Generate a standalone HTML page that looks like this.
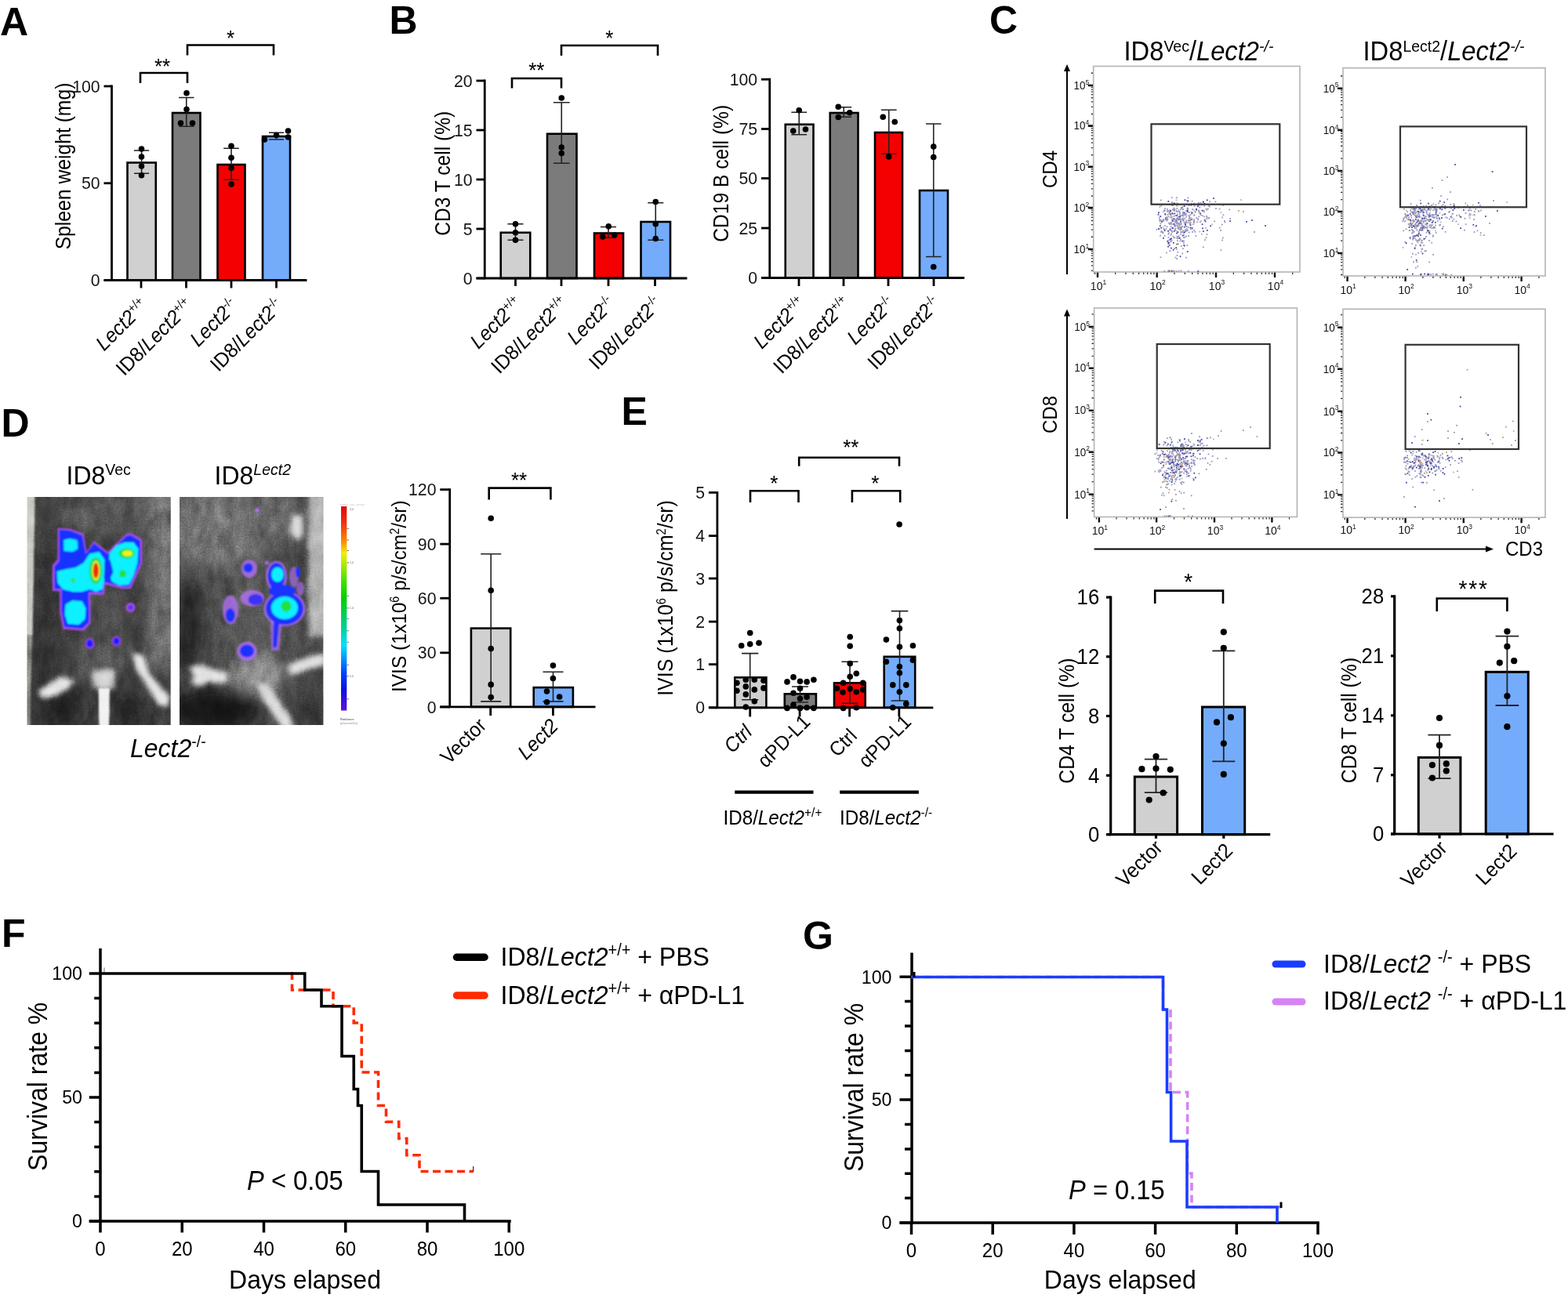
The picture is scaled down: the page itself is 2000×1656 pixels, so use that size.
<!DOCTYPE html>
<html><head><meta charset="utf-8"><title>Figure</title><style>html,body{margin:0;padding:0;background:#fff;width:2000px;height:1656px;overflow:hidden}svg{display:block}</style></head><body>
<svg xmlns="http://www.w3.org/2000/svg" width="2000" height="1656" viewBox="0 0 2000 1656">
<rect width="2000" height="1656" fill="#fff"/>
<defs><filter id="bl1" x="-20%" y="-20%" width="140%" height="140%"><feGaussianBlur stdDeviation="1.2"/></filter><filter id="bl3" x="-50%" y="-50%" width="200%" height="200%"><feGaussianBlur stdDeviation="3"/></filter><filter id="bl6" x="-50%" y="-50%" width="200%" height="200%"><feGaussianBlur stdDeviation="6"/></filter><filter id="bl10" x="-50%" y="-50%" width="200%" height="200%"><feGaussianBlur stdDeviation="10"/></filter><filter id="fur" x="0" y="0" width="100%" height="100%" color-interpolation-filters="sRGB"><feTurbulence type="fractalNoise" baseFrequency="0.07 0.04" numOctaves="3" seed="7"/><feColorMatrix type="matrix" values="0.8 0.8 0 0 -0.3  0.8 0.8 0 0 -0.3  0.8 0.8 0 0 -0.3  0 0 0 0 1"/></filter><filter id="fur2" x="0" y="0" width="100%" height="100%" color-interpolation-filters="sRGB"><feTurbulence type="fractalNoise" baseFrequency="0.5" numOctaves="2" seed="3"/><feColorMatrix type="matrix" values="0.7 0.7 0 0 -0.2  0.7 0.7 0 0 -0.2  0.7 0.7 0 0 -0.2  0 0 0 0 1"/></filter><linearGradient id="cbar" x1="0" y1="0" x2="0" y2="1"><stop offset="0" stop-color="#e00808"/><stop offset="0.08" stop-color="#f03010"/><stop offset="0.17" stop-color="#ff8800"/><stop offset="0.23" stop-color="#f0f000"/><stop offset="0.37" stop-color="#40e000"/><stop offset="0.45" stop-color="#00d000"/><stop offset="0.6" stop-color="#00d0a0"/><stop offset="0.68" stop-color="#00e0ff"/><stop offset="0.82" stop-color="#0040ff"/><stop offset="0.9" stop-color="#1010e0"/><stop offset="1" stop-color="#6010e0"/></linearGradient></defs>
<g font-family="Liberation Sans, Arial, Helvetica, sans-serif">
<text x="0" y="45" font-size="50" font-weight="bold" fill="#000">A</text>
<text x="496.5" y="42.5" font-size="50" font-weight="bold" fill="#000">B</text>
<text x="1262" y="42.5" font-size="50" font-weight="bold" fill="#000">C</text>
<text x="1.5" y="557" font-size="50" font-weight="bold" fill="#000">D</text>
<text x="792.4" y="541.8" font-size="50" font-weight="bold" fill="#000">E</text>
<text x="2" y="1207.5" font-size="50" font-weight="bold" fill="#000">F</text>
<text x="1024" y="1211" font-size="50" font-weight="bold" fill="#000">G</text>
<rect x="162.5" y="207.5" width="36.25" height="150" fill="#d0d0d0" stroke="#000" stroke-width="2.6"/>
<rect x="220" y="144" width="35.5" height="213.5" fill="#7b7b7b" stroke="#000" stroke-width="2.6"/>
<rect x="277.5" y="210" width="35" height="147.5" fill="#f50000" stroke="#000" stroke-width="2.6"/>
<rect x="335" y="174" width="35" height="183.5" fill="#74acfb" stroke="#000" stroke-width="2.6"/>
<path d="M180.6 192V221.25M171 192H190.2M171 221.25H190.2" stroke="#222" stroke-width="1.6" fill="none"/>
<path d="M237.75 124.5V161.25M228 124.5H247.5M228 161.25H247.5" stroke="#222" stroke-width="1.6" fill="none"/>
<path d="M295 189.25V229.25M285.25 189.25H304.75M285.25 229.25H304.75" stroke="#222" stroke-width="1.6" fill="none"/>
<path d="M352.5 169.25V178M343 169.25H362M343 178H362" stroke="#222" stroke-width="1.6" fill="none"/>
<circle cx="180.5" cy="190" r="3.8" fill="#000"/>
<circle cx="180.5" cy="200" r="3.8" fill="#000"/>
<circle cx="180.5" cy="212" r="3.8" fill="#000"/>
<circle cx="180.5" cy="223.75" r="3.8" fill="#000"/>
<circle cx="238" cy="118.75" r="3.8" fill="#000"/>
<circle cx="238" cy="139.5" r="3.8" fill="#000"/>
<circle cx="230.5" cy="157" r="3.8" fill="#000"/>
<circle cx="245.5" cy="157" r="3.8" fill="#000"/>
<circle cx="295" cy="186.25" r="3.8" fill="#000"/>
<circle cx="295" cy="201.25" r="3.8" fill="#000"/>
<circle cx="295" cy="214.25" r="3.8" fill="#000"/>
<circle cx="295" cy="235" r="3.8" fill="#000"/>
<circle cx="337.5" cy="178" r="3.8" fill="#000"/>
<circle cx="352.5" cy="172.5" r="3.8" fill="#000"/>
<circle cx="367.5" cy="167" r="3.8" fill="#000"/>
<circle cx="367.5" cy="175" r="3.8" fill="#000"/>
<path d="M142.5 110V357.5H390" stroke="#000" stroke-width="2.8" fill="none" stroke-linecap="square"/>
<path d="M132.5 357.5H142.5" stroke="#000" stroke-width="2.8"/>
<line x1="132.5" y1="110" x2="142.5" y2="110" stroke="#000" stroke-width="2.8" />
<text transform="translate(127.7 117.67) scale(1 1.06)" font-size="21.3" text-anchor="end" fill="#151515">100</text>
<line x1="132.5" y1="233.75" x2="142.5" y2="233.75" stroke="#000" stroke-width="2.8" />
<text transform="translate(127.7 241.42) scale(1 1.06)" font-size="21.3" text-anchor="end" fill="#151515">50</text>
<line x1="132.5" y1="357.5" x2="142.5" y2="357.5" stroke="#000" stroke-width="2.8" />
<text transform="translate(127.7 365.17) scale(1 1.06)" font-size="21.3" text-anchor="end" fill="#151515">0</text>
<line x1="180" y1="357.5" x2="180" y2="367.5" stroke="#000" stroke-width="2.8" />
<line x1="237.5" y1="357.5" x2="237.5" y2="367.5" stroke="#000" stroke-width="2.8" />
<line x1="295" y1="357.5" x2="295" y2="367.5" stroke="#000" stroke-width="2.8" />
<line x1="352.5" y1="357.5" x2="352.5" y2="367.5" stroke="#000" stroke-width="2.8" />
<path d="M179 106V93H239V106" stroke="#000" stroke-width="2.6" fill="none"/>
<text transform="translate(207 94) scale(1 1.06)" font-size="26" text-anchor="middle" fill="#000">**</text>
<path d="M239 70.5V57.5H349V70.5" stroke="#000" stroke-width="2.6" fill="none"/>
<text transform="translate(294 58) scale(1 1.06)" font-size="26" text-anchor="middle" fill="#000">*</text>
<text transform="translate(89.5 212) rotate(-90) scale(1 1.09)" font-size="24.7" text-anchor="middle">Spleen weight (mg)</text>
<text transform="translate(190 391.5) rotate(-45) scale(1 1.06)" font-size="24.5" text-anchor="end"><tspan font-style="italic">Lect2</tspan><tspan font-size="14.5" dy="-9">+/+</tspan></text>
<text transform="translate(247.5 391.5) rotate(-45) scale(1 1.06)" font-size="24.5" text-anchor="end">ID8/<tspan font-style="italic">Lect2</tspan><tspan font-size="14.5" dy="-9">+/+</tspan></text>
<text transform="translate(305 391.5) rotate(-45) scale(1 1.06)" font-size="24.5" text-anchor="end"><tspan font-style="italic">Lect2</tspan><tspan font-size="14.5" dy="-9">-/-</tspan></text>
<text transform="translate(362.5 391.5) rotate(-45) scale(1 1.06)" font-size="24.5" text-anchor="end">ID8/<tspan font-style="italic">Lect2</tspan><tspan font-size="14.5" dy="-9">-/-</tspan></text>
<rect x="638.75" y="296.75" width="37.5" height="58.25" fill="#d0d0d0" stroke="#000" stroke-width="2.6"/>
<rect x="698" y="170.75" width="37.5" height="184.25" fill="#7b7b7b" stroke="#000" stroke-width="2.6"/>
<rect x="758" y="297.5" width="37" height="57.5" fill="#f50000" stroke="#000" stroke-width="2.6"/>
<rect x="817.5" y="283" width="37.5" height="72" fill="#74acfb" stroke="#000" stroke-width="2.6"/>
<path d="M657.5 285.75V306.25M647.5 285.75H667.5M647.5 306.25H667.5" stroke="#222" stroke-width="1.6" fill="none"/>
<path d="M716.25 130.75V208.25M705.85 130.75H726.65M705.85 208.25H726.65" stroke="#222" stroke-width="1.6" fill="none"/>
<path d="M776 289.5V303.25M766 289.5H786M766 303.25H786" stroke="#222" stroke-width="1.6" fill="none"/>
<path d="M836.25 258.75V306.25M826.25 258.75H846.25M826.25 306.25H846.25" stroke="#222" stroke-width="1.6" fill="none"/>
<circle cx="657.5" cy="285.75" r="3.8" fill="#000"/>
<circle cx="657.5" cy="296.75" r="3.8" fill="#000"/>
<circle cx="657.5" cy="306.25" r="3.8" fill="#000"/>
<circle cx="716.25" cy="125" r="3.8" fill="#000"/>
<circle cx="716.25" cy="188" r="3.8" fill="#000"/>
<circle cx="716.25" cy="195.5" r="3.8" fill="#000"/>
<circle cx="776.25" cy="288.75" r="3.8" fill="#000"/>
<circle cx="768.75" cy="302" r="3.8" fill="#000"/>
<circle cx="783.75" cy="300" r="3.8" fill="#000"/>
<circle cx="836.25" cy="257.5" r="3.8" fill="#000"/>
<circle cx="836.25" cy="285.75" r="3.8" fill="#000"/>
<circle cx="836.25" cy="304.5" r="3.8" fill="#000"/>
<path d="M618.25 103V355H875" stroke="#000" stroke-width="2.8" fill="none" stroke-linecap="square"/>
<path d="M607.5 355H618.25" stroke="#000" stroke-width="2.8"/>
<line x1="607.5" y1="103" x2="618.25" y2="103" stroke="#000" stroke-width="2.8" />
<text transform="translate(602.7 110.67) scale(1 1.06)" font-size="21.3" text-anchor="end" fill="#151515">20</text>
<line x1="607.5" y1="166" x2="618.25" y2="166" stroke="#000" stroke-width="2.8" />
<text transform="translate(602.7 173.67) scale(1 1.06)" font-size="21.3" text-anchor="end" fill="#151515">15</text>
<line x1="607.5" y1="229" x2="618.25" y2="229" stroke="#000" stroke-width="2.8" />
<text transform="translate(602.7 236.67) scale(1 1.06)" font-size="21.3" text-anchor="end" fill="#151515">10</text>
<line x1="607.5" y1="292" x2="618.25" y2="292" stroke="#000" stroke-width="2.8" />
<text transform="translate(602.7 299.67) scale(1 1.06)" font-size="21.3" text-anchor="end" fill="#151515">5</text>
<line x1="607.5" y1="355" x2="618.25" y2="355" stroke="#000" stroke-width="2.8" />
<text transform="translate(602.7 362.67) scale(1 1.06)" font-size="21.3" text-anchor="end" fill="#151515">0</text>
<line x1="657.5" y1="355" x2="657.5" y2="365" stroke="#000" stroke-width="2.8" />
<line x1="716" y1="355" x2="716" y2="365" stroke="#000" stroke-width="2.8" />
<line x1="776" y1="355" x2="776" y2="365" stroke="#000" stroke-width="2.8" />
<line x1="835.5" y1="355" x2="835.5" y2="365" stroke="#000" stroke-width="2.8" />
<path d="M653 112.5V100H716V112.5" stroke="#000" stroke-width="2.6" fill="none"/>
<text transform="translate(684.3 99.2) scale(1 1.06)" font-size="26" text-anchor="middle" fill="#000">**</text>
<path d="M716 71V58H839V71" stroke="#000" stroke-width="2.6" fill="none"/>
<text transform="translate(777.2 58) scale(1 1.06)" font-size="26" text-anchor="middle" fill="#000">*</text>
<text transform="translate(574 221.3) rotate(-90) scale(1 1.09)" font-size="24.6" text-anchor="middle">CD3 T cell (%)</text>
<text transform="translate(667.5 389) rotate(-45) scale(1 1.06)" font-size="24.5" text-anchor="end"><tspan font-style="italic">Lect2</tspan><tspan font-size="14.5" dy="-9">+/+</tspan></text>
<text transform="translate(726 389) rotate(-45) scale(1 1.06)" font-size="24.5" text-anchor="end">ID8/<tspan font-style="italic">Lect2</tspan><tspan font-size="14.5" dy="-9">+/+</tspan></text>
<text transform="translate(786 389) rotate(-45) scale(1 1.06)" font-size="24.5" text-anchor="end"><tspan font-style="italic">Lect2</tspan><tspan font-size="14.5" dy="-9">-/-</tspan></text>
<text transform="translate(845.5 389) rotate(-45) scale(1 1.06)" font-size="24.5" text-anchor="end">ID8/<tspan font-style="italic">Lect2</tspan><tspan font-size="14.5" dy="-9">-/-</tspan></text>
<rect x="1001.75" y="158.75" width="35.75" height="195.75" fill="#d0d0d0" stroke="#000" stroke-width="2.6"/>
<rect x="1058.75" y="144" width="35.75" height="210.5" fill="#7b7b7b" stroke="#000" stroke-width="2.6"/>
<rect x="1116" y="169" width="35" height="185.5" fill="#f50000" stroke="#000" stroke-width="2.6"/>
<rect x="1173" y="243" width="36" height="111.5" fill="#74acfb" stroke="#000" stroke-width="2.6"/>
<path d="M1019.25 143.25V171.75M1009.35 143.25H1029.15M1009.35 171.75H1029.15" stroke="#222" stroke-width="1.6" fill="none"/>
<path d="M1076.25 136.75V149.25M1066.35 136.75H1086.15M1066.35 149.25H1086.15" stroke="#222" stroke-width="1.6" fill="none"/>
<path d="M1133.75 140.25V196.25M1123.85 140.25H1143.65M1123.85 196.25H1143.65" stroke="#222" stroke-width="1.6" fill="none"/>
<path d="M1190.75 158V327.5M1181 158H1200.5M1181 327.5H1200.5" stroke="#222" stroke-width="1.6" fill="none"/>
<circle cx="1019.25" cy="140.75" r="3.8" fill="#000"/>
<circle cx="1011.75" cy="167" r="3.8" fill="#000"/>
<circle cx="1027.5" cy="165" r="3.8" fill="#000"/>
<circle cx="1069.25" cy="136.25" r="3.8" fill="#000"/>
<circle cx="1083.75" cy="143.75" r="3.8" fill="#000"/>
<circle cx="1069.25" cy="149.5" r="3.8" fill="#000"/>
<circle cx="1126.25" cy="149.25" r="3.8" fill="#000"/>
<circle cx="1141.25" cy="155.5" r="3.8" fill="#000"/>
<circle cx="1133.75" cy="200" r="3.8" fill="#000"/>
<circle cx="1190.75" cy="187" r="3.8" fill="#000"/>
<circle cx="1190.75" cy="200.5" r="3.8" fill="#000"/>
<circle cx="1190.75" cy="340.5" r="3.8" fill="#000"/>
<path d="M981.75 101.25V354.5H1228.75" stroke="#000" stroke-width="2.8" fill="none" stroke-linecap="square"/>
<path d="M971 354.5H981.75" stroke="#000" stroke-width="2.8"/>
<line x1="971" y1="101.25" x2="981.75" y2="101.25" stroke="#000" stroke-width="2.8" />
<text transform="translate(966.2 108.92) scale(1 1.06)" font-size="21.3" text-anchor="end" fill="#151515">100</text>
<line x1="971" y1="164.5" x2="981.75" y2="164.5" stroke="#000" stroke-width="2.8" />
<text transform="translate(966.2 172.17) scale(1 1.06)" font-size="21.3" text-anchor="end" fill="#151515">75</text>
<line x1="971" y1="227.5" x2="981.75" y2="227.5" stroke="#000" stroke-width="2.8" />
<text transform="translate(966.2 235.17) scale(1 1.06)" font-size="21.3" text-anchor="end" fill="#151515">50</text>
<line x1="971" y1="291" x2="981.75" y2="291" stroke="#000" stroke-width="2.8" />
<text transform="translate(966.2 298.67) scale(1 1.06)" font-size="21.3" text-anchor="end" fill="#151515">25</text>
<line x1="971" y1="354.5" x2="981.75" y2="354.5" stroke="#000" stroke-width="2.8" />
<text transform="translate(966.2 362.17) scale(1 1.06)" font-size="21.3" text-anchor="end" fill="#151515">0</text>
<line x1="1019" y1="354.5" x2="1019" y2="365" stroke="#000" stroke-width="2.8" />
<line x1="1076" y1="354.5" x2="1076" y2="365" stroke="#000" stroke-width="2.8" />
<line x1="1133" y1="354.5" x2="1133" y2="365" stroke="#000" stroke-width="2.8" />
<line x1="1191" y1="354.5" x2="1191" y2="365" stroke="#000" stroke-width="2.8" />
<text transform="translate(929 221.3) rotate(-90) scale(1 1.09)" font-size="24.6" text-anchor="middle">CD19 B cell (%)</text>
<text transform="translate(1029 389) rotate(-45) scale(1 1.06)" font-size="24.5" text-anchor="end"><tspan font-style="italic">Lect2</tspan><tspan font-size="14.5" dy="-9">+/+</tspan></text>
<text transform="translate(1086 389) rotate(-45) scale(1 1.06)" font-size="24.5" text-anchor="end">ID8/<tspan font-style="italic">Lect2</tspan><tspan font-size="14.5" dy="-9">+/+</tspan></text>
<text transform="translate(1143 389) rotate(-45) scale(1 1.06)" font-size="24.5" text-anchor="end"><tspan font-style="italic">Lect2</tspan><tspan font-size="14.5" dy="-9">-/-</tspan></text>
<text transform="translate(1201 389) rotate(-45) scale(1 1.06)" font-size="24.5" text-anchor="end">ID8/<tspan font-style="italic">Lect2</tspan><tspan font-size="14.5" dy="-9">-/-</tspan></text>
<text transform="translate(1433.5 77) scale(1 1.06)" font-size="32.7" fill="#000">ID8<tspan font-size="19.5" dy="-10.5">Vec</tspan><tspan dy="10.5">/</tspan><tspan font-style="italic">Lect2</tspan><tspan font-style="italic" font-size="19.5" dy="-10.5">-/-</tspan></text>
<text transform="translate(1738.5 77) scale(1 1.06)" font-size="32.7" fill="#000">ID8<tspan font-size="19.5" dy="-10.5">Lect2</tspan><tspan dy="10.5">/</tspan><tspan font-style="italic">Lect2</tspan><tspan font-style="italic" font-size="19.5" dy="-10.5">-/-</tspan></text>
<line x1="1361" y1="350" x2="1361" y2="88" stroke="#000" stroke-width="2" />
<path d="M1361 82L1357 91L1365 91Z" fill="#000"/>
<line x1="1361" y1="662" x2="1361" y2="400.5" stroke="#000" stroke-width="2" />
<path d="M1361 394.5L1357 403.5L1365 403.5Z" fill="#000"/>
<line x1="1395.6" y1="700.5" x2="1897" y2="700.5" stroke="#000" stroke-width="2" />
<path d="M1905 700.5L1895 696.5L1895 704.5Z" fill="#000"/>
<text transform="translate(1348 216) rotate(-90) scale(1 1.09)" font-size="24" text-anchor="middle">CD4</text>
<text transform="translate(1348 529) rotate(-90) scale(1 1.09)" font-size="24" text-anchor="middle">CD8</text>
<text transform="translate(1920 709) scale(1 1.06)" font-size="24" fill="#000">CD3</text>
<path d="M1391.7 345.32H1394.7M1391.7 338.79H1394.7M1391.7 333.73H1394.7M1391.7 329.59H1394.7M1391.7 326.09H1394.7M1391.7 323.06H1394.7M1391.7 320.39H1394.7M1388.7 318H1394.7M1391.7 302.27H1394.7M1391.7 293.07H1394.7M1391.7 286.54H1394.7M1391.7 281.48H1394.7M1391.7 277.34H1394.7M1391.7 273.84H1394.7M1391.7 270.81H1394.7M1391.7 268.14H1394.7M1388.7 265.75H1394.7M1391.7 250.02H1394.7M1391.7 240.82H1394.7M1391.7 234.29H1394.7M1391.7 229.23H1394.7M1391.7 225.09H1394.7M1391.7 221.59H1394.7M1391.7 218.56H1394.7M1391.7 215.89H1394.7M1388.7 213.5H1394.7M1391.7 197.77H1394.7M1391.7 188.57H1394.7M1391.7 182.04H1394.7M1391.7 176.98H1394.7M1391.7 172.84H1394.7M1391.7 169.34H1394.7M1391.7 166.31H1394.7M1391.7 163.64H1394.7M1388.7 161.25H1394.7M1391.7 145.52H1394.7M1391.7 136.32H1394.7M1391.7 129.79H1394.7M1391.7 124.73H1394.7M1391.7 120.59H1394.7M1391.7 117.09H1394.7M1391.7 114.06H1394.7M1391.7 111.39H1394.7M1388.7 109H1394.7M1391.7 93.27H1394.7" stroke="#333" stroke-width="1.3" fill="none"/>
<path d="M1387.7 109H1394.7M1387.7 160.5H1394.7M1387.7 212.7H1394.7M1387.7 265H1394.7M1387.7 318H1394.7" stroke="#111" stroke-width="2.4" fill="none"/>
<path d="M1396.55 347V350M1422.68 347V350M1435.94 347V350M1445.36 347V350M1452.66 347V350M1458.62 347V350M1463.66 347V350M1468.03 347V350M1471.89 347V350M1498.01 347V350M1511.28 347V350M1520.69 347V350M1527.99 347V350M1533.95 347V350M1539 347V350M1543.37 347V350M1547.22 347V350M1573.34 347V350M1586.61 347V350M1596.02 347V350M1603.32 347V350M1609.29 347V350M1614.33 347V350M1618.7 347V350M1622.55 347V350M1648.68 347V350" stroke="#333" stroke-width="1.3" fill="none"/>
<path d="M1400 347V354M1475.7 347V354M1551 347V354M1626 347V354" stroke="#111" stroke-width="2.4" fill="none"/>
<rect x="1394.7" y="84.5" width="263.3" height="262.5" fill="none" stroke="#b4b4b4" stroke-width="1.6"/>
<text transform="translate(1389.2 113.8) scale(1 1.06)" font-size="13.5" text-anchor="end" fill="#111">10<tspan font-size="8.5" dy="-5.8">5</tspan></text>
<text transform="translate(1389.2 165.3) scale(1 1.06)" font-size="13.5" text-anchor="end" fill="#111">10<tspan font-size="8.5" dy="-5.8">4</tspan></text>
<text transform="translate(1389.2 217.5) scale(1 1.06)" font-size="13.5" text-anchor="end" fill="#111">10<tspan font-size="8.5" dy="-5.8">3</tspan></text>
<text transform="translate(1389.2 269.8) scale(1 1.06)" font-size="13.5" text-anchor="end" fill="#111">10<tspan font-size="8.5" dy="-5.8">2</tspan></text>
<text transform="translate(1389.2 322.8) scale(1 1.06)" font-size="13.5" text-anchor="end" fill="#111">10<tspan font-size="8.5" dy="-5.8">1</tspan></text>
<text transform="translate(1401 369.5) scale(1 1.06)" font-size="14" text-anchor="middle" fill="#111">10<tspan font-size="8.5" dy="-5.8">1</tspan></text>
<text transform="translate(1476.7 369.5) scale(1 1.06)" font-size="14" text-anchor="middle" fill="#111">10<tspan font-size="8.5" dy="-5.8">2</tspan></text>
<text transform="translate(1552 369.5) scale(1 1.06)" font-size="14" text-anchor="middle" fill="#111">10<tspan font-size="8.5" dy="-5.8">3</tspan></text>
<text transform="translate(1627 369.5) scale(1 1.06)" font-size="14" text-anchor="middle" fill="#111">10<tspan font-size="8.5" dy="-5.8">4</tspan></text>
<rect x="1484.96" y="287.01" width="1.8" height="1.8" fill="#9898c0"/><rect x="1516.03" y="275.43" width="1.8" height="1.8" fill="#9898c0"/><rect x="1483.49" y="281.25" width="1.8" height="1.8" fill="#9898c0"/><rect x="1508.79" y="296.38" width="1.8" height="1.8" fill="#9898c0"/><rect x="1485.08" y="265.29" width="1.8" height="1.8" fill="#9898c0"/><rect x="1511.98" y="288.26" width="1.8" height="1.8" fill="#9898c0"/><rect x="1523.57" y="294.87" width="1.8" height="1.8" fill="#9898c0"/><rect x="1500.68" y="278.53" width="1.8" height="1.8" fill="#c89868"/><rect x="1538.09" y="278.35" width="1.8" height="1.8" fill="#9898c0"/><rect x="1491.11" y="267.3" width="1.8" height="1.8" fill="#b4b4bc"/><rect x="1503.44" y="283.99" width="1.8" height="1.8" fill="#9898c0"/><rect x="1497.27" y="281.29" width="1.8" height="1.8" fill="#9898c0"/><rect x="1505.92" y="291.1" width="1.8" height="1.8" fill="#9898c0"/><rect x="1517.46" y="284.83" width="1.8" height="1.8" fill="#b4b4bc"/><rect x="1477.04" y="291.22" width="1.8" height="1.8" fill="#9898c0"/><rect x="1482.22" y="279.87" width="1.8" height="1.8" fill="#9898c0"/><rect x="1481.47" y="282.13" width="1.8" height="1.8" fill="#9898c0"/><rect x="1491.2" y="284.88" width="1.8" height="1.8" fill="#b4b4bc"/><rect x="1548.3" y="281.47" width="1.8" height="1.8" fill="#9898c0"/><rect x="1513.89" y="264.9" width="1.8" height="1.8" fill="#4646a6"/><rect x="1498.07" y="290.71" width="1.8" height="1.8" fill="#9898c0"/><rect x="1500.8" y="286.91" width="1.8" height="1.8" fill="#b4b4bc"/><rect x="1503.55" y="269.02" width="1.8" height="1.8" fill="#9898c0"/><rect x="1509.99" y="271.54" width="1.8" height="1.8" fill="#9898c0"/><rect x="1528.3" y="275.53" width="1.8" height="1.8" fill="#9898c0"/><rect x="1511.71" y="282.13" width="1.8" height="1.8" fill="#9898c0"/><rect x="1515.43" y="274.27" width="1.8" height="1.8" fill="#9898c0"/><rect x="1516.08" y="280.49" width="1.8" height="1.8" fill="#4646a6"/><rect x="1519.79" y="290.21" width="1.8" height="1.8" fill="#4646a6"/><rect x="1504.08" y="271.96" width="1.8" height="1.8" fill="#9898c0"/><rect x="1512.85" y="288.19" width="1.8" height="1.8" fill="#9898c0"/><rect x="1525.09" y="277.2" width="1.8" height="1.8" fill="#9898c0"/><rect x="1509.87" y="288.7" width="1.8" height="1.8" fill="#4646a6"/><rect x="1506.06" y="284.81" width="1.8" height="1.8" fill="#9898c0"/><rect x="1504.65" y="274.32" width="1.8" height="1.8" fill="#9898c0"/><rect x="1487.9" y="276.95" width="1.8" height="1.8" fill="#9898c0"/><rect x="1510.37" y="301.75" width="1.8" height="1.8" fill="#9898c0"/><rect x="1515.78" y="295.79" width="1.8" height="1.8" fill="#9898c0"/><rect x="1512.98" y="291.18" width="1.8" height="1.8" fill="#9898c0"/><rect x="1504.67" y="292.13" width="1.8" height="1.8" fill="#4646a6"/><rect x="1526.93" y="277.84" width="1.8" height="1.8" fill="#b4b4bc"/><rect x="1492.39" y="307.58" width="1.8" height="1.8" fill="#c89868"/><rect x="1505.53" y="294.72" width="1.8" height="1.8" fill="#9898c0"/><rect x="1514.33" y="267.34" width="1.8" height="1.8" fill="#b4b4bc"/><rect x="1536.17" y="305.19" width="1.8" height="1.8" fill="#9898c0"/><rect x="1504.58" y="291.88" width="1.8" height="1.8" fill="#9898c0"/><rect x="1503.88" y="270.61" width="1.8" height="1.8" fill="#9898c0"/><rect x="1500.53" y="286.96" width="1.8" height="1.8" fill="#9898c0"/><rect x="1517.72" y="291.32" width="1.8" height="1.8" fill="#9898c0"/><rect x="1502.93" y="299.71" width="1.8" height="1.8" fill="#b4b4bc"/><rect x="1491.45" y="292.41" width="1.8" height="1.8" fill="#4646a6"/><rect x="1517.67" y="278.3" width="1.8" height="1.8" fill="#9898c0"/><rect x="1477.03" y="270.32" width="1.8" height="1.8" fill="#4646a6"/><rect x="1505.42" y="288.96" width="1.8" height="1.8" fill="#9898c0"/><rect x="1523.77" y="269.05" width="1.8" height="1.8" fill="#c89868"/><rect x="1502.13" y="290.53" width="1.8" height="1.8" fill="#4646a6"/><rect x="1499.89" y="251.29" width="1.8" height="1.8" fill="#9898c0"/><rect x="1513.39" y="312.16" width="1.8" height="1.8" fill="#9898c0"/><rect x="1516.16" y="270.17" width="1.8" height="1.8" fill="#9898c0"/><rect x="1496.33" y="284.98" width="1.8" height="1.8" fill="#4646a6"/><rect x="1536.95" y="290.13" width="1.8" height="1.8" fill="#b4b4bc"/><rect x="1503.69" y="302.35" width="1.8" height="1.8" fill="#9898c0"/><rect x="1500.96" y="306.3" width="1.8" height="1.8" fill="#9898c0"/><rect x="1492.51" y="275.93" width="1.8" height="1.8" fill="#9898c0"/><rect x="1512.19" y="300.62" width="1.8" height="1.8" fill="#9898c0"/><rect x="1511.25" y="286.02" width="1.8" height="1.8" fill="#4646a6"/><rect x="1476.6" y="272.83" width="1.8" height="1.8" fill="#4646a6"/><rect x="1493.55" y="275.16" width="1.8" height="1.8" fill="#b4b4bc"/><rect x="1510.31" y="277.74" width="1.8" height="1.8" fill="#9898c0"/><rect x="1513.13" y="283.17" width="1.8" height="1.8" fill="#9898c0"/><rect x="1497.44" y="283.64" width="1.8" height="1.8" fill="#b4b4bc"/><rect x="1508.1" y="293.26" width="1.8" height="1.8" fill="#c89868"/><rect x="1495.41" y="279.07" width="1.8" height="1.8" fill="#9898c0"/><rect x="1483.01" y="302.95" width="1.8" height="1.8" fill="#4646a6"/><rect x="1522.42" y="279.78" width="1.8" height="1.8" fill="#9898c0"/><rect x="1495.4" y="266.03" width="1.8" height="1.8" fill="#b4b4bc"/><rect x="1504.48" y="284.78" width="1.8" height="1.8" fill="#b4b4bc"/><rect x="1532.64" y="285.3" width="1.8" height="1.8" fill="#4646a6"/><rect x="1521.83" y="284.56" width="1.8" height="1.8" fill="#9898c0"/><rect x="1479.57" y="284.44" width="1.8" height="1.8" fill="#9898c0"/><rect x="1479.58" y="327.35" width="1.8" height="1.8" fill="#9898c0"/><rect x="1517.77" y="289.54" width="1.8" height="1.8" fill="#4646a6"/><rect x="1499.65" y="254.28" width="1.8" height="1.8" fill="#b4b4bc"/><rect x="1500.33" y="261.89" width="1.8" height="1.8" fill="#c89868"/><rect x="1510.45" y="254.29" width="1.8" height="1.8" fill="#4646a6"/><rect x="1489.39" y="297.95" width="1.8" height="1.8" fill="#9898c0"/><rect x="1525.11" y="266.74" width="1.8" height="1.8" fill="#4646a6"/><rect x="1480.62" y="293.53" width="1.8" height="1.8" fill="#b4b4bc"/><rect x="1514.04" y="269.27" width="1.8" height="1.8" fill="#4646a6"/><rect x="1492.38" y="273.08" width="1.8" height="1.8" fill="#4646a6"/><rect x="1485.45" y="273.26" width="1.8" height="1.8" fill="#9898c0"/><rect x="1519.61" y="291.07" width="1.8" height="1.8" fill="#9898c0"/><rect x="1530.89" y="280.98" width="1.8" height="1.8" fill="#b4b4bc"/><rect x="1500.2" y="269.33" width="1.8" height="1.8" fill="#b4b4bc"/><rect x="1500.37" y="265.03" width="1.8" height="1.8" fill="#9898c0"/><rect x="1477.22" y="291.16" width="1.8" height="1.8" fill="#4646a6"/><rect x="1522.26" y="292.98" width="1.8" height="1.8" fill="#9898c0"/><rect x="1520.75" y="285.38" width="1.8" height="1.8" fill="#b4b4bc"/><rect x="1492.04" y="283.22" width="1.8" height="1.8" fill="#9898c0"/><rect x="1496.86" y="267.65" width="1.8" height="1.8" fill="#4646a6"/><rect x="1478.41" y="262.82" width="1.8" height="1.8" fill="#9898c0"/><rect x="1502.02" y="284.06" width="1.8" height="1.8" fill="#9898c0"/><rect x="1495.46" y="300.68" width="1.8" height="1.8" fill="#9898c0"/><rect x="1504.61" y="289.68" width="1.8" height="1.8" fill="#4646a6"/><rect x="1519.16" y="271.44" width="1.8" height="1.8" fill="#4646a6"/><rect x="1474.52" y="291.88" width="1.8" height="1.8" fill="#9898c0"/><rect x="1492.46" y="299.14" width="1.8" height="1.8" fill="#9898c0"/><rect x="1506.83" y="295.19" width="1.8" height="1.8" fill="#9898c0"/><rect x="1512.79" y="255.05" width="1.8" height="1.8" fill="#9898c0"/><rect x="1512.17" y="273.35" width="1.8" height="1.8" fill="#9898c0"/><rect x="1491.51" y="276.44" width="1.8" height="1.8" fill="#b4b4bc"/><rect x="1512.85" y="293.6" width="1.8" height="1.8" fill="#9898c0"/><rect x="1516.26" y="260.52" width="1.8" height="1.8" fill="#9898c0"/><rect x="1493.83" y="251.22" width="1.8" height="1.8" fill="#9898c0"/><rect x="1500.67" y="289.9" width="1.8" height="1.8" fill="#b4b4bc"/><rect x="1491.4" y="285.28" width="1.8" height="1.8" fill="#9898c0"/><rect x="1505.34" y="295.2" width="1.8" height="1.8" fill="#9898c0"/><rect x="1490.6" y="271.32" width="1.8" height="1.8" fill="#9898c0"/><rect x="1491.41" y="304.88" width="1.8" height="1.8" fill="#4646a6"/><rect x="1517.37" y="280.49" width="1.8" height="1.8" fill="#c89868"/><rect x="1505.26" y="283.59" width="1.8" height="1.8" fill="#9898c0"/><rect x="1504.94" y="279.39" width="1.8" height="1.8" fill="#9898c0"/><rect x="1497.42" y="265.76" width="1.8" height="1.8" fill="#9898c0"/><rect x="1493.11" y="303.56" width="1.8" height="1.8" fill="#4646a6"/><rect x="1509.61" y="282.94" width="1.8" height="1.8" fill="#9898c0"/><rect x="1499.09" y="282.91" width="1.8" height="1.8" fill="#9898c0"/><rect x="1507.05" y="273.7" width="1.8" height="1.8" fill="#9898c0"/><rect x="1504.85" y="285.22" width="1.8" height="1.8" fill="#9898c0"/><rect x="1491.62" y="271.84" width="1.8" height="1.8" fill="#4646a6"/><rect x="1488.11" y="268.28" width="1.8" height="1.8" fill="#9898c0"/><rect x="1514.56" y="251.42" width="1.8" height="1.8" fill="#9898c0"/><rect x="1498.37" y="274.16" width="1.8" height="1.8" fill="#9898c0"/><rect x="1493.42" y="283.37" width="1.8" height="1.8" fill="#9898c0"/><rect x="1517.89" y="283.09" width="1.8" height="1.8" fill="#9898c0"/><rect x="1500.14" y="274.14" width="1.8" height="1.8" fill="#4646a6"/><rect x="1500.29" y="293.96" width="1.8" height="1.8" fill="#b4b4bc"/><rect x="1496.58" y="267.2" width="1.8" height="1.8" fill="#c89868"/><rect x="1484.4" y="267.71" width="1.8" height="1.8" fill="#4646a6"/><rect x="1482.64" y="296.39" width="1.8" height="1.8" fill="#9898c0"/><rect x="1507.07" y="279.01" width="1.8" height="1.8" fill="#9898c0"/><rect x="1522.53" y="273.55" width="1.8" height="1.8" fill="#9898c0"/><rect x="1512.64" y="292.51" width="1.8" height="1.8" fill="#b4b4bc"/><rect x="1480.45" y="261.86" width="1.8" height="1.8" fill="#9898c0"/><rect x="1489.11" y="293.89" width="1.8" height="1.8" fill="#4646a6"/><rect x="1520.25" y="266.14" width="1.8" height="1.8" fill="#9898c0"/><rect x="1516.78" y="277.12" width="1.8" height="1.8" fill="#9898c0"/><rect x="1496.59" y="274.94" width="1.8" height="1.8" fill="#9898c0"/><rect x="1497.56" y="258.46" width="1.8" height="1.8" fill="#9898c0"/><rect x="1488.08" y="266.04" width="1.8" height="1.8" fill="#9898c0"/><rect x="1508.97" y="309.26" width="1.8" height="1.8" fill="#9898c0"/><rect x="1540.35" y="277.73" width="1.8" height="1.8" fill="#9898c0"/><rect x="1478" y="276.81" width="1.8" height="1.8" fill="#9898c0"/><rect x="1488.95" y="307.88" width="1.8" height="1.8" fill="#9898c0"/><rect x="1510.09" y="272.63" width="1.8" height="1.8" fill="#9898c0"/><rect x="1515.2" y="289.07" width="1.8" height="1.8" fill="#c89868"/><rect x="1479.35" y="275.19" width="1.8" height="1.8" fill="#4646a6"/><rect x="1498.75" y="282.35" width="1.8" height="1.8" fill="#9898c0"/><rect x="1503.95" y="277.69" width="1.8" height="1.8" fill="#4646a6"/><rect x="1504.76" y="274.48" width="1.8" height="1.8" fill="#9898c0"/><rect x="1489.55" y="301.81" width="1.8" height="1.8" fill="#9898c0"/><rect x="1507.14" y="287.8" width="1.8" height="1.8" fill="#9898c0"/><rect x="1479.77" y="279.94" width="1.8" height="1.8" fill="#9898c0"/><rect x="1513.57" y="265.31" width="1.8" height="1.8" fill="#9898c0"/><rect x="1517.47" y="277.04" width="1.8" height="1.8" fill="#9898c0"/><rect x="1507.74" y="280.37" width="1.8" height="1.8" fill="#9898c0"/><rect x="1505.16" y="297.74" width="1.8" height="1.8" fill="#9898c0"/><rect x="1496.45" y="302.44" width="1.8" height="1.8" fill="#9898c0"/><rect x="1491.15" y="269.99" width="1.8" height="1.8" fill="#9898c0"/><rect x="1512.05" y="268.24" width="1.8" height="1.8" fill="#9898c0"/><rect x="1496.91" y="293.89" width="1.8" height="1.8" fill="#4646a6"/><rect x="1519.05" y="259.03" width="1.8" height="1.8" fill="#9898c0"/><rect x="1509.18" y="306.59" width="1.8" height="1.8" fill="#9898c0"/><rect x="1518.83" y="278.98" width="1.8" height="1.8" fill="#9898c0"/><rect x="1493.69" y="278.24" width="1.8" height="1.8" fill="#b4b4bc"/><rect x="1485.96" y="278.66" width="1.8" height="1.8" fill="#4646a6"/><rect x="1499.48" y="280.21" width="1.8" height="1.8" fill="#4646a6"/><rect x="1518.66" y="279.11" width="1.8" height="1.8" fill="#4646a6"/><rect x="1481.69" y="295.76" width="1.8" height="1.8" fill="#9898c0"/><rect x="1487.08" y="276.29" width="1.8" height="1.8" fill="#9898c0"/><rect x="1500.23" y="277.63" width="1.8" height="1.8" fill="#9898c0"/><rect x="1488.06" y="278.86" width="1.8" height="1.8" fill="#9898c0"/><rect x="1532.68" y="274.21" width="1.8" height="1.8" fill="#9898c0"/><rect x="1500.19" y="296.71" width="1.8" height="1.8" fill="#4646a6"/><rect x="1512.53" y="292.02" width="1.8" height="1.8" fill="#b4b4bc"/><rect x="1514.17" y="256.52" width="1.8" height="1.8" fill="#9898c0"/><rect x="1490" y="283.77" width="1.8" height="1.8" fill="#9898c0"/><rect x="1509.08" y="298.93" width="1.8" height="1.8" fill="#9898c0"/><rect x="1508.67" y="279" width="1.8" height="1.8" fill="#9898c0"/><rect x="1502.65" y="279.36" width="1.8" height="1.8" fill="#4646a6"/><rect x="1505.56" y="290.87" width="1.8" height="1.8" fill="#9898c0"/><rect x="1497.34" y="271.52" width="1.8" height="1.8" fill="#4646a6"/><rect x="1490.13" y="296.36" width="1.8" height="1.8" fill="#9898c0"/><rect x="1520.03" y="295" width="1.8" height="1.8" fill="#9898c0"/><rect x="1514.1" y="292.93" width="1.8" height="1.8" fill="#9898c0"/><rect x="1502.07" y="290.73" width="1.8" height="1.8" fill="#9898c0"/><rect x="1487.37" y="279.46" width="1.8" height="1.8" fill="#9898c0"/><rect x="1491.83" y="291.55" width="1.8" height="1.8" fill="#4646a6"/><rect x="1493.98" y="280.69" width="1.8" height="1.8" fill="#9898c0"/><rect x="1507.71" y="299.71" width="1.8" height="1.8" fill="#4646a6"/><rect x="1491.01" y="269.9" width="1.8" height="1.8" fill="#9898c0"/><rect x="1513.54" y="267.72" width="1.8" height="1.8" fill="#4646a6"/><rect x="1508.43" y="274.69" width="1.8" height="1.8" fill="#9898c0"/><rect x="1500.62" y="258.43" width="1.8" height="1.8" fill="#9898c0"/><rect x="1512.09" y="275.6" width="1.8" height="1.8" fill="#9898c0"/><rect x="1489.52" y="309.1" width="1.8" height="1.8" fill="#4646a6"/><rect x="1512.07" y="327.71" width="1.8" height="1.8" fill="#9898c0"/><rect x="1507.81" y="277.57" width="1.8" height="1.8" fill="#9898c0"/><rect x="1503.61" y="302.99" width="1.8" height="1.8" fill="#4646a6"/><rect x="1501.72" y="287.96" width="1.8" height="1.8" fill="#c89868"/><rect x="1509.33" y="270.27" width="1.8" height="1.8" fill="#4646a6"/><rect x="1503.9" y="275.56" width="1.8" height="1.8" fill="#9898c0"/><rect x="1484.66" y="293.44" width="1.8" height="1.8" fill="#9898c0"/><rect x="1511.42" y="283.07" width="1.8" height="1.8" fill="#c89868"/><rect x="1489.4" y="256.02" width="1.8" height="1.8" fill="#4646a6"/><rect x="1508.9" y="280.83" width="1.8" height="1.8" fill="#9898c0"/><rect x="1478.53" y="281.32" width="1.8" height="1.8" fill="#9898c0"/><rect x="1480.8" y="281.75" width="1.8" height="1.8" fill="#4646a6"/><rect x="1504.1" y="286.71" width="1.8" height="1.8" fill="#9898c0"/><rect x="1505.14" y="284.32" width="1.8" height="1.8" fill="#b4b4bc"/><rect x="1486.14" y="277.11" width="1.8" height="1.8" fill="#4646a6"/><rect x="1494.94" y="279.04" width="1.8" height="1.8" fill="#9898c0"/><rect x="1505.88" y="290.15" width="1.8" height="1.8" fill="#9898c0"/><rect x="1507.71" y="279.52" width="1.8" height="1.8" fill="#9898c0"/><rect x="1533.97" y="294.24" width="1.8" height="1.8" fill="#4646a6"/><rect x="1478.96" y="287.32" width="1.8" height="1.8" fill="#4646a6"/><rect x="1494.81" y="295.02" width="1.8" height="1.8" fill="#c89868"/><rect x="1487.32" y="280.78" width="1.8" height="1.8" fill="#9898c0"/><rect x="1500.26" y="280.84" width="1.8" height="1.8" fill="#9898c0"/><rect x="1493.92" y="258.21" width="1.8" height="1.8" fill="#9898c0"/><rect x="1508.55" y="295.09" width="1.8" height="1.8" fill="#9898c0"/><rect x="1501.14" y="268.88" width="1.8" height="1.8" fill="#9898c0"/><rect x="1504.94" y="289.45" width="1.8" height="1.8" fill="#9898c0"/><rect x="1499.64" y="281.92" width="1.8" height="1.8" fill="#9898c0"/><rect x="1521.82" y="267.56" width="1.8" height="1.8" fill="#b4b4bc"/><rect x="1494.29" y="257.33" width="1.8" height="1.8" fill="#9898c0"/><rect x="1492.3" y="272.49" width="1.8" height="1.8" fill="#9898c0"/><rect x="1488.66" y="273.08" width="1.8" height="1.8" fill="#c89868"/><rect x="1527.26" y="279.55" width="1.8" height="1.8" fill="#9898c0"/><rect x="1500.5" y="310.68" width="1.8" height="1.8" fill="#4646a6"/><rect x="1501.25" y="259.56" width="1.8" height="1.8" fill="#9898c0"/><rect x="1507.74" y="269.92" width="1.8" height="1.8" fill="#9898c0"/><rect x="1525.04" y="265.9" width="1.8" height="1.8" fill="#4646a6"/><rect x="1493.97" y="261.22" width="1.8" height="1.8" fill="#9898c0"/><rect x="1503.46" y="268.9" width="1.8" height="1.8" fill="#9898c0"/><rect x="1501.18" y="277.2" width="1.8" height="1.8" fill="#b4b4bc"/><rect x="1493.52" y="294.36" width="1.8" height="1.8" fill="#9898c0"/><rect x="1515.2" y="282.91" width="1.8" height="1.8" fill="#b4b4bc"/><rect x="1489.5" y="268.18" width="1.8" height="1.8" fill="#9898c0"/><rect x="1505.88" y="313.18" width="1.8" height="1.8" fill="#9898c0"/><rect x="1495.7" y="271.9" width="1.8" height="1.8" fill="#9898c0"/><rect x="1492.34" y="267.86" width="1.8" height="1.8" fill="#9898c0"/><rect x="1488.49" y="279.43" width="1.8" height="1.8" fill="#9898c0"/><rect x="1522.17" y="282.09" width="1.8" height="1.8" fill="#4646a6"/><rect x="1494.95" y="261.11" width="1.8" height="1.8" fill="#9898c0"/><rect x="1505.08" y="281.75" width="1.8" height="1.8" fill="#4646a6"/><rect x="1484.93" y="267.97" width="1.8" height="1.8" fill="#9898c0"/><rect x="1501.51" y="295.26" width="1.8" height="1.8" fill="#4646a6"/><rect x="1510.87" y="284.77" width="1.8" height="1.8" fill="#4646a6"/><rect x="1497.57" y="286.27" width="1.8" height="1.8" fill="#4646a6"/><rect x="1501.93" y="310.35" width="1.8" height="1.8" fill="#9898c0"/><rect x="1486.25" y="277.31" width="1.8" height="1.8" fill="#9898c0"/><rect x="1519.85" y="278.65" width="1.8" height="1.8" fill="#9898c0"/><rect x="1522.05" y="281.53" width="1.8" height="1.8" fill="#c89868"/><rect x="1504.14" y="277.28" width="1.8" height="1.8" fill="#9898c0"/><rect x="1482.77" y="269.48" width="1.8" height="1.8" fill="#b4b4bc"/><rect x="1533.11" y="290.49" width="1.8" height="1.8" fill="#4646a6"/><rect x="1510.58" y="294.5" width="1.8" height="1.8" fill="#9898c0"/><rect x="1510.07" y="295.39" width="1.8" height="1.8" fill="#4646a6"/><rect x="1498.38" y="279.2" width="1.8" height="1.8" fill="#9898c0"/><rect x="1515.87" y="277.52" width="1.8" height="1.8" fill="#9898c0"/><rect x="1483.47" y="279.16" width="1.8" height="1.8" fill="#9898c0"/><rect x="1494.47" y="290.07" width="1.8" height="1.8" fill="#4646a6"/><rect x="1492.02" y="268.3" width="1.8" height="1.8" fill="#4646a6"/><rect x="1497.45" y="302.29" width="1.8" height="1.8" fill="#9898c0"/><rect x="1501.43" y="284.19" width="1.8" height="1.8" fill="#9898c0"/><rect x="1502.23" y="285.94" width="1.8" height="1.8" fill="#b4b4bc"/><rect x="1515.1" y="300.25" width="1.8" height="1.8" fill="#9898c0"/><rect x="1479.08" y="299.79" width="1.8" height="1.8" fill="#9898c0"/><rect x="1502.05" y="277.93" width="1.8" height="1.8" fill="#9898c0"/><rect x="1535.68" y="279.9" width="1.8" height="1.8" fill="#4646a6"/><rect x="1529.33" y="294.68" width="1.8" height="1.8" fill="#b4b4bc"/><rect x="1487.68" y="288.45" width="1.8" height="1.8" fill="#9898c0"/><rect x="1512.42" y="280.47" width="1.8" height="1.8" fill="#9898c0"/><rect x="1499.42" y="267.7" width="1.8" height="1.8" fill="#9898c0"/><rect x="1527.66" y="278.92" width="1.8" height="1.8" fill="#b4b4bc"/><rect x="1496.59" y="278.2" width="1.8" height="1.8" fill="#4646a6"/><rect x="1491.13" y="272.01" width="1.8" height="1.8" fill="#9898c0"/><rect x="1503.41" y="286.17" width="1.8" height="1.8" fill="#9898c0"/><rect x="1495" y="280.92" width="1.8" height="1.8" fill="#4646a6"/><rect x="1482.64" y="288.88" width="1.8" height="1.8" fill="#b4b4bc"/><rect x="1491.61" y="284.89" width="1.8" height="1.8" fill="#9898c0"/><rect x="1489.4" y="275.4" width="1.8" height="1.8" fill="#9898c0"/><rect x="1505.11" y="266.35" width="1.8" height="1.8" fill="#9898c0"/><rect x="1536.67" y="281.62" width="1.8" height="1.8" fill="#4646a6"/><rect x="1501.08" y="272.55" width="1.8" height="1.8" fill="#9898c0"/><rect x="1524.43" y="300.12" width="1.8" height="1.8" fill="#9898c0"/><rect x="1506.29" y="264.31" width="1.8" height="1.8" fill="#4646a6"/><rect x="1495.04" y="290.11" width="1.8" height="1.8" fill="#4646a6"/><rect x="1494.93" y="266.71" width="1.8" height="1.8" fill="#9898c0"/><rect x="1485.47" y="272.07" width="1.8" height="1.8" fill="#4646a6"/><rect x="1497.24" y="287.42" width="1.8" height="1.8" fill="#9898c0"/><rect x="1514.83" y="280.42" width="1.8" height="1.8" fill="#9898c0"/><rect x="1500.53" y="300.67" width="1.8" height="1.8" fill="#9898c0"/><rect x="1495.72" y="317.88" width="1.8" height="1.8" fill="#4646a6"/><rect x="1493.78" y="293.24" width="1.8" height="1.8" fill="#9898c0"/><rect x="1493.35" y="297.29" width="1.8" height="1.8" fill="#9898c0"/><rect x="1509.96" y="313.07" width="1.8" height="1.8" fill="#9898c0"/><rect x="1483.69" y="291.15" width="1.8" height="1.8" fill="#9898c0"/><rect x="1489.12" y="313.79" width="1.8" height="1.8" fill="#4646a6"/><rect x="1499.35" y="315.12" width="1.8" height="1.8" fill="#4646a6"/><rect x="1496.48" y="264.74" width="1.8" height="1.8" fill="#9898c0"/><rect x="1501.61" y="303.19" width="1.8" height="1.8" fill="#9898c0"/><rect x="1502.18" y="275.65" width="1.8" height="1.8" fill="#9898c0"/><rect x="1497.91" y="286.72" width="1.8" height="1.8" fill="#9898c0"/><rect x="1490.23" y="305.46" width="1.8" height="1.8" fill="#b4b4bc"/><rect x="1500.63" y="283.04" width="1.8" height="1.8" fill="#9898c0"/><rect x="1479.98" y="254.57" width="1.8" height="1.8" fill="#9898c0"/><rect x="1491.35" y="319.3" width="1.8" height="1.8" fill="#9898c0"/><rect x="1496.55" y="258.57" width="1.8" height="1.8" fill="#4646a6"/><rect x="1488.47" y="306.69" width="1.8" height="1.8" fill="#4646a6"/><rect x="1513.83" y="320.12" width="1.8" height="1.8" fill="#4646a6"/><rect x="1500.77" y="302.65" width="1.8" height="1.8" fill="#9898c0"/><rect x="1486.51" y="290.96" width="1.8" height="1.8" fill="#9898c0"/><rect x="1493.77" y="285.17" width="1.8" height="1.8" fill="#9898c0"/><rect x="1497.73" y="292.03" width="1.8" height="1.8" fill="#c89868"/><rect x="1500.47" y="324.91" width="1.8" height="1.8" fill="#9898c0"/><rect x="1504.51" y="306.62" width="1.8" height="1.8" fill="#9898c0"/><rect x="1494.69" y="271.74" width="1.8" height="1.8" fill="#b4b4bc"/><rect x="1495.96" y="308.88" width="1.8" height="1.8" fill="#4646a6"/><rect x="1487.02" y="321.67" width="1.8" height="1.8" fill="#9898c0"/><rect x="1493.76" y="305.79" width="1.8" height="1.8" fill="#9898c0"/><rect x="1493.81" y="276.5" width="1.8" height="1.8" fill="#c89868"/><rect x="1517.78" y="278.2" width="1.8" height="1.8" fill="#b4b4bc"/><rect x="1506.28" y="289.09" width="1.8" height="1.8" fill="#9898c0"/><rect x="1499.89" y="284.6" width="1.8" height="1.8" fill="#9898c0"/><rect x="1492.94" y="315.67" width="1.8" height="1.8" fill="#4646a6"/><rect x="1516.56" y="283.86" width="1.8" height="1.8" fill="#9898c0"/><rect x="1497.2" y="316.16" width="1.8" height="1.8" fill="#9898c0"/><rect x="1490.79" y="311.89" width="1.8" height="1.8" fill="#4646a6"/><rect x="1489.25" y="309.97" width="1.8" height="1.8" fill="#9898c0"/><rect x="1501.47" y="320.91" width="1.8" height="1.8" fill="#9898c0"/><rect x="1500.74" y="277.63" width="1.8" height="1.8" fill="#9898c0"/><rect x="1503.74" y="279.27" width="1.8" height="1.8" fill="#9898c0"/><rect x="1504.61" y="326.29" width="1.8" height="1.8" fill="#4646a6"/><rect x="1503.06" y="289.14" width="1.8" height="1.8" fill="#9898c0"/><rect x="1509.02" y="302.12" width="1.8" height="1.8" fill="#9898c0"/><rect x="1484.65" y="292.72" width="1.8" height="1.8" fill="#4646a6"/><rect x="1511.29" y="293.63" width="1.8" height="1.8" fill="#9898c0"/><rect x="1498.32" y="292.93" width="1.8" height="1.8" fill="#9898c0"/><rect x="1480.24" y="289.91" width="1.8" height="1.8" fill="#4646a6"/><rect x="1500.67" y="302.84" width="1.8" height="1.8" fill="#9898c0"/><rect x="1495.36" y="260.68" width="1.8" height="1.8" fill="#9898c0"/><rect x="1509.32" y="312.05" width="1.8" height="1.8" fill="#4646a6"/><rect x="1507.34" y="322.51" width="1.8" height="1.8" fill="#9898c0"/><rect x="1492.65" y="288.22" width="1.8" height="1.8" fill="#9898c0"/><rect x="1500.24" y="329.22" width="1.8" height="1.8" fill="#9898c0"/><rect x="1480.24" y="294.97" width="1.8" height="1.8" fill="#9898c0"/><rect x="1489.95" y="309.17" width="1.8" height="1.8" fill="#4646a6"/><rect x="1511.74" y="293.77" width="1.8" height="1.8" fill="#9898c0"/><rect x="1484.69" y="299.99" width="1.8" height="1.8" fill="#9898c0"/><rect x="1494.25" y="271.32" width="1.8" height="1.8" fill="#4646a6"/><rect x="1505.95" y="289.68" width="1.8" height="1.8" fill="#9898c0"/><rect x="1503.93" y="275.42" width="1.8" height="1.8" fill="#4646a6"/><rect x="1508.06" y="273.16" width="1.8" height="1.8" fill="#9898c0"/><rect x="1507.63" y="266.5" width="1.8" height="1.8" fill="#9898c0"/><rect x="1510.9" y="292.35" width="1.8" height="1.8" fill="#9898c0"/><rect x="1481.54" y="294.87" width="1.8" height="1.8" fill="#9898c0"/><rect x="1500.47" y="281.27" width="1.8" height="1.8" fill="#9898c0"/><rect x="1492.17" y="303.95" width="1.8" height="1.8" fill="#4646a6"/><rect x="1492.8" y="306.79" width="1.8" height="1.8" fill="#9898c0"/><rect x="1500.08" y="317.26" width="1.8" height="1.8" fill="#b4b4bc"/><rect x="1505.1" y="304.72" width="1.8" height="1.8" fill="#9898c0"/><rect x="1507.95" y="316.28" width="1.8" height="1.8" fill="#9898c0"/><rect x="1498.12" y="287.93" width="1.8" height="1.8" fill="#9898c0"/><rect x="1507.34" y="306.71" width="1.8" height="1.8" fill="#4646a6"/><rect x="1478.18" y="279.22" width="1.8" height="1.8" fill="#9898c0"/><rect x="1501.77" y="301.06" width="1.8" height="1.8" fill="#9898c0"/><rect x="1499.9" y="310.65" width="1.8" height="1.8" fill="#c89868"/><rect x="1498.56" y="327.59" width="1.8" height="1.8" fill="#9898c0"/><rect x="1491.2" y="291.91" width="1.8" height="1.8" fill="#9898c0"/><rect x="1528.62" y="270.32" width="1.8" height="1.8" fill="#c89868"/><rect x="1535.13" y="275.51" width="1.8" height="1.8" fill="#9898c0"/><rect x="1517.43" y="273.27" width="1.8" height="1.8" fill="#9898c0"/><rect x="1530.65" y="257.8" width="1.8" height="1.8" fill="#9898c0"/><rect x="1522.18" y="279.7" width="1.8" height="1.8" fill="#9898c0"/><rect x="1535.1" y="261.81" width="1.8" height="1.8" fill="#9898c0"/><rect x="1490.52" y="259.95" width="1.8" height="1.8" fill="#9898c0"/><rect x="1514.26" y="265.64" width="1.8" height="1.8" fill="#9898c0"/><rect x="1556.45" y="270.32" width="1.8" height="1.8" fill="#b4b4bc"/><rect x="1528.48" y="258.56" width="1.8" height="1.8" fill="#9898c0"/><rect x="1507.49" y="263.65" width="1.8" height="1.8" fill="#b4b4bc"/><rect x="1517.55" y="286.15" width="1.8" height="1.8" fill="#4646a6"/><rect x="1518.44" y="260.79" width="1.8" height="1.8" fill="#4646a6"/><rect x="1539.9" y="265.64" width="1.8" height="1.8" fill="#9898c0"/><rect x="1506.81" y="274.13" width="1.8" height="1.8" fill="#9898c0"/><rect x="1519.73" y="255.8" width="1.8" height="1.8" fill="#9898c0"/><rect x="1528.6" y="268.52" width="1.8" height="1.8" fill="#c89868"/><rect x="1519.37" y="269.98" width="1.8" height="1.8" fill="#4646a6"/><rect x="1535.59" y="258.92" width="1.8" height="1.8" fill="#4646a6"/><rect x="1522.31" y="273.71" width="1.8" height="1.8" fill="#9898c0"/><rect x="1538.14" y="274.84" width="1.8" height="1.8" fill="#9898c0"/><rect x="1550.09" y="265.21" width="1.8" height="1.8" fill="#9898c0"/><rect x="1538.88" y="254.4" width="1.8" height="1.8" fill="#4646a6"/><rect x="1533.75" y="267.85" width="1.8" height="1.8" fill="#9898c0"/><rect x="1522.78" y="262" width="1.8" height="1.8" fill="#9898c0"/><rect x="1508.48" y="266.08" width="1.8" height="1.8" fill="#9898c0"/><rect x="1541.99" y="262.53" width="1.8" height="1.8" fill="#9898c0"/><rect x="1531.54" y="260.45" width="1.8" height="1.8" fill="#9898c0"/><rect x="1527.66" y="258.05" width="1.8" height="1.8" fill="#9898c0"/><rect x="1529.4" y="263.57" width="1.8" height="1.8" fill="#9898c0"/><rect x="1528.52" y="260.85" width="1.8" height="1.8" fill="#9898c0"/><rect x="1507.63" y="262.8" width="1.8" height="1.8" fill="#9898c0"/><rect x="1538.61" y="276.15" width="1.8" height="1.8" fill="#c89868"/><rect x="1519.55" y="270.7" width="1.8" height="1.8" fill="#9898c0"/><rect x="1534.72" y="267.85" width="1.8" height="1.8" fill="#9898c0"/><rect x="1502.38" y="267.37" width="1.8" height="1.8" fill="#b4b4bc"/><rect x="1510.53" y="273.33" width="1.8" height="1.8" fill="#9898c0"/><rect x="1535.14" y="269.42" width="1.8" height="1.8" fill="#9898c0"/><rect x="1488.6" y="269.45" width="1.8" height="1.8" fill="#9898c0"/><rect x="1533.9" y="256.16" width="1.8" height="1.8" fill="#9898c0"/><rect x="1537.68" y="265.63" width="1.8" height="1.8" fill="#c89868"/><rect x="1521.54" y="260.11" width="1.8" height="1.8" fill="#9898c0"/><rect x="1509.84" y="262.06" width="1.8" height="1.8" fill="#4646a6"/><rect x="1567.3" y="266.52" width="1.8" height="1.8" fill="#9898c0"/><rect x="1527.01" y="260.56" width="1.8" height="1.8" fill="#9898c0"/><rect x="1515.45" y="261.24" width="1.8" height="1.8" fill="#9898c0"/><rect x="1511.69" y="271.23" width="1.8" height="1.8" fill="#9898c0"/><rect x="1520.31" y="271.16" width="1.8" height="1.8" fill="#9898c0"/><rect x="1507.93" y="271.6" width="1.8" height="1.8" fill="#9898c0"/><rect x="1523.72" y="269.77" width="1.8" height="1.8" fill="#9898c0"/><rect x="1522.64" y="258.88" width="1.8" height="1.8" fill="#9898c0"/><rect x="1541.05" y="262.05" width="1.8" height="1.8" fill="#9898c0"/><rect x="1522.04" y="258.9" width="1.8" height="1.8" fill="#9898c0"/><rect x="1526.96" y="262.37" width="1.8" height="1.8" fill="#4646a6"/><rect x="1528.05" y="267.51" width="1.8" height="1.8" fill="#9898c0"/><rect x="1514.46" y="255.23" width="1.8" height="1.8" fill="#4646a6"/><rect x="1530.16" y="271.52" width="1.8" height="1.8" fill="#4646a6"/><rect x="1533.85" y="257.08" width="1.8" height="1.8" fill="#4646a6"/><rect x="1532.57" y="267.79" width="1.8" height="1.8" fill="#4646a6"/><rect x="1528.07" y="268.11" width="1.8" height="1.8" fill="#9898c0"/><rect x="1543.21" y="287.32" width="1.8" height="1.8" fill="#4646a6"/><rect x="1558.22" y="276.53" width="1.8" height="1.8" fill="#9898c0"/><rect x="1529.82" y="282.53" width="1.8" height="1.8" fill="#9898c0"/><rect x="1549.45" y="256.43" width="1.8" height="1.8" fill="#9898c0"/><rect x="1538.98" y="292.94" width="1.8" height="1.8" fill="#4646a6"/><rect x="1545.3" y="285.49" width="1.8" height="1.8" fill="#b4b4bc"/><rect x="1531.99" y="297.7" width="1.8" height="1.8" fill="#b4b4bc"/><rect x="1568.15" y="281.1" width="1.8" height="1.8" fill="#4646a6"/><rect x="1538.31" y="266.74" width="1.8" height="1.8" fill="#9898c0"/><rect x="1557.79" y="285.66" width="1.8" height="1.8" fill="#9898c0"/><rect x="1537.57" y="302.3" width="1.8" height="1.8" fill="#9898c0"/><rect x="1556.28" y="293.15" width="1.8" height="1.8" fill="#9898c0"/><rect x="1525.98" y="282.55" width="1.8" height="1.8" fill="#9898c0"/><rect x="1554.61" y="265.73" width="1.8" height="1.8" fill="#9898c0"/><rect x="1558.25" y="305.56" width="1.8" height="1.8" fill="#9898c0"/><rect x="1559.5" y="273.28" width="1.8" height="1.8" fill="#9898c0"/><rect x="1538.61" y="298.23" width="1.8" height="1.8" fill="#9898c0"/><rect x="1559.03" y="302.54" width="1.8" height="1.8" fill="#9898c0"/><rect x="1561.51" y="282.6" width="1.8" height="1.8" fill="#9898c0"/><rect x="1542.18" y="256.27" width="1.8" height="1.8" fill="#9898c0"/><rect x="1556.51" y="318.25" width="1.8" height="1.8" fill="#9898c0"/><rect x="1541.54" y="276.96" width="1.8" height="1.8" fill="#9898c0"/><rect x="1554.89" y="289.71" width="1.8" height="1.8" fill="#9898c0"/><rect x="1530.65" y="273.38" width="1.8" height="1.8" fill="#9898c0"/><rect x="1533.93" y="314.42" width="1.8" height="1.8" fill="#9898c0"/><rect x="1484.28" y="344.89" width="1.8" height="1.8" fill="#9898c0"/><rect x="1490.36" y="344.93" width="1.8" height="1.8" fill="#4646a6"/><rect x="1505.8" y="344.36" width="1.8" height="1.8" fill="#9898c0"/><rect x="1502.84" y="344.76" width="1.8" height="1.8" fill="#9898c0"/><rect x="1494.53" y="345.03" width="1.8" height="1.8" fill="#9898c0"/><rect x="1527.42" y="344.98" width="1.8" height="1.8" fill="#4646a6"/><rect x="1493.5" y="344.67" width="1.8" height="1.8" fill="#4646a6"/><rect x="1489.78" y="344.24" width="1.8" height="1.8" fill="#9898c0"/><rect x="1499.82" y="345" width="1.8" height="1.8" fill="#c89868"/><rect x="1492.38" y="344.94" width="1.8" height="1.8" fill="#c89868"/><rect x="1489.78" y="345.04" width="1.8" height="1.8" fill="#4646a6"/><rect x="1489.29" y="344.88" width="1.8" height="1.8" fill="#9898c0"/><rect x="1497" y="344.97" width="1.8" height="1.8" fill="#9898c0"/><rect x="1495.9" y="344.8" width="1.8" height="1.8" fill="#9898c0"/><rect x="1514.82" y="344.89" width="1.8" height="1.8" fill="#9898c0"/><rect x="1582.1" y="254.1" width="1.8" height="1.8" fill="#b4b4bc"/><rect x="1585.1" y="269.1" width="1.8" height="1.8" fill="#c89868"/><rect x="1589.1" y="282.1" width="1.8" height="1.8" fill="#4646a6"/><rect x="1599.1" y="295.1" width="1.8" height="1.8" fill="#9898c0"/><rect x="1613.1" y="287.1" width="1.8" height="1.8" fill="#4646a6"/><rect x="1596.1" y="280.1" width="1.8" height="1.8" fill="#4646a6"/><rect x="1561.1" y="281.1" width="1.8" height="1.8" fill="#9898c0"/><rect x="1568.1" y="278.1" width="1.8" height="1.8" fill="#9898c0"/><rect x="1579.1" y="268.1" width="1.8" height="1.8" fill="#c89868"/><rect x="1547.1" y="252.1" width="1.8" height="1.8" fill="#4646a6"/><rect x="1559.1" y="261.1" width="1.8" height="1.8" fill="#9898c0"/>
<rect x="1468.5" y="158.3" width="163.8" height="102.4" fill="none" stroke="#333" stroke-width="2.2"/>
<path d="M1710 350.48H1713M1710 343.91H1713M1710 338.82H1713M1710 334.66H1713M1710 331.14H1713M1710 328.09H1713M1710 325.4H1713M1707 323H1713M1710 307.18H1713M1710 297.93H1713M1710 291.36H1713M1710 286.27H1713M1710 282.11H1713M1710 278.59H1713M1710 275.54H1713M1710 272.85H1713M1707 270.45H1713M1710 254.63H1713M1710 245.38H1713M1710 238.81H1713M1710 233.72H1713M1710 229.56H1713M1710 226.04H1713M1710 222.99H1713M1710 220.3H1713M1707 217.9H1713M1710 202.08H1713M1710 192.83H1713M1710 186.26H1713M1710 181.17H1713M1710 177.01H1713M1710 173.49H1713M1710 170.44H1713M1710 167.75H1713M1707 165.35H1713M1710 149.53H1713M1710 140.28H1713M1710 133.71H1713M1710 128.62H1713M1710 124.46H1713M1710 120.94H1713M1710 117.89H1713M1710 115.2H1713M1707 112.8H1713M1710 96.98H1713" stroke="#333" stroke-width="1.3" fill="none"/>
<path d="M1706 112.8H1713M1706 166H1713M1706 218H1713M1706 270H1713M1706 323H1713" stroke="#111" stroke-width="2.4" fill="none"/>
<path d="M1715.21 352V355M1740.88 352V355M1753.91 352V355M1763.15 352V355M1770.32 352V355M1776.18 352V355M1781.14 352V355M1785.43 352V355M1789.21 352V355M1814.88 352V355M1827.91 352V355M1837.15 352V355M1844.32 352V355M1850.18 352V355M1855.14 352V355M1859.43 352V355M1863.21 352V355M1888.88 352V355M1901.91 352V355M1911.15 352V355M1918.32 352V355M1924.18 352V355M1929.14 352V355M1933.43 352V355M1937.21 352V355M1962.88 352V355" stroke="#333" stroke-width="1.3" fill="none"/>
<path d="M1718.6 352V359M1792.6 352V359M1866.8 352V359M1940.6 352V359" stroke="#111" stroke-width="2.4" fill="none"/>
<rect x="1713" y="86.7" width="258" height="265.3" fill="none" stroke="#b4b4b4" stroke-width="1.6"/>
<text transform="translate(1707.5 117.6) scale(1 1.06)" font-size="13.5" text-anchor="end" fill="#111">10<tspan font-size="8.5" dy="-5.8">5</tspan></text>
<text transform="translate(1707.5 170.8) scale(1 1.06)" font-size="13.5" text-anchor="end" fill="#111">10<tspan font-size="8.5" dy="-5.8">4</tspan></text>
<text transform="translate(1707.5 222.8) scale(1 1.06)" font-size="13.5" text-anchor="end" fill="#111">10<tspan font-size="8.5" dy="-5.8">3</tspan></text>
<text transform="translate(1707.5 274.8) scale(1 1.06)" font-size="13.5" text-anchor="end" fill="#111">10<tspan font-size="8.5" dy="-5.8">2</tspan></text>
<text transform="translate(1707.5 327.8) scale(1 1.06)" font-size="13.5" text-anchor="end" fill="#111">10<tspan font-size="8.5" dy="-5.8">1</tspan></text>
<text transform="translate(1719.6 374.5) scale(1 1.06)" font-size="14" text-anchor="middle" fill="#111">10<tspan font-size="8.5" dy="-5.8">1</tspan></text>
<text transform="translate(1793.6 374.5) scale(1 1.06)" font-size="14" text-anchor="middle" fill="#111">10<tspan font-size="8.5" dy="-5.8">2</tspan></text>
<text transform="translate(1867.8 374.5) scale(1 1.06)" font-size="14" text-anchor="middle" fill="#111">10<tspan font-size="8.5" dy="-5.8">3</tspan></text>
<text transform="translate(1941.6 374.5) scale(1 1.06)" font-size="14" text-anchor="middle" fill="#111">10<tspan font-size="8.5" dy="-5.8">4</tspan></text>
<rect x="1790.87" y="281.66" width="1.8" height="1.8" fill="#9898c0"/><rect x="1807.21" y="273.82" width="1.8" height="1.8" fill="#9898c0"/><rect x="1824.64" y="279.83" width="1.8" height="1.8" fill="#9898c0"/><rect x="1807.26" y="298.93" width="1.8" height="1.8" fill="#9898c0"/><rect x="1804.18" y="265.21" width="1.8" height="1.8" fill="#9898c0"/><rect x="1791.86" y="273.31" width="1.8" height="1.8" fill="#b4b4bc"/><rect x="1820.32" y="288.47" width="1.8" height="1.8" fill="#b4b4bc"/><rect x="1827.04" y="299.48" width="1.8" height="1.8" fill="#9898c0"/><rect x="1835.23" y="286.44" width="1.8" height="1.8" fill="#9898c0"/><rect x="1830.13" y="286.67" width="1.8" height="1.8" fill="#9898c0"/><rect x="1803.69" y="288.67" width="1.8" height="1.8" fill="#9898c0"/><rect x="1812.59" y="277.32" width="1.8" height="1.8" fill="#9898c0"/><rect x="1839.95" y="288.2" width="1.8" height="1.8" fill="#c89868"/><rect x="1804.99" y="278.83" width="1.8" height="1.8" fill="#4646a6"/><rect x="1844.89" y="276.95" width="1.8" height="1.8" fill="#9898c0"/><rect x="1822.27" y="286.6" width="1.8" height="1.8" fill="#b4b4bc"/><rect x="1819.11" y="286.25" width="1.8" height="1.8" fill="#9898c0"/><rect x="1805.05" y="274.56" width="1.8" height="1.8" fill="#9898c0"/><rect x="1809.61" y="275.73" width="1.8" height="1.8" fill="#4646a6"/><rect x="1823.33" y="296.9" width="1.8" height="1.8" fill="#b4b4bc"/><rect x="1799.27" y="285.81" width="1.8" height="1.8" fill="#4646a6"/><rect x="1797.98" y="272" width="1.8" height="1.8" fill="#4646a6"/><rect x="1808.49" y="280.92" width="1.8" height="1.8" fill="#4646a6"/><rect x="1831.54" y="276.69" width="1.8" height="1.8" fill="#9898c0"/><rect x="1802.86" y="287.3" width="1.8" height="1.8" fill="#9898c0"/><rect x="1803.4" y="263.79" width="1.8" height="1.8" fill="#b4b4bc"/><rect x="1818.84" y="284.38" width="1.8" height="1.8" fill="#9898c0"/><rect x="1800.15" y="289.07" width="1.8" height="1.8" fill="#4646a6"/><rect x="1817.18" y="267.06" width="1.8" height="1.8" fill="#b4b4bc"/><rect x="1836.73" y="282.7" width="1.8" height="1.8" fill="#b4b4bc"/><rect x="1795.77" y="284.75" width="1.8" height="1.8" fill="#9898c0"/><rect x="1813.67" y="290.54" width="1.8" height="1.8" fill="#b4b4bc"/><rect x="1792.72" y="291.32" width="1.8" height="1.8" fill="#9898c0"/><rect x="1825.24" y="287.45" width="1.8" height="1.8" fill="#9898c0"/><rect x="1820.54" y="294.37" width="1.8" height="1.8" fill="#9898c0"/><rect x="1822.06" y="281.13" width="1.8" height="1.8" fill="#4646a6"/><rect x="1799.98" y="292.1" width="1.8" height="1.8" fill="#c89868"/><rect x="1825.8" y="283.02" width="1.8" height="1.8" fill="#4646a6"/><rect x="1814.02" y="287.75" width="1.8" height="1.8" fill="#9898c0"/><rect x="1826.85" y="300.81" width="1.8" height="1.8" fill="#9898c0"/><rect x="1805.14" y="284.47" width="1.8" height="1.8" fill="#9898c0"/><rect x="1810.81" y="254.85" width="1.8" height="1.8" fill="#9898c0"/><rect x="1822.16" y="279.46" width="1.8" height="1.8" fill="#9898c0"/><rect x="1812.76" y="269.12" width="1.8" height="1.8" fill="#9898c0"/><rect x="1811.2" y="280.55" width="1.8" height="1.8" fill="#9898c0"/><rect x="1829.94" y="282.9" width="1.8" height="1.8" fill="#4646a6"/><rect x="1861.31" y="275.07" width="1.8" height="1.8" fill="#9898c0"/><rect x="1808.02" y="279.05" width="1.8" height="1.8" fill="#9898c0"/><rect x="1800.27" y="296.49" width="1.8" height="1.8" fill="#9898c0"/><rect x="1820.95" y="265.43" width="1.8" height="1.8" fill="#4646a6"/><rect x="1813.3" y="292.45" width="1.8" height="1.8" fill="#9898c0"/><rect x="1791.64" y="281.29" width="1.8" height="1.8" fill="#b4b4bc"/><rect x="1808.4" y="305.65" width="1.8" height="1.8" fill="#9898c0"/><rect x="1817.66" y="275.07" width="1.8" height="1.8" fill="#9898c0"/><rect x="1803.8" y="300.7" width="1.8" height="1.8" fill="#9898c0"/><rect x="1805.16" y="305.09" width="1.8" height="1.8" fill="#c89868"/><rect x="1789.59" y="277.48" width="1.8" height="1.8" fill="#9898c0"/><rect x="1808.37" y="271.77" width="1.8" height="1.8" fill="#9898c0"/><rect x="1808.76" y="287.34" width="1.8" height="1.8" fill="#9898c0"/><rect x="1802.33" y="263.63" width="1.8" height="1.8" fill="#9898c0"/><rect x="1830.86" y="296" width="1.8" height="1.8" fill="#9898c0"/><rect x="1801.97" y="283.02" width="1.8" height="1.8" fill="#b4b4bc"/><rect x="1792.87" y="273.44" width="1.8" height="1.8" fill="#c89868"/><rect x="1842.47" y="265.54" width="1.8" height="1.8" fill="#b4b4bc"/><rect x="1812.05" y="267.69" width="1.8" height="1.8" fill="#b4b4bc"/><rect x="1815.6" y="265.05" width="1.8" height="1.8" fill="#9898c0"/><rect x="1803.38" y="287.73" width="1.8" height="1.8" fill="#9898c0"/><rect x="1809.5" y="265" width="1.8" height="1.8" fill="#b4b4bc"/><rect x="1833.01" y="280.96" width="1.8" height="1.8" fill="#9898c0"/><rect x="1831.7" y="267.92" width="1.8" height="1.8" fill="#9898c0"/><rect x="1835.7" y="264.59" width="1.8" height="1.8" fill="#9898c0"/><rect x="1806.47" y="282.54" width="1.8" height="1.8" fill="#4646a6"/><rect x="1803.79" y="286.69" width="1.8" height="1.8" fill="#9898c0"/><rect x="1830.69" y="272.33" width="1.8" height="1.8" fill="#4646a6"/><rect x="1792.23" y="275.13" width="1.8" height="1.8" fill="#9898c0"/><rect x="1823.36" y="288.7" width="1.8" height="1.8" fill="#9898c0"/><rect x="1806.82" y="268.61" width="1.8" height="1.8" fill="#9898c0"/><rect x="1811.48" y="290.34" width="1.8" height="1.8" fill="#4646a6"/><rect x="1801.6" y="294.07" width="1.8" height="1.8" fill="#9898c0"/><rect x="1814.93" y="282.83" width="1.8" height="1.8" fill="#9898c0"/><rect x="1802.84" y="294.78" width="1.8" height="1.8" fill="#9898c0"/><rect x="1812.34" y="262.99" width="1.8" height="1.8" fill="#4646a6"/><rect x="1823.35" y="274.91" width="1.8" height="1.8" fill="#c89868"/><rect x="1827.01" y="281.46" width="1.8" height="1.8" fill="#4646a6"/><rect x="1802.84" y="281.5" width="1.8" height="1.8" fill="#9898c0"/><rect x="1804.75" y="270.37" width="1.8" height="1.8" fill="#9898c0"/><rect x="1812.01" y="288.87" width="1.8" height="1.8" fill="#9898c0"/><rect x="1812.74" y="278.63" width="1.8" height="1.8" fill="#9898c0"/><rect x="1803.85" y="285.95" width="1.8" height="1.8" fill="#b4b4bc"/><rect x="1815.59" y="290.26" width="1.8" height="1.8" fill="#4646a6"/><rect x="1816.91" y="303.33" width="1.8" height="1.8" fill="#9898c0"/><rect x="1789.43" y="278.99" width="1.8" height="1.8" fill="#9898c0"/><rect x="1819.29" y="289.58" width="1.8" height="1.8" fill="#9898c0"/><rect x="1789.98" y="265.97" width="1.8" height="1.8" fill="#9898c0"/><rect x="1811.11" y="291.3" width="1.8" height="1.8" fill="#9898c0"/><rect x="1827.27" y="262.68" width="1.8" height="1.8" fill="#9898c0"/><rect x="1813.55" y="292.63" width="1.8" height="1.8" fill="#9898c0"/><rect x="1812.1" y="268.09" width="1.8" height="1.8" fill="#9898c0"/><rect x="1801.54" y="264.71" width="1.8" height="1.8" fill="#9898c0"/><rect x="1828.62" y="276.69" width="1.8" height="1.8" fill="#4646a6"/><rect x="1805.62" y="269.84" width="1.8" height="1.8" fill="#b4b4bc"/><rect x="1809.73" y="269.46" width="1.8" height="1.8" fill="#9898c0"/><rect x="1797.85" y="279.11" width="1.8" height="1.8" fill="#9898c0"/><rect x="1808.44" y="284.67" width="1.8" height="1.8" fill="#9898c0"/><rect x="1813.77" y="292.73" width="1.8" height="1.8" fill="#9898c0"/><rect x="1811.05" y="282.47" width="1.8" height="1.8" fill="#c89868"/><rect x="1814.89" y="270.58" width="1.8" height="1.8" fill="#9898c0"/><rect x="1828.52" y="273.29" width="1.8" height="1.8" fill="#9898c0"/><rect x="1789.29" y="293.45" width="1.8" height="1.8" fill="#9898c0"/><rect x="1820.94" y="273.28" width="1.8" height="1.8" fill="#9898c0"/><rect x="1825.19" y="290.29" width="1.8" height="1.8" fill="#9898c0"/><rect x="1821.65" y="266.52" width="1.8" height="1.8" fill="#4646a6"/><rect x="1814.19" y="268.02" width="1.8" height="1.8" fill="#9898c0"/><rect x="1803.02" y="273.3" width="1.8" height="1.8" fill="#9898c0"/><rect x="1799.69" y="285.04" width="1.8" height="1.8" fill="#9898c0"/><rect x="1800.51" y="286.47" width="1.8" height="1.8" fill="#9898c0"/><rect x="1814.1" y="272.82" width="1.8" height="1.8" fill="#9898c0"/><rect x="1814.09" y="287.2" width="1.8" height="1.8" fill="#b4b4bc"/><rect x="1827.85" y="276.68" width="1.8" height="1.8" fill="#9898c0"/><rect x="1836.24" y="285.92" width="1.8" height="1.8" fill="#9898c0"/><rect x="1829.3" y="264.54" width="1.8" height="1.8" fill="#9898c0"/><rect x="1796.7" y="292.99" width="1.8" height="1.8" fill="#9898c0"/><rect x="1808.5" y="284.72" width="1.8" height="1.8" fill="#9898c0"/><rect x="1828.65" y="263.51" width="1.8" height="1.8" fill="#4646a6"/><rect x="1818.05" y="301.07" width="1.8" height="1.8" fill="#9898c0"/><rect x="1822.98" y="280.55" width="1.8" height="1.8" fill="#9898c0"/><rect x="1819.65" y="279.65" width="1.8" height="1.8" fill="#9898c0"/><rect x="1822.61" y="294.02" width="1.8" height="1.8" fill="#9898c0"/><rect x="1808.48" y="285.94" width="1.8" height="1.8" fill="#9898c0"/><rect x="1815.97" y="287.81" width="1.8" height="1.8" fill="#9898c0"/><rect x="1823.49" y="267.65" width="1.8" height="1.8" fill="#b4b4bc"/><rect x="1828.13" y="289.12" width="1.8" height="1.8" fill="#4646a6"/><rect x="1796.22" y="276.39" width="1.8" height="1.8" fill="#9898c0"/><rect x="1791.08" y="276.35" width="1.8" height="1.8" fill="#9898c0"/><rect x="1816.3" y="266.71" width="1.8" height="1.8" fill="#9898c0"/><rect x="1800.75" y="269.81" width="1.8" height="1.8" fill="#4646a6"/><rect x="1801.86" y="270.96" width="1.8" height="1.8" fill="#9898c0"/><rect x="1796.58" y="285.86" width="1.8" height="1.8" fill="#c89868"/><rect x="1808.63" y="270.43" width="1.8" height="1.8" fill="#c89868"/><rect x="1825.6" y="273.28" width="1.8" height="1.8" fill="#9898c0"/><rect x="1824.29" y="265.82" width="1.8" height="1.8" fill="#9898c0"/><rect x="1831.51" y="274.59" width="1.8" height="1.8" fill="#9898c0"/><rect x="1798.3" y="284.08" width="1.8" height="1.8" fill="#4646a6"/><rect x="1792.82" y="267.57" width="1.8" height="1.8" fill="#b4b4bc"/><rect x="1815.01" y="274.19" width="1.8" height="1.8" fill="#4646a6"/><rect x="1817.29" y="281.11" width="1.8" height="1.8" fill="#c89868"/><rect x="1815.22" y="280.99" width="1.8" height="1.8" fill="#9898c0"/><rect x="1821.69" y="279.54" width="1.8" height="1.8" fill="#b4b4bc"/><rect x="1827.23" y="290.02" width="1.8" height="1.8" fill="#9898c0"/><rect x="1833.59" y="274.62" width="1.8" height="1.8" fill="#b4b4bc"/><rect x="1814.27" y="278.28" width="1.8" height="1.8" fill="#9898c0"/><rect x="1815.52" y="303.97" width="1.8" height="1.8" fill="#4646a6"/><rect x="1801.69" y="280.25" width="1.8" height="1.8" fill="#4646a6"/><rect x="1811.73" y="267.56" width="1.8" height="1.8" fill="#4646a6"/><rect x="1799.34" y="276.54" width="1.8" height="1.8" fill="#9898c0"/><rect x="1811.41" y="283.79" width="1.8" height="1.8" fill="#4646a6"/><rect x="1834.85" y="277.54" width="1.8" height="1.8" fill="#4646a6"/><rect x="1823.23" y="274.86" width="1.8" height="1.8" fill="#9898c0"/><rect x="1801.64" y="302.91" width="1.8" height="1.8" fill="#4646a6"/><rect x="1794.26" y="269.47" width="1.8" height="1.8" fill="#9898c0"/><rect x="1821.15" y="279.72" width="1.8" height="1.8" fill="#9898c0"/><rect x="1788.55" y="281.06" width="1.8" height="1.8" fill="#9898c0"/><rect x="1821.9" y="262.65" width="1.8" height="1.8" fill="#9898c0"/><rect x="1803.77" y="288.22" width="1.8" height="1.8" fill="#9898c0"/><rect x="1801.93" y="279.78" width="1.8" height="1.8" fill="#9898c0"/><rect x="1798.79" y="269.5" width="1.8" height="1.8" fill="#9898c0"/><rect x="1804.56" y="285.18" width="1.8" height="1.8" fill="#9898c0"/><rect x="1796.61" y="289.09" width="1.8" height="1.8" fill="#4646a6"/><rect x="1823.31" y="288.92" width="1.8" height="1.8" fill="#9898c0"/><rect x="1833.21" y="273.73" width="1.8" height="1.8" fill="#4646a6"/><rect x="1810.9" y="290.55" width="1.8" height="1.8" fill="#c89868"/><rect x="1829.41" y="289.88" width="1.8" height="1.8" fill="#9898c0"/><rect x="1805.27" y="274.11" width="1.8" height="1.8" fill="#9898c0"/><rect x="1793.11" y="274.7" width="1.8" height="1.8" fill="#9898c0"/><rect x="1799.02" y="274.1" width="1.8" height="1.8" fill="#9898c0"/><rect x="1806.29" y="288.68" width="1.8" height="1.8" fill="#9898c0"/><rect x="1823.64" y="278.95" width="1.8" height="1.8" fill="#4646a6"/><rect x="1795.56" y="278.91" width="1.8" height="1.8" fill="#4646a6"/><rect x="1817.68" y="288.94" width="1.8" height="1.8" fill="#b4b4bc"/><rect x="1814.55" y="288.42" width="1.8" height="1.8" fill="#4646a6"/><rect x="1802.38" y="286.67" width="1.8" height="1.8" fill="#9898c0"/><rect x="1821.97" y="275.59" width="1.8" height="1.8" fill="#4646a6"/><rect x="1800.96" y="293.09" width="1.8" height="1.8" fill="#9898c0"/><rect x="1797.63" y="287.07" width="1.8" height="1.8" fill="#9898c0"/><rect x="1807.81" y="275.66" width="1.8" height="1.8" fill="#4646a6"/><rect x="1808.04" y="274.62" width="1.8" height="1.8" fill="#b4b4bc"/><rect x="1811.06" y="299.14" width="1.8" height="1.8" fill="#4646a6"/><rect x="1832.01" y="278.02" width="1.8" height="1.8" fill="#9898c0"/><rect x="1818.21" y="289.51" width="1.8" height="1.8" fill="#9898c0"/><rect x="1805.63" y="299.76" width="1.8" height="1.8" fill="#9898c0"/><rect x="1812.07" y="286.33" width="1.8" height="1.8" fill="#9898c0"/><rect x="1798.21" y="267.15" width="1.8" height="1.8" fill="#9898c0"/><rect x="1797.59" y="272.39" width="1.8" height="1.8" fill="#9898c0"/><rect x="1826.1" y="276" width="1.8" height="1.8" fill="#9898c0"/><rect x="1823.98" y="274.87" width="1.8" height="1.8" fill="#9898c0"/><rect x="1798.2" y="281.34" width="1.8" height="1.8" fill="#c89868"/><rect x="1806.02" y="261.18" width="1.8" height="1.8" fill="#9898c0"/><rect x="1812.26" y="292.51" width="1.8" height="1.8" fill="#4646a6"/><rect x="1808.67" y="266.26" width="1.8" height="1.8" fill="#b4b4bc"/><rect x="1800.96" y="266.13" width="1.8" height="1.8" fill="#b4b4bc"/><rect x="1808.18" y="269.05" width="1.8" height="1.8" fill="#4646a6"/><rect x="1810.01" y="281.4" width="1.8" height="1.8" fill="#9898c0"/><rect x="1830.19" y="266.75" width="1.8" height="1.8" fill="#b4b4bc"/><rect x="1817.66" y="275.47" width="1.8" height="1.8" fill="#9898c0"/><rect x="1818.68" y="269.27" width="1.8" height="1.8" fill="#9898c0"/><rect x="1806.84" y="286.93" width="1.8" height="1.8" fill="#4646a6"/><rect x="1807.19" y="280.95" width="1.8" height="1.8" fill="#4646a6"/><rect x="1817.73" y="280.81" width="1.8" height="1.8" fill="#9898c0"/><rect x="1808.2" y="285.15" width="1.8" height="1.8" fill="#9898c0"/><rect x="1830.16" y="293.49" width="1.8" height="1.8" fill="#b4b4bc"/><rect x="1799.28" y="287.86" width="1.8" height="1.8" fill="#9898c0"/><rect x="1817.22" y="285.39" width="1.8" height="1.8" fill="#9898c0"/><rect x="1830.72" y="260.55" width="1.8" height="1.8" fill="#9898c0"/><rect x="1826.71" y="273.5" width="1.8" height="1.8" fill="#4646a6"/><rect x="1805.03" y="284.37" width="1.8" height="1.8" fill="#9898c0"/><rect x="1831.28" y="269.13" width="1.8" height="1.8" fill="#9898c0"/><rect x="1809.94" y="292.66" width="1.8" height="1.8" fill="#4646a6"/><rect x="1816.69" y="276.18" width="1.8" height="1.8" fill="#9898c0"/><rect x="1804.46" y="274.36" width="1.8" height="1.8" fill="#c89868"/><rect x="1825.13" y="261.19" width="1.8" height="1.8" fill="#9898c0"/><rect x="1801.85" y="269.84" width="1.8" height="1.8" fill="#9898c0"/><rect x="1827.29" y="280.83" width="1.8" height="1.8" fill="#9898c0"/><rect x="1802.13" y="287.7" width="1.8" height="1.8" fill="#4646a6"/><rect x="1838.91" y="290.7" width="1.8" height="1.8" fill="#4646a6"/><rect x="1793.29" y="277.15" width="1.8" height="1.8" fill="#9898c0"/><rect x="1827.44" y="259.51" width="1.8" height="1.8" fill="#9898c0"/><rect x="1794.4" y="274.87" width="1.8" height="1.8" fill="#9898c0"/><rect x="1818.84" y="270.39" width="1.8" height="1.8" fill="#9898c0"/><rect x="1813.62" y="277.67" width="1.8" height="1.8" fill="#9898c0"/><rect x="1816" y="266.19" width="1.8" height="1.8" fill="#9898c0"/><rect x="1813.8" y="290.15" width="1.8" height="1.8" fill="#9898c0"/><rect x="1818.22" y="261.75" width="1.8" height="1.8" fill="#9898c0"/><rect x="1798.64" y="259.19" width="1.8" height="1.8" fill="#9898c0"/><rect x="1803.29" y="270.64" width="1.8" height="1.8" fill="#9898c0"/><rect x="1809.77" y="283.53" width="1.8" height="1.8" fill="#9898c0"/><rect x="1814.05" y="281.37" width="1.8" height="1.8" fill="#9898c0"/><rect x="1818.72" y="278.18" width="1.8" height="1.8" fill="#9898c0"/><rect x="1805.1" y="275.55" width="1.8" height="1.8" fill="#9898c0"/><rect x="1827.98" y="276.24" width="1.8" height="1.8" fill="#c89868"/><rect x="1822.7" y="297.57" width="1.8" height="1.8" fill="#9898c0"/><rect x="1835.76" y="255.71" width="1.8" height="1.8" fill="#4646a6"/><rect x="1813.47" y="290.11" width="1.8" height="1.8" fill="#4646a6"/><rect x="1805.03" y="271.51" width="1.8" height="1.8" fill="#9898c0"/><rect x="1791.37" y="271.89" width="1.8" height="1.8" fill="#9898c0"/><rect x="1811.35" y="258.6" width="1.8" height="1.8" fill="#4646a6"/><rect x="1811.17" y="270.08" width="1.8" height="1.8" fill="#9898c0"/><rect x="1811.62" y="267.38" width="1.8" height="1.8" fill="#9898c0"/><rect x="1812.49" y="281.07" width="1.8" height="1.8" fill="#9898c0"/><rect x="1801.62" y="271.9" width="1.8" height="1.8" fill="#4646a6"/><rect x="1824.59" y="286.21" width="1.8" height="1.8" fill="#9898c0"/><rect x="1800.42" y="284.07" width="1.8" height="1.8" fill="#c89868"/><rect x="1795.17" y="273.57" width="1.8" height="1.8" fill="#4646a6"/><rect x="1820.84" y="273.88" width="1.8" height="1.8" fill="#9898c0"/><rect x="1819.55" y="272.21" width="1.8" height="1.8" fill="#9898c0"/><rect x="1815.55" y="277.64" width="1.8" height="1.8" fill="#4646a6"/><rect x="1797.65" y="302.3" width="1.8" height="1.8" fill="#4646a6"/><rect x="1799.52" y="264.48" width="1.8" height="1.8" fill="#9898c0"/><rect x="1813.11" y="284.48" width="1.8" height="1.8" fill="#9898c0"/><rect x="1816.11" y="278.08" width="1.8" height="1.8" fill="#4646a6"/><rect x="1817.81" y="289.52" width="1.8" height="1.8" fill="#9898c0"/><rect x="1819.99" y="264.06" width="1.8" height="1.8" fill="#9898c0"/><rect x="1835.43" y="278.91" width="1.8" height="1.8" fill="#9898c0"/><rect x="1809.25" y="282.37" width="1.8" height="1.8" fill="#b4b4bc"/><rect x="1839.06" y="273.37" width="1.8" height="1.8" fill="#9898c0"/><rect x="1802.55" y="268.47" width="1.8" height="1.8" fill="#9898c0"/><rect x="1813.92" y="286.52" width="1.8" height="1.8" fill="#9898c0"/><rect x="1816.77" y="281.11" width="1.8" height="1.8" fill="#9898c0"/><rect x="1826.42" y="273.64" width="1.8" height="1.8" fill="#9898c0"/><rect x="1803.83" y="268.14" width="1.8" height="1.8" fill="#9898c0"/><rect x="1814.69" y="262.11" width="1.8" height="1.8" fill="#9898c0"/><rect x="1838.04" y="277.08" width="1.8" height="1.8" fill="#4646a6"/><rect x="1802.92" y="265.89" width="1.8" height="1.8" fill="#4646a6"/><rect x="1818.83" y="289.94" width="1.8" height="1.8" fill="#c89868"/><rect x="1803.43" y="281.16" width="1.8" height="1.8" fill="#9898c0"/><rect x="1815.41" y="289.91" width="1.8" height="1.8" fill="#9898c0"/><rect x="1819.9" y="292.85" width="1.8" height="1.8" fill="#4646a6"/><rect x="1791.52" y="307.93" width="1.8" height="1.8" fill="#9898c0"/><rect x="1804.31" y="266.96" width="1.8" height="1.8" fill="#9898c0"/><rect x="1798.33" y="283.52" width="1.8" height="1.8" fill="#9898c0"/><rect x="1822.12" y="305.97" width="1.8" height="1.8" fill="#9898c0"/><rect x="1819.51" y="284.13" width="1.8" height="1.8" fill="#4646a6"/><rect x="1803.82" y="290.07" width="1.8" height="1.8" fill="#9898c0"/><rect x="1801.26" y="295.98" width="1.8" height="1.8" fill="#9898c0"/><rect x="1801.11" y="322.85" width="1.8" height="1.8" fill="#9898c0"/><rect x="1810.6" y="311.88" width="1.8" height="1.8" fill="#4646a6"/><rect x="1805.69" y="276.24" width="1.8" height="1.8" fill="#4646a6"/><rect x="1811.63" y="291.57" width="1.8" height="1.8" fill="#9898c0"/><rect x="1827.15" y="324.03" width="1.8" height="1.8" fill="#9898c0"/><rect x="1795.18" y="279.68" width="1.8" height="1.8" fill="#c89868"/><rect x="1801.78" y="295.17" width="1.8" height="1.8" fill="#b4b4bc"/><rect x="1818.68" y="295.84" width="1.8" height="1.8" fill="#9898c0"/><rect x="1811.83" y="293.02" width="1.8" height="1.8" fill="#9898c0"/><rect x="1805.11" y="324.03" width="1.8" height="1.8" fill="#b4b4bc"/><rect x="1807.4" y="338.73" width="1.8" height="1.8" fill="#9898c0"/><rect x="1806.83" y="307.2" width="1.8" height="1.8" fill="#9898c0"/><rect x="1811.24" y="312.71" width="1.8" height="1.8" fill="#9898c0"/><rect x="1826.53" y="285.87" width="1.8" height="1.8" fill="#b4b4bc"/><rect x="1802" y="280.64" width="1.8" height="1.8" fill="#9898c0"/><rect x="1825.34" y="308.82" width="1.8" height="1.8" fill="#9898c0"/><rect x="1811.8" y="308.61" width="1.8" height="1.8" fill="#9898c0"/><rect x="1788.81" y="314.9" width="1.8" height="1.8" fill="#b4b4bc"/><rect x="1808.57" y="305.65" width="1.8" height="1.8" fill="#9898c0"/><rect x="1808.18" y="297.68" width="1.8" height="1.8" fill="#9898c0"/><rect x="1806.56" y="288.14" width="1.8" height="1.8" fill="#9898c0"/><rect x="1805.03" y="312.1" width="1.8" height="1.8" fill="#9898c0"/><rect x="1813.74" y="278.17" width="1.8" height="1.8" fill="#4646a6"/><rect x="1812.4" y="305.61" width="1.8" height="1.8" fill="#9898c0"/><rect x="1802.1" y="333.22" width="1.8" height="1.8" fill="#9898c0"/><rect x="1809.06" y="296.81" width="1.8" height="1.8" fill="#4646a6"/><rect x="1794.28" y="342.92" width="1.8" height="1.8" fill="#4646a6"/><rect x="1809.48" y="305.73" width="1.8" height="1.8" fill="#9898c0"/><rect x="1805.02" y="340.84" width="1.8" height="1.8" fill="#9898c0"/><rect x="1805.78" y="330.96" width="1.8" height="1.8" fill="#4646a6"/><rect x="1817.85" y="319" width="1.8" height="1.8" fill="#9898c0"/><rect x="1813.65" y="322.59" width="1.8" height="1.8" fill="#4646a6"/><rect x="1838.18" y="261.79" width="1.8" height="1.8" fill="#b4b4bc"/><rect x="1813.39" y="308.97" width="1.8" height="1.8" fill="#c89868"/><rect x="1806.37" y="333.27" width="1.8" height="1.8" fill="#9898c0"/><rect x="1806.21" y="299.36" width="1.8" height="1.8" fill="#4646a6"/><rect x="1808.14" y="300.33" width="1.8" height="1.8" fill="#4646a6"/><rect x="1798.54" y="263.07" width="1.8" height="1.8" fill="#9898c0"/><rect x="1815.74" y="289.07" width="1.8" height="1.8" fill="#9898c0"/><rect x="1802.27" y="271.59" width="1.8" height="1.8" fill="#9898c0"/><rect x="1805.53" y="290.86" width="1.8" height="1.8" fill="#9898c0"/><rect x="1811.57" y="291.56" width="1.8" height="1.8" fill="#9898c0"/><rect x="1792.74" y="309.37" width="1.8" height="1.8" fill="#4646a6"/><rect x="1806.47" y="261.7" width="1.8" height="1.8" fill="#c89868"/><rect x="1803.89" y="314.65" width="1.8" height="1.8" fill="#9898c0"/><rect x="1806.66" y="292.95" width="1.8" height="1.8" fill="#9898c0"/><rect x="1813.2" y="286.68" width="1.8" height="1.8" fill="#9898c0"/><rect x="1800.34" y="309.94" width="1.8" height="1.8" fill="#9898c0"/><rect x="1805.7" y="287.06" width="1.8" height="1.8" fill="#9898c0"/><rect x="1809.54" y="304.66" width="1.8" height="1.8" fill="#9898c0"/><rect x="1816.6" y="319.58" width="1.8" height="1.8" fill="#9898c0"/><rect x="1808.18" y="298.95" width="1.8" height="1.8" fill="#9898c0"/><rect x="1797.99" y="303.5" width="1.8" height="1.8" fill="#9898c0"/><rect x="1803.72" y="316.17" width="1.8" height="1.8" fill="#4646a6"/><rect x="1815.27" y="312.28" width="1.8" height="1.8" fill="#9898c0"/><rect x="1806.74" y="306.08" width="1.8" height="1.8" fill="#9898c0"/><rect x="1822.29" y="333.49" width="1.8" height="1.8" fill="#9898c0"/><rect x="1813.5" y="268.95" width="1.8" height="1.8" fill="#9898c0"/><rect x="1807.8" y="308.6" width="1.8" height="1.8" fill="#b4b4bc"/><rect x="1822.21" y="296.08" width="1.8" height="1.8" fill="#9898c0"/><rect x="1806.16" y="288.13" width="1.8" height="1.8" fill="#9898c0"/><rect x="1810.31" y="275.18" width="1.8" height="1.8" fill="#9898c0"/><rect x="1812.95" y="306.31" width="1.8" height="1.8" fill="#9898c0"/><rect x="1820.77" y="293.46" width="1.8" height="1.8" fill="#4646a6"/><rect x="1810.56" y="303.54" width="1.8" height="1.8" fill="#9898c0"/><rect x="1807.12" y="280.46" width="1.8" height="1.8" fill="#9898c0"/><rect x="1801.72" y="300.6" width="1.8" height="1.8" fill="#4646a6"/><rect x="1812.21" y="320.21" width="1.8" height="1.8" fill="#b4b4bc"/><rect x="1801.34" y="304.75" width="1.8" height="1.8" fill="#9898c0"/><rect x="1813.45" y="316.7" width="1.8" height="1.8" fill="#9898c0"/><rect x="1809.81" y="303.78" width="1.8" height="1.8" fill="#9898c0"/><rect x="1803.9" y="300.17" width="1.8" height="1.8" fill="#4646a6"/><rect x="1805.41" y="265.09" width="1.8" height="1.8" fill="#9898c0"/><rect x="1812.39" y="317.17" width="1.8" height="1.8" fill="#9898c0"/><rect x="1803.77" y="303.05" width="1.8" height="1.8" fill="#9898c0"/><rect x="1808.93" y="294.65" width="1.8" height="1.8" fill="#9898c0"/><rect x="1822.02" y="295.91" width="1.8" height="1.8" fill="#4646a6"/><rect x="1810.6" y="298.43" width="1.8" height="1.8" fill="#9898c0"/><rect x="1827.3" y="267.15" width="1.8" height="1.8" fill="#9898c0"/><rect x="1809.42" y="273.17" width="1.8" height="1.8" fill="#9898c0"/><rect x="1800.26" y="280.69" width="1.8" height="1.8" fill="#9898c0"/><rect x="1815.04" y="278.15" width="1.8" height="1.8" fill="#9898c0"/><rect x="1797.36" y="293.11" width="1.8" height="1.8" fill="#9898c0"/><rect x="1797.89" y="279.93" width="1.8" height="1.8" fill="#4646a6"/><rect x="1823.12" y="286.47" width="1.8" height="1.8" fill="#9898c0"/><rect x="1799.42" y="327.08" width="1.8" height="1.8" fill="#b4b4bc"/><rect x="1808.27" y="321.9" width="1.8" height="1.8" fill="#9898c0"/><rect x="1810.48" y="265.26" width="1.8" height="1.8" fill="#4646a6"/><rect x="1848.2" y="268.83" width="1.8" height="1.8" fill="#9898c0"/><rect x="1849.37" y="275.98" width="1.8" height="1.8" fill="#9898c0"/><rect x="1850.14" y="274.97" width="1.8" height="1.8" fill="#9898c0"/><rect x="1853.09" y="262.1" width="1.8" height="1.8" fill="#9898c0"/><rect x="1843.12" y="276.41" width="1.8" height="1.8" fill="#b4b4bc"/><rect x="1822.72" y="271.06" width="1.8" height="1.8" fill="#9898c0"/><rect x="1850.98" y="276.65" width="1.8" height="1.8" fill="#9898c0"/><rect x="1809.75" y="283.9" width="1.8" height="1.8" fill="#4646a6"/><rect x="1811.85" y="267.33" width="1.8" height="1.8" fill="#4646a6"/><rect x="1885.12" y="257.91" width="1.8" height="1.8" fill="#4646a6"/><rect x="1879.99" y="269.24" width="1.8" height="1.8" fill="#9898c0"/><rect x="1874.04" y="277.43" width="1.8" height="1.8" fill="#b4b4bc"/><rect x="1842.45" y="261.87" width="1.8" height="1.8" fill="#9898c0"/><rect x="1834.09" y="258.31" width="1.8" height="1.8" fill="#9898c0"/><rect x="1814.95" y="270" width="1.8" height="1.8" fill="#4646a6"/><rect x="1813.73" y="269.86" width="1.8" height="1.8" fill="#9898c0"/><rect x="1838.45" y="266.4" width="1.8" height="1.8" fill="#4646a6"/><rect x="1821.07" y="258.71" width="1.8" height="1.8" fill="#4646a6"/><rect x="1854.02" y="260.65" width="1.8" height="1.8" fill="#9898c0"/><rect x="1829.36" y="266.09" width="1.8" height="1.8" fill="#9898c0"/><rect x="1851.88" y="281.12" width="1.8" height="1.8" fill="#9898c0"/><rect x="1874.87" y="272.83" width="1.8" height="1.8" fill="#9898c0"/><rect x="1851.74" y="271.93" width="1.8" height="1.8" fill="#9898c0"/><rect x="1835.92" y="265.9" width="1.8" height="1.8" fill="#9898c0"/><rect x="1808.66" y="271.2" width="1.8" height="1.8" fill="#9898c0"/><rect x="1830.74" y="270" width="1.8" height="1.8" fill="#4646a6"/><rect x="1879.86" y="273.33" width="1.8" height="1.8" fill="#9898c0"/><rect x="1860.32" y="273.45" width="1.8" height="1.8" fill="#c89868"/><rect x="1829.64" y="262.78" width="1.8" height="1.8" fill="#9898c0"/><rect x="1813.49" y="263.31" width="1.8" height="1.8" fill="#9898c0"/><rect x="1842.62" y="272.16" width="1.8" height="1.8" fill="#9898c0"/><rect x="1850.01" y="264.91" width="1.8" height="1.8" fill="#b4b4bc"/><rect x="1819.33" y="267.65" width="1.8" height="1.8" fill="#9898c0"/><rect x="1845.27" y="253.5" width="1.8" height="1.8" fill="#9898c0"/><rect x="1841.28" y="257.31" width="1.8" height="1.8" fill="#4646a6"/><rect x="1831.46" y="266.32" width="1.8" height="1.8" fill="#4646a6"/><rect x="1821.96" y="263.75" width="1.8" height="1.8" fill="#4646a6"/><rect x="1839.74" y="260.31" width="1.8" height="1.8" fill="#9898c0"/><rect x="1851.84" y="271.88" width="1.8" height="1.8" fill="#9898c0"/><rect x="1849.4" y="259.94" width="1.8" height="1.8" fill="#9898c0"/><rect x="1836.09" y="265.02" width="1.8" height="1.8" fill="#9898c0"/><rect x="1841.62" y="272.52" width="1.8" height="1.8" fill="#4646a6"/><rect x="1830.08" y="267.45" width="1.8" height="1.8" fill="#9898c0"/><rect x="1854.31" y="264.99" width="1.8" height="1.8" fill="#4646a6"/><rect x="1852.43" y="267.13" width="1.8" height="1.8" fill="#4646a6"/><rect x="1814.2" y="267" width="1.8" height="1.8" fill="#9898c0"/><rect x="1842.12" y="264.36" width="1.8" height="1.8" fill="#4646a6"/><rect x="1873.91" y="264.57" width="1.8" height="1.8" fill="#9898c0"/><rect x="1813.23" y="266.18" width="1.8" height="1.8" fill="#9898c0"/><rect x="1835.53" y="270.82" width="1.8" height="1.8" fill="#b4b4bc"/><rect x="1884.9" y="268.24" width="1.8" height="1.8" fill="#9898c0"/><rect x="1854.2" y="262.26" width="1.8" height="1.8" fill="#4646a6"/><rect x="1822.67" y="262.34" width="1.8" height="1.8" fill="#9898c0"/><rect x="1836" y="264.13" width="1.8" height="1.8" fill="#4646a6"/><rect x="1839.39" y="262.76" width="1.8" height="1.8" fill="#c89868"/><rect x="1817.97" y="261.81" width="1.8" height="1.8" fill="#b4b4bc"/><rect x="1853.45" y="259.2" width="1.8" height="1.8" fill="#c89868"/><rect x="1853.51" y="278.68" width="1.8" height="1.8" fill="#9898c0"/><rect x="1822.81" y="273.51" width="1.8" height="1.8" fill="#4646a6"/><rect x="1882.21" y="287.14" width="1.8" height="1.8" fill="#4646a6"/><rect x="1842.72" y="294.9" width="1.8" height="1.8" fill="#9898c0"/><rect x="1873.33" y="267.06" width="1.8" height="1.8" fill="#9898c0"/><rect x="1870.98" y="261.06" width="1.8" height="1.8" fill="#9898c0"/><rect x="1878.43" y="285.86" width="1.8" height="1.8" fill="#4646a6"/><rect x="1887.75" y="296.18" width="1.8" height="1.8" fill="#9898c0"/><rect x="1859.05" y="285.29" width="1.8" height="1.8" fill="#b4b4bc"/><rect x="1883.63" y="293.37" width="1.8" height="1.8" fill="#9898c0"/><rect x="1868.46" y="258.58" width="1.8" height="1.8" fill="#9898c0"/><rect x="1862.45" y="276.04" width="1.8" height="1.8" fill="#4646a6"/><rect x="1873.43" y="274.44" width="1.8" height="1.8" fill="#9898c0"/><rect x="1835.87" y="264.47" width="1.8" height="1.8" fill="#4646a6"/><rect x="1867.12" y="292.74" width="1.8" height="1.8" fill="#9898c0"/><rect x="1859.39" y="263.64" width="1.8" height="1.8" fill="#4646a6"/><rect x="1862.16" y="290.25" width="1.8" height="1.8" fill="#4646a6"/><rect x="1888" y="267.53" width="1.8" height="1.8" fill="#9898c0"/><rect x="1879.53" y="295.17" width="1.8" height="1.8" fill="#9898c0"/><rect x="1881.27" y="266.05" width="1.8" height="1.8" fill="#9898c0"/><rect x="1878.37" y="273.3" width="1.8" height="1.8" fill="#b4b4bc"/><rect x="1868.77" y="285.34" width="1.8" height="1.8" fill="#9898c0"/><rect x="1887.61" y="299.02" width="1.8" height="1.8" fill="#b4b4bc"/><rect x="1873.5" y="271.95" width="1.8" height="1.8" fill="#9898c0"/><rect x="1868.59" y="271.15" width="1.8" height="1.8" fill="#9898c0"/><rect x="1867.52" y="277.89" width="1.8" height="1.8" fill="#9898c0"/><rect x="1846.96" y="269.82" width="1.8" height="1.8" fill="#9898c0"/><rect x="1848.02" y="278.58" width="1.8" height="1.8" fill="#9898c0"/><rect x="1881.36" y="288.05" width="1.8" height="1.8" fill="#9898c0"/><rect x="1872.13" y="267.76" width="1.8" height="1.8" fill="#9898c0"/><rect x="1868.31" y="262.89" width="1.8" height="1.8" fill="#9898c0"/><rect x="1877.85" y="260.72" width="1.8" height="1.8" fill="#b4b4bc"/><rect x="1875.56" y="267.53" width="1.8" height="1.8" fill="#9898c0"/><rect x="1866.07" y="266.93" width="1.8" height="1.8" fill="#4646a6"/><rect x="1857.3" y="274.21" width="1.8" height="1.8" fill="#9898c0"/><rect x="1856.59" y="281.55" width="1.8" height="1.8" fill="#9898c0"/><rect x="1885.39" y="268.92" width="1.8" height="1.8" fill="#c89868"/><rect x="1816.24" y="348.62" width="1.8" height="1.8" fill="#4646a6"/><rect x="1820.65" y="349.18" width="1.8" height="1.8" fill="#b4b4bc"/><rect x="1819.91" y="348.58" width="1.8" height="1.8" fill="#9898c0"/><rect x="1819.76" y="349.7" width="1.8" height="1.8" fill="#9898c0"/><rect x="1842.9" y="349.73" width="1.8" height="1.8" fill="#4646a6"/><rect x="1831.84" y="348.54" width="1.8" height="1.8" fill="#9898c0"/><rect x="1820.15" y="348.74" width="1.8" height="1.8" fill="#9898c0"/><rect x="1844.51" y="349.52" width="1.8" height="1.8" fill="#9898c0"/><rect x="1826.75" y="348.63" width="1.8" height="1.8" fill="#9898c0"/><rect x="1824.12" y="349.24" width="1.8" height="1.8" fill="#9898c0"/><rect x="1831.95" y="349.86" width="1.8" height="1.8" fill="#9898c0"/><rect x="1840.03" y="348.67" width="1.8" height="1.8" fill="#4646a6"/><rect x="1839.57" y="348.99" width="1.8" height="1.8" fill="#9898c0"/><rect x="1850.43" y="349.79" width="1.8" height="1.8" fill="#9898c0"/><rect x="1820.94" y="349.44" width="1.8" height="1.8" fill="#4646a6"/><rect x="1811.01" y="349.38" width="1.8" height="1.8" fill="#9898c0"/><rect x="1830.35" y="349.38" width="1.8" height="1.8" fill="#9898c0"/><rect x="1812.31" y="348.6" width="1.8" height="1.8" fill="#9898c0"/><rect x="1821.43" y="348.97" width="1.8" height="1.8" fill="#4646a6"/><rect x="1838.61" y="348.61" width="1.8" height="1.8" fill="#b4b4bc"/><rect x="1800.98" y="348.77" width="1.8" height="1.8" fill="#4646a6"/><rect x="1840.04" y="349.62" width="1.8" height="1.8" fill="#c89868"/><rect x="1811.38" y="349.49" width="1.8" height="1.8" fill="#4646a6"/><rect x="1838.6" y="229.1" width="1.8" height="1.8" fill="#9898c0"/><rect x="1826.1" y="239.1" width="1.8" height="1.8" fill="#9898c0"/><rect x="1845.1" y="225.1" width="1.8" height="1.8" fill="#9898c0"/><rect x="1855.1" y="209.1" width="1.8" height="1.8" fill="#4646a6"/><rect x="1902.7" y="218.1" width="1.8" height="1.8" fill="#4646a6"/><rect x="1904.1" y="255.1" width="1.8" height="1.8" fill="#9898c0"/><rect x="1921.1" y="257.1" width="1.8" height="1.8" fill="#b4b4bc"/><rect x="1909.1" y="268.1" width="1.8" height="1.8" fill="#4646a6"/><rect x="1894.1" y="275.1" width="1.8" height="1.8" fill="#4646a6"/><rect x="1879.1" y="279.1" width="1.8" height="1.8" fill="#9898c0"/><rect x="1887.1" y="261.1" width="1.8" height="1.8" fill="#9898c0"/><rect x="1899.1" y="284.1" width="1.8" height="1.8" fill="#9898c0"/><rect x="1892.1" y="299.1" width="1.8" height="1.8" fill="#c89868"/><rect x="1849.1" y="244.1" width="1.8" height="1.8" fill="#9898c0"/><rect x="1837.1" y="249.1" width="1.8" height="1.8" fill="#9898c0"/>
<rect x="1786" y="161.4" width="161" height="102.9" fill="none" stroke="#333" stroke-width="2.2"/>
<path d="M1392.6 651.96H1395.6M1392.6 646.78H1395.6M1392.6 642.55H1395.6M1392.6 638.98H1395.6M1392.6 635.88H1395.6M1392.6 633.14H1395.6M1389.6 630.7H1395.6M1392.6 614.62H1395.6M1392.6 605.21H1395.6M1392.6 598.53H1395.6M1392.6 593.36H1395.6M1392.6 589.13H1395.6M1392.6 585.55H1395.6M1392.6 582.45H1395.6M1392.6 579.72H1395.6M1389.6 577.28H1395.6M1392.6 561.19H1395.6M1392.6 551.78H1395.6M1392.6 545.11H1395.6M1392.6 539.93H1395.6M1392.6 535.7H1395.6M1392.6 532.13H1395.6M1392.6 529.03H1395.6M1392.6 526.29H1395.6M1389.6 523.85H1395.6M1392.6 507.77H1395.6M1392.6 498.36H1395.6M1392.6 491.68H1395.6M1392.6 486.51H1395.6M1392.6 482.28H1395.6M1392.6 478.7H1395.6M1392.6 475.6H1395.6M1392.6 472.87H1395.6M1389.6 470.43H1395.6M1392.6 454.34H1395.6M1392.6 444.93H1395.6M1392.6 438.26H1395.6M1392.6 433.08H1395.6M1392.6 428.85H1395.6M1392.6 425.28H1395.6M1392.6 422.18H1395.6M1392.6 419.44H1395.6M1389.6 417H1395.6M1392.6 400.92H1395.6" stroke="#333" stroke-width="1.3" fill="none"/>
<path d="M1388.6 417H1395.6M1388.6 469.6H1395.6M1388.6 523.6H1395.6M1388.6 576.7H1395.6M1388.6 630.7H1395.6" stroke="#111" stroke-width="2.4" fill="none"/>
<path d="M1398.54 659.5V662.5M1424.03 659.5V662.5M1436.97 659.5V662.5M1446.15 659.5V662.5M1453.27 659.5V662.5M1459.09 659.5V662.5M1464.01 659.5V662.5M1468.28 659.5V662.5M1472.04 659.5V662.5M1497.53 659.5V662.5M1510.47 659.5V662.5M1519.65 659.5V662.5M1526.77 659.5V662.5M1532.59 659.5V662.5M1537.51 659.5V662.5M1541.78 659.5V662.5M1545.54 659.5V662.5M1571.03 659.5V662.5M1583.97 659.5V662.5M1593.15 659.5V662.5M1600.27 659.5V662.5M1606.09 659.5V662.5M1611.01 659.5V662.5M1615.28 659.5V662.5M1619.04 659.5V662.5M1644.53 659.5V662.5" stroke="#333" stroke-width="1.3" fill="none"/>
<path d="M1401.9 659.5V666.5M1475.1 659.5V666.5M1549 659.5V666.5M1622.4 659.5V666.5" stroke="#111" stroke-width="2.4" fill="none"/>
<rect x="1395.6" y="393" width="258.8" height="266.5" fill="none" stroke="#b4b4b4" stroke-width="1.6"/>
<text transform="translate(1390.1 421.8) scale(1 1.06)" font-size="13.5" text-anchor="end" fill="#111">10<tspan font-size="8.5" dy="-5.8">5</tspan></text>
<text transform="translate(1390.1 474.4) scale(1 1.06)" font-size="13.5" text-anchor="end" fill="#111">10<tspan font-size="8.5" dy="-5.8">4</tspan></text>
<text transform="translate(1390.1 528.4) scale(1 1.06)" font-size="13.5" text-anchor="end" fill="#111">10<tspan font-size="8.5" dy="-5.8">3</tspan></text>
<text transform="translate(1390.1 581.5) scale(1 1.06)" font-size="13.5" text-anchor="end" fill="#111">10<tspan font-size="8.5" dy="-5.8">2</tspan></text>
<text transform="translate(1390.1 635.5) scale(1 1.06)" font-size="13.5" text-anchor="end" fill="#111">10<tspan font-size="8.5" dy="-5.8">1</tspan></text>
<text transform="translate(1402.9 682) scale(1 1.06)" font-size="14" text-anchor="middle" fill="#111">10<tspan font-size="8.5" dy="-5.8">1</tspan></text>
<text transform="translate(1476.1 682) scale(1 1.06)" font-size="14" text-anchor="middle" fill="#111">10<tspan font-size="8.5" dy="-5.8">2</tspan></text>
<text transform="translate(1550 682) scale(1 1.06)" font-size="14" text-anchor="middle" fill="#111">10<tspan font-size="8.5" dy="-5.8">3</tspan></text>
<text transform="translate(1623.4 682) scale(1 1.06)" font-size="14" text-anchor="middle" fill="#111">10<tspan font-size="8.5" dy="-5.8">4</tspan></text>
<rect x="1497.98" y="605.32" width="1.8" height="1.8" fill="#9898c0"/><rect x="1488.92" y="565.73" width="1.8" height="1.8" fill="#4646a6"/><rect x="1502.8" y="595.09" width="1.8" height="1.8" fill="#9898c0"/><rect x="1504.69" y="593.94" width="1.8" height="1.8" fill="#4646a6"/><rect x="1498.41" y="580.79" width="1.8" height="1.8" fill="#9898c0"/><rect x="1490.25" y="585.47" width="1.8" height="1.8" fill="#c89868"/><rect x="1495.27" y="599.36" width="1.8" height="1.8" fill="#c89868"/><rect x="1508.42" y="573.1" width="1.8" height="1.8" fill="#9898c0"/><rect x="1509.5" y="587.97" width="1.8" height="1.8" fill="#9898c0"/><rect x="1515.01" y="606.46" width="1.8" height="1.8" fill="#4646a6"/><rect x="1507.73" y="566.88" width="1.8" height="1.8" fill="#9898c0"/><rect x="1509.02" y="569.51" width="1.8" height="1.8" fill="#4646a6"/><rect x="1521.04" y="580.42" width="1.8" height="1.8" fill="#4646a6"/><rect x="1498.03" y="610.45" width="1.8" height="1.8" fill="#b4b4bc"/><rect x="1477.37" y="588.77" width="1.8" height="1.8" fill="#9898c0"/><rect x="1486.43" y="582.11" width="1.8" height="1.8" fill="#b4b4bc"/><rect x="1490.04" y="596.68" width="1.8" height="1.8" fill="#4646a6"/><rect x="1496.57" y="592.62" width="1.8" height="1.8" fill="#4646a6"/><rect x="1508.96" y="567.65" width="1.8" height="1.8" fill="#9898c0"/><rect x="1518.94" y="585.45" width="1.8" height="1.8" fill="#9898c0"/><rect x="1478.74" y="580.44" width="1.8" height="1.8" fill="#4646a6"/><rect x="1512.04" y="600.62" width="1.8" height="1.8" fill="#9898c0"/><rect x="1491.5" y="589.7" width="1.8" height="1.8" fill="#9898c0"/><rect x="1503.74" y="601.05" width="1.8" height="1.8" fill="#9898c0"/><rect x="1498.8" y="600.41" width="1.8" height="1.8" fill="#9898c0"/><rect x="1488.81" y="579.69" width="1.8" height="1.8" fill="#9898c0"/><rect x="1509.39" y="597.31" width="1.8" height="1.8" fill="#4646a6"/><rect x="1499.97" y="595.86" width="1.8" height="1.8" fill="#4646a6"/><rect x="1503.35" y="597.87" width="1.8" height="1.8" fill="#4646a6"/><rect x="1516" y="594.84" width="1.8" height="1.8" fill="#9898c0"/><rect x="1511.48" y="583.68" width="1.8" height="1.8" fill="#9898c0"/><rect x="1493.23" y="559.73" width="1.8" height="1.8" fill="#9898c0"/><rect x="1506.02" y="588.88" width="1.8" height="1.8" fill="#4646a6"/><rect x="1507.66" y="565.61" width="1.8" height="1.8" fill="#b4b4bc"/><rect x="1494.18" y="581.67" width="1.8" height="1.8" fill="#4646a6"/><rect x="1476.7" y="599.6" width="1.8" height="1.8" fill="#9898c0"/><rect x="1516.8" y="572.91" width="1.8" height="1.8" fill="#9898c0"/><rect x="1506.51" y="609.61" width="1.8" height="1.8" fill="#b4b4bc"/><rect x="1484.53" y="600.59" width="1.8" height="1.8" fill="#b4b4bc"/><rect x="1521.68" y="611.35" width="1.8" height="1.8" fill="#4646a6"/><rect x="1482.53" y="575.46" width="1.8" height="1.8" fill="#4646a6"/><rect x="1503.39" y="603.25" width="1.8" height="1.8" fill="#9898c0"/><rect x="1483.91" y="579.29" width="1.8" height="1.8" fill="#4646a6"/><rect x="1485.8" y="602.06" width="1.8" height="1.8" fill="#b4b4bc"/><rect x="1493.2" y="595.53" width="1.8" height="1.8" fill="#4646a6"/><rect x="1509.2" y="602.75" width="1.8" height="1.8" fill="#9898c0"/><rect x="1506.18" y="592.66" width="1.8" height="1.8" fill="#c89868"/><rect x="1516.04" y="594.35" width="1.8" height="1.8" fill="#9898c0"/><rect x="1483.83" y="581.91" width="1.8" height="1.8" fill="#c89868"/><rect x="1512.68" y="590.22" width="1.8" height="1.8" fill="#9898c0"/><rect x="1495.94" y="591.51" width="1.8" height="1.8" fill="#9898c0"/><rect x="1544.77" y="587.89" width="1.8" height="1.8" fill="#c89868"/><rect x="1507.06" y="594.13" width="1.8" height="1.8" fill="#4646a6"/><rect x="1497.02" y="603.17" width="1.8" height="1.8" fill="#9898c0"/><rect x="1512.05" y="593.42" width="1.8" height="1.8" fill="#9898c0"/><rect x="1482.6" y="604.01" width="1.8" height="1.8" fill="#9898c0"/><rect x="1510.83" y="587.49" width="1.8" height="1.8" fill="#9898c0"/><rect x="1484.44" y="585.68" width="1.8" height="1.8" fill="#c89868"/><rect x="1493.82" y="578.29" width="1.8" height="1.8" fill="#c89868"/><rect x="1514.13" y="589.9" width="1.8" height="1.8" fill="#9898c0"/><rect x="1517.1" y="576.61" width="1.8" height="1.8" fill="#9898c0"/><rect x="1498.07" y="605.29" width="1.8" height="1.8" fill="#c89868"/><rect x="1504.97" y="579.56" width="1.8" height="1.8" fill="#c89868"/><rect x="1488.73" y="581.19" width="1.8" height="1.8" fill="#4646a6"/><rect x="1499.49" y="596.97" width="1.8" height="1.8" fill="#b4b4bc"/><rect x="1502.56" y="597.79" width="1.8" height="1.8" fill="#4646a6"/><rect x="1511.82" y="589.97" width="1.8" height="1.8" fill="#4646a6"/><rect x="1517.83" y="597.58" width="1.8" height="1.8" fill="#9898c0"/><rect x="1498.15" y="586.46" width="1.8" height="1.8" fill="#9898c0"/><rect x="1500.36" y="579.39" width="1.8" height="1.8" fill="#9898c0"/><rect x="1482.69" y="588.94" width="1.8" height="1.8" fill="#c89868"/><rect x="1493.75" y="595.71" width="1.8" height="1.8" fill="#4646a6"/><rect x="1492.62" y="589.69" width="1.8" height="1.8" fill="#9898c0"/><rect x="1503.25" y="582.68" width="1.8" height="1.8" fill="#9898c0"/><rect x="1503.17" y="579.56" width="1.8" height="1.8" fill="#4646a6"/><rect x="1494.86" y="598.34" width="1.8" height="1.8" fill="#c89868"/><rect x="1505.76" y="588.41" width="1.8" height="1.8" fill="#b4b4bc"/><rect x="1490.08" y="597.03" width="1.8" height="1.8" fill="#9898c0"/><rect x="1527.2" y="561.62" width="1.8" height="1.8" fill="#b4b4bc"/><rect x="1514.59" y="591.12" width="1.8" height="1.8" fill="#9898c0"/><rect x="1515.23" y="602.82" width="1.8" height="1.8" fill="#9898c0"/><rect x="1486.98" y="609.86" width="1.8" height="1.8" fill="#b4b4bc"/><rect x="1492.64" y="585.35" width="1.8" height="1.8" fill="#9898c0"/><rect x="1508.91" y="587.38" width="1.8" height="1.8" fill="#9898c0"/><rect x="1504.1" y="582.06" width="1.8" height="1.8" fill="#4646a6"/><rect x="1486.68" y="588.63" width="1.8" height="1.8" fill="#9898c0"/><rect x="1485.96" y="604.96" width="1.8" height="1.8" fill="#9898c0"/><rect x="1503.77" y="605.71" width="1.8" height="1.8" fill="#9898c0"/><rect x="1483.87" y="562.78" width="1.8" height="1.8" fill="#9898c0"/><rect x="1483.3" y="592.82" width="1.8" height="1.8" fill="#4646a6"/><rect x="1481.03" y="571.32" width="1.8" height="1.8" fill="#9898c0"/><rect x="1504.25" y="583.53" width="1.8" height="1.8" fill="#9898c0"/><rect x="1509.56" y="598.35" width="1.8" height="1.8" fill="#9898c0"/><rect x="1505.24" y="573.4" width="1.8" height="1.8" fill="#9898c0"/><rect x="1488.93" y="616.3" width="1.8" height="1.8" fill="#9898c0"/><rect x="1497.46" y="591.99" width="1.8" height="1.8" fill="#9898c0"/><rect x="1502.16" y="588.06" width="1.8" height="1.8" fill="#9898c0"/><rect x="1498.21" y="581.45" width="1.8" height="1.8" fill="#9898c0"/><rect x="1493.59" y="563.57" width="1.8" height="1.8" fill="#4646a6"/><rect x="1522.76" y="587.05" width="1.8" height="1.8" fill="#9898c0"/><rect x="1482.97" y="594.76" width="1.8" height="1.8" fill="#9898c0"/><rect x="1509.39" y="570.6" width="1.8" height="1.8" fill="#9898c0"/><rect x="1493.56" y="606.78" width="1.8" height="1.8" fill="#c89868"/><rect x="1507.73" y="593.64" width="1.8" height="1.8" fill="#c89868"/><rect x="1513.77" y="586.77" width="1.8" height="1.8" fill="#9898c0"/><rect x="1496.56" y="608" width="1.8" height="1.8" fill="#c89868"/><rect x="1498.04" y="587.42" width="1.8" height="1.8" fill="#9898c0"/><rect x="1509" y="588.8" width="1.8" height="1.8" fill="#9898c0"/><rect x="1484.03" y="611.68" width="1.8" height="1.8" fill="#b4b4bc"/><rect x="1499.53" y="610.47" width="1.8" height="1.8" fill="#4646a6"/><rect x="1507.27" y="577.19" width="1.8" height="1.8" fill="#4646a6"/><rect x="1521.1" y="586.24" width="1.8" height="1.8" fill="#9898c0"/><rect x="1489.03" y="588.03" width="1.8" height="1.8" fill="#4646a6"/><rect x="1490.79" y="585.3" width="1.8" height="1.8" fill="#9898c0"/><rect x="1488.61" y="596.71" width="1.8" height="1.8" fill="#9898c0"/><rect x="1505.27" y="601.68" width="1.8" height="1.8" fill="#4646a6"/><rect x="1522.67" y="591.85" width="1.8" height="1.8" fill="#9898c0"/><rect x="1501.72" y="592.14" width="1.8" height="1.8" fill="#4646a6"/><rect x="1489.65" y="581.65" width="1.8" height="1.8" fill="#9898c0"/><rect x="1510.54" y="577.81" width="1.8" height="1.8" fill="#9898c0"/><rect x="1474.66" y="584.05" width="1.8" height="1.8" fill="#b4b4bc"/><rect x="1503.88" y="606.45" width="1.8" height="1.8" fill="#4646a6"/><rect x="1490.95" y="576.88" width="1.8" height="1.8" fill="#9898c0"/><rect x="1501.75" y="586.46" width="1.8" height="1.8" fill="#9898c0"/><rect x="1503.79" y="582.02" width="1.8" height="1.8" fill="#9898c0"/><rect x="1503.11" y="581.24" width="1.8" height="1.8" fill="#9898c0"/><rect x="1513.56" y="591.77" width="1.8" height="1.8" fill="#4646a6"/><rect x="1508.06" y="582.94" width="1.8" height="1.8" fill="#4646a6"/><rect x="1481.37" y="588.49" width="1.8" height="1.8" fill="#4646a6"/><rect x="1499.74" y="601.84" width="1.8" height="1.8" fill="#9898c0"/><rect x="1513.28" y="587.89" width="1.8" height="1.8" fill="#9898c0"/><rect x="1499.83" y="576.18" width="1.8" height="1.8" fill="#9898c0"/><rect x="1499.88" y="590.91" width="1.8" height="1.8" fill="#9898c0"/><rect x="1494.91" y="575.04" width="1.8" height="1.8" fill="#b4b4bc"/><rect x="1517.42" y="576.97" width="1.8" height="1.8" fill="#4646a6"/><rect x="1522.36" y="602.78" width="1.8" height="1.8" fill="#4646a6"/><rect x="1520.9" y="577.92" width="1.8" height="1.8" fill="#9898c0"/><rect x="1508.71" y="571.27" width="1.8" height="1.8" fill="#9898c0"/><rect x="1495.59" y="569.6" width="1.8" height="1.8" fill="#9898c0"/><rect x="1490.66" y="582.11" width="1.8" height="1.8" fill="#4646a6"/><rect x="1513.08" y="601.47" width="1.8" height="1.8" fill="#4646a6"/><rect x="1495.46" y="584.77" width="1.8" height="1.8" fill="#c89868"/><rect x="1487.87" y="574.3" width="1.8" height="1.8" fill="#c89868"/><rect x="1476.7" y="585.6" width="1.8" height="1.8" fill="#9898c0"/><rect x="1508.18" y="578.86" width="1.8" height="1.8" fill="#9898c0"/><rect x="1505.15" y="574.14" width="1.8" height="1.8" fill="#4646a6"/><rect x="1487.01" y="581.69" width="1.8" height="1.8" fill="#9898c0"/><rect x="1511.96" y="581.78" width="1.8" height="1.8" fill="#4646a6"/><rect x="1510.39" y="583.89" width="1.8" height="1.8" fill="#9898c0"/><rect x="1485.64" y="563.7" width="1.8" height="1.8" fill="#4646a6"/><rect x="1493.99" y="576.46" width="1.8" height="1.8" fill="#9898c0"/><rect x="1512.2" y="593.52" width="1.8" height="1.8" fill="#9898c0"/><rect x="1478.63" y="598.39" width="1.8" height="1.8" fill="#9898c0"/><rect x="1486.45" y="591.08" width="1.8" height="1.8" fill="#c89868"/><rect x="1479.2" y="579.26" width="1.8" height="1.8" fill="#9898c0"/><rect x="1507.04" y="591.12" width="1.8" height="1.8" fill="#c89868"/><rect x="1506.11" y="595.53" width="1.8" height="1.8" fill="#9898c0"/><rect x="1488.57" y="617.09" width="1.8" height="1.8" fill="#9898c0"/><rect x="1507.04" y="614.06" width="1.8" height="1.8" fill="#9898c0"/><rect x="1496.67" y="594.89" width="1.8" height="1.8" fill="#9898c0"/><rect x="1504.64" y="586.27" width="1.8" height="1.8" fill="#9898c0"/><rect x="1504.28" y="591.2" width="1.8" height="1.8" fill="#4646a6"/><rect x="1510.83" y="591.94" width="1.8" height="1.8" fill="#9898c0"/><rect x="1500.89" y="593.97" width="1.8" height="1.8" fill="#9898c0"/><rect x="1519.13" y="588.93" width="1.8" height="1.8" fill="#9898c0"/><rect x="1508.08" y="589.75" width="1.8" height="1.8" fill="#b4b4bc"/><rect x="1474.39" y="577.15" width="1.8" height="1.8" fill="#b4b4bc"/><rect x="1488.1" y="571.22" width="1.8" height="1.8" fill="#4646a6"/><rect x="1492" y="566.69" width="1.8" height="1.8" fill="#4646a6"/><rect x="1503.65" y="581.54" width="1.8" height="1.8" fill="#9898c0"/><rect x="1516.17" y="592.67" width="1.8" height="1.8" fill="#9898c0"/><rect x="1483.44" y="585.38" width="1.8" height="1.8" fill="#c89868"/><rect x="1500.7" y="579.82" width="1.8" height="1.8" fill="#9898c0"/><rect x="1495.37" y="574.92" width="1.8" height="1.8" fill="#9898c0"/><rect x="1490.52" y="591.35" width="1.8" height="1.8" fill="#9898c0"/><rect x="1495.73" y="602.57" width="1.8" height="1.8" fill="#9898c0"/><rect x="1472.4" y="578.4" width="1.8" height="1.8" fill="#9898c0"/><rect x="1495.21" y="605.79" width="1.8" height="1.8" fill="#9898c0"/><rect x="1514.59" y="597.08" width="1.8" height="1.8" fill="#9898c0"/><rect x="1512.76" y="607.16" width="1.8" height="1.8" fill="#b4b4bc"/><rect x="1508.82" y="585.11" width="1.8" height="1.8" fill="#c89868"/><rect x="1502.37" y="579.21" width="1.8" height="1.8" fill="#9898c0"/><rect x="1497.03" y="592.37" width="1.8" height="1.8" fill="#9898c0"/><rect x="1493.4" y="589.12" width="1.8" height="1.8" fill="#4646a6"/><rect x="1494.29" y="572.03" width="1.8" height="1.8" fill="#9898c0"/><rect x="1481.17" y="596.18" width="1.8" height="1.8" fill="#9898c0"/><rect x="1500.32" y="597.81" width="1.8" height="1.8" fill="#9898c0"/><rect x="1498.56" y="587.68" width="1.8" height="1.8" fill="#9898c0"/><rect x="1503.34" y="583.73" width="1.8" height="1.8" fill="#9898c0"/><rect x="1517.81" y="599.84" width="1.8" height="1.8" fill="#9898c0"/><rect x="1505" y="575.22" width="1.8" height="1.8" fill="#9898c0"/><rect x="1492.83" y="590.21" width="1.8" height="1.8" fill="#9898c0"/><rect x="1514.86" y="587.21" width="1.8" height="1.8" fill="#9898c0"/><rect x="1499.39" y="593.96" width="1.8" height="1.8" fill="#b4b4bc"/><rect x="1501.23" y="585.78" width="1.8" height="1.8" fill="#9898c0"/><rect x="1485.03" y="602.34" width="1.8" height="1.8" fill="#9898c0"/><rect x="1498.97" y="581.39" width="1.8" height="1.8" fill="#9898c0"/><rect x="1498.27" y="571.67" width="1.8" height="1.8" fill="#b4b4bc"/><rect x="1477.77" y="566.15" width="1.8" height="1.8" fill="#4646a6"/><rect x="1504.39" y="571.62" width="1.8" height="1.8" fill="#9898c0"/><rect x="1500.98" y="573.25" width="1.8" height="1.8" fill="#4646a6"/><rect x="1476.38" y="580.04" width="1.8" height="1.8" fill="#9898c0"/><rect x="1489.86" y="579.15" width="1.8" height="1.8" fill="#9898c0"/><rect x="1521.87" y="589.81" width="1.8" height="1.8" fill="#4646a6"/><rect x="1491.71" y="597.82" width="1.8" height="1.8" fill="#9898c0"/><rect x="1495.23" y="601.95" width="1.8" height="1.8" fill="#4646a6"/><rect x="1479.08" y="600.36" width="1.8" height="1.8" fill="#9898c0"/><rect x="1485.3" y="578.55" width="1.8" height="1.8" fill="#4646a6"/><rect x="1501.99" y="574.45" width="1.8" height="1.8" fill="#4646a6"/><rect x="1478.01" y="582.57" width="1.8" height="1.8" fill="#9898c0"/><rect x="1495.41" y="567.59" width="1.8" height="1.8" fill="#9898c0"/><rect x="1511.96" y="577.39" width="1.8" height="1.8" fill="#9898c0"/><rect x="1491.2" y="584.47" width="1.8" height="1.8" fill="#9898c0"/><rect x="1499.87" y="599.89" width="1.8" height="1.8" fill="#b4b4bc"/><rect x="1510.73" y="590.05" width="1.8" height="1.8" fill="#4646a6"/><rect x="1498.21" y="573.82" width="1.8" height="1.8" fill="#4646a6"/><rect x="1503.55" y="581.33" width="1.8" height="1.8" fill="#9898c0"/><rect x="1500.92" y="574.46" width="1.8" height="1.8" fill="#9898c0"/><rect x="1495.04" y="585.41" width="1.8" height="1.8" fill="#9898c0"/><rect x="1479.9" y="599.5" width="1.8" height="1.8" fill="#b4b4bc"/><rect x="1497.54" y="571.71" width="1.8" height="1.8" fill="#9898c0"/><rect x="1495.85" y="588.68" width="1.8" height="1.8" fill="#9898c0"/><rect x="1494.66" y="574.71" width="1.8" height="1.8" fill="#9898c0"/><rect x="1496.2" y="570.81" width="1.8" height="1.8" fill="#4646a6"/><rect x="1477.47" y="601.21" width="1.8" height="1.8" fill="#9898c0"/><rect x="1521.28" y="609.49" width="1.8" height="1.8" fill="#9898c0"/><rect x="1528.5" y="603.39" width="1.8" height="1.8" fill="#9898c0"/><rect x="1486.99" y="580.31" width="1.8" height="1.8" fill="#9898c0"/><rect x="1513.43" y="581.45" width="1.8" height="1.8" fill="#4646a6"/><rect x="1494.54" y="586.88" width="1.8" height="1.8" fill="#4646a6"/><rect x="1504.57" y="570.73" width="1.8" height="1.8" fill="#9898c0"/><rect x="1499.52" y="592.98" width="1.8" height="1.8" fill="#4646a6"/><rect x="1472.44" y="600.61" width="1.8" height="1.8" fill="#9898c0"/><rect x="1509.1" y="577.34" width="1.8" height="1.8" fill="#b4b4bc"/><rect x="1522.92" y="592.13" width="1.8" height="1.8" fill="#9898c0"/><rect x="1505.34" y="605.67" width="1.8" height="1.8" fill="#4646a6"/><rect x="1512.95" y="604.16" width="1.8" height="1.8" fill="#9898c0"/><rect x="1498.65" y="584.9" width="1.8" height="1.8" fill="#4646a6"/><rect x="1489.14" y="583.09" width="1.8" height="1.8" fill="#4646a6"/><rect x="1487.93" y="558.28" width="1.8" height="1.8" fill="#9898c0"/><rect x="1491.47" y="574.99" width="1.8" height="1.8" fill="#9898c0"/><rect x="1491.29" y="581.6" width="1.8" height="1.8" fill="#9898c0"/><rect x="1492.76" y="588.31" width="1.8" height="1.8" fill="#9898c0"/><rect x="1498.22" y="582.75" width="1.8" height="1.8" fill="#4646a6"/><rect x="1491.04" y="585.83" width="1.8" height="1.8" fill="#9898c0"/><rect x="1495.01" y="585.52" width="1.8" height="1.8" fill="#9898c0"/><rect x="1517.03" y="589.98" width="1.8" height="1.8" fill="#b4b4bc"/><rect x="1493.91" y="562.44" width="1.8" height="1.8" fill="#9898c0"/><rect x="1510.53" y="600.3" width="1.8" height="1.8" fill="#9898c0"/><rect x="1493.81" y="581.47" width="1.8" height="1.8" fill="#b4b4bc"/><rect x="1505.25" y="593.95" width="1.8" height="1.8" fill="#4646a6"/><rect x="1476.48" y="584.02" width="1.8" height="1.8" fill="#9898c0"/><rect x="1494.99" y="571.94" width="1.8" height="1.8" fill="#4646a6"/><rect x="1517.48" y="596.08" width="1.8" height="1.8" fill="#9898c0"/><rect x="1491.2" y="586.53" width="1.8" height="1.8" fill="#9898c0"/><rect x="1491.91" y="581" width="1.8" height="1.8" fill="#4646a6"/><rect x="1493.96" y="599.36" width="1.8" height="1.8" fill="#4646a6"/><rect x="1499.15" y="581.4" width="1.8" height="1.8" fill="#c89868"/><rect x="1490.2" y="590.21" width="1.8" height="1.8" fill="#9898c0"/><rect x="1487.71" y="567.69" width="1.8" height="1.8" fill="#9898c0"/><rect x="1497.26" y="606.17" width="1.8" height="1.8" fill="#9898c0"/><rect x="1490.22" y="588.99" width="1.8" height="1.8" fill="#9898c0"/><rect x="1496.51" y="601.82" width="1.8" height="1.8" fill="#4646a6"/><rect x="1505.26" y="571.84" width="1.8" height="1.8" fill="#9898c0"/><rect x="1521.77" y="587.17" width="1.8" height="1.8" fill="#9898c0"/><rect x="1487.17" y="581.03" width="1.8" height="1.8" fill="#9898c0"/><rect x="1499.88" y="600.02" width="1.8" height="1.8" fill="#9898c0"/><rect x="1495.42" y="578.18" width="1.8" height="1.8" fill="#b4b4bc"/><rect x="1516.33" y="605.93" width="1.8" height="1.8" fill="#9898c0"/><rect x="1494.45" y="588.73" width="1.8" height="1.8" fill="#9898c0"/><rect x="1503.94" y="583.44" width="1.8" height="1.8" fill="#9898c0"/><rect x="1487.17" y="599.62" width="1.8" height="1.8" fill="#9898c0"/><rect x="1484.82" y="565.04" width="1.8" height="1.8" fill="#b4b4bc"/><rect x="1506.67" y="601.02" width="1.8" height="1.8" fill="#9898c0"/><rect x="1509.7" y="577.84" width="1.8" height="1.8" fill="#4646a6"/><rect x="1495.89" y="573.98" width="1.8" height="1.8" fill="#9898c0"/><rect x="1492.25" y="557.56" width="1.8" height="1.8" fill="#b4b4bc"/><rect x="1487.73" y="603.67" width="1.8" height="1.8" fill="#9898c0"/><rect x="1483.84" y="607.86" width="1.8" height="1.8" fill="#c89868"/><rect x="1501.36" y="563.49" width="1.8" height="1.8" fill="#9898c0"/><rect x="1511.37" y="575.6" width="1.8" height="1.8" fill="#9898c0"/><rect x="1506.29" y="584.96" width="1.8" height="1.8" fill="#4646a6"/><rect x="1494.53" y="584.99" width="1.8" height="1.8" fill="#9898c0"/><rect x="1481.93" y="577.97" width="1.8" height="1.8" fill="#4646a6"/><rect x="1493.89" y="608.51" width="1.8" height="1.8" fill="#9898c0"/><rect x="1491.61" y="591.05" width="1.8" height="1.8" fill="#4646a6"/><rect x="1505.05" y="601.88" width="1.8" height="1.8" fill="#b4b4bc"/><rect x="1496.09" y="589.57" width="1.8" height="1.8" fill="#4646a6"/><rect x="1487" y="617.64" width="1.8" height="1.8" fill="#9898c0"/><rect x="1479.69" y="590.24" width="1.8" height="1.8" fill="#4646a6"/><rect x="1494.63" y="589.16" width="1.8" height="1.8" fill="#4646a6"/><rect x="1492.3" y="581.76" width="1.8" height="1.8" fill="#9898c0"/><rect x="1512.06" y="598.64" width="1.8" height="1.8" fill="#9898c0"/><rect x="1498.24" y="585.53" width="1.8" height="1.8" fill="#9898c0"/><rect x="1501.61" y="586.28" width="1.8" height="1.8" fill="#9898c0"/><rect x="1504.95" y="596.36" width="1.8" height="1.8" fill="#9898c0"/><rect x="1505.38" y="568.2" width="1.8" height="1.8" fill="#4646a6"/><rect x="1498.52" y="574.39" width="1.8" height="1.8" fill="#9898c0"/><rect x="1505.02" y="583.72" width="1.8" height="1.8" fill="#9898c0"/><rect x="1503.15" y="586.16" width="1.8" height="1.8" fill="#9898c0"/><rect x="1503.59" y="626.03" width="1.8" height="1.8" fill="#9898c0"/><rect x="1495.95" y="580.36" width="1.8" height="1.8" fill="#b4b4bc"/><rect x="1494.28" y="636.22" width="1.8" height="1.8" fill="#9898c0"/><rect x="1487.33" y="603.07" width="1.8" height="1.8" fill="#4646a6"/><rect x="1518.78" y="631.47" width="1.8" height="1.8" fill="#9898c0"/><rect x="1500.72" y="607.97" width="1.8" height="1.8" fill="#9898c0"/><rect x="1480.99" y="630.67" width="1.8" height="1.8" fill="#9898c0"/><rect x="1503.43" y="577.25" width="1.8" height="1.8" fill="#9898c0"/><rect x="1493.06" y="602.31" width="1.8" height="1.8" fill="#b4b4bc"/><rect x="1493.61" y="593.73" width="1.8" height="1.8" fill="#9898c0"/><rect x="1519.18" y="590.31" width="1.8" height="1.8" fill="#9898c0"/><rect x="1508.94" y="614.54" width="1.8" height="1.8" fill="#9898c0"/><rect x="1494.35" y="611.61" width="1.8" height="1.8" fill="#4646a6"/><rect x="1501.74" y="591.86" width="1.8" height="1.8" fill="#4646a6"/><rect x="1490.56" y="623.81" width="1.8" height="1.8" fill="#9898c0"/><rect x="1503.75" y="610.72" width="1.8" height="1.8" fill="#9898c0"/><rect x="1482.3" y="578.29" width="1.8" height="1.8" fill="#9898c0"/><rect x="1509.3" y="627.68" width="1.8" height="1.8" fill="#9898c0"/><rect x="1499.46" y="610.79" width="1.8" height="1.8" fill="#9898c0"/><rect x="1491.05" y="612.52" width="1.8" height="1.8" fill="#9898c0"/><rect x="1506.37" y="616.75" width="1.8" height="1.8" fill="#9898c0"/><rect x="1488.88" y="610.26" width="1.8" height="1.8" fill="#9898c0"/><rect x="1488.98" y="603.34" width="1.8" height="1.8" fill="#4646a6"/><rect x="1483.3" y="566.6" width="1.8" height="1.8" fill="#9898c0"/><rect x="1483.86" y="607.54" width="1.8" height="1.8" fill="#9898c0"/><rect x="1486.42" y="613.19" width="1.8" height="1.8" fill="#9898c0"/><rect x="1488.73" y="609.29" width="1.8" height="1.8" fill="#9898c0"/><rect x="1489.72" y="627.58" width="1.8" height="1.8" fill="#c89868"/><rect x="1490.38" y="604.87" width="1.8" height="1.8" fill="#9898c0"/><rect x="1505.83" y="628.37" width="1.8" height="1.8" fill="#9898c0"/><rect x="1482.74" y="628.12" width="1.8" height="1.8" fill="#9898c0"/><rect x="1483.71" y="589.05" width="1.8" height="1.8" fill="#9898c0"/><rect x="1485.99" y="620.69" width="1.8" height="1.8" fill="#9898c0"/><rect x="1483.73" y="613.93" width="1.8" height="1.8" fill="#c89868"/><rect x="1498.58" y="601.51" width="1.8" height="1.8" fill="#4646a6"/><rect x="1499" y="637.79" width="1.8" height="1.8" fill="#9898c0"/><rect x="1510.52" y="591.15" width="1.8" height="1.8" fill="#9898c0"/><rect x="1497.09" y="598.34" width="1.8" height="1.8" fill="#9898c0"/><rect x="1493.09" y="596.02" width="1.8" height="1.8" fill="#4646a6"/><rect x="1499.9" y="590.98" width="1.8" height="1.8" fill="#9898c0"/><rect x="1482.01" y="605.42" width="1.8" height="1.8" fill="#4646a6"/><rect x="1497.65" y="623.99" width="1.8" height="1.8" fill="#c89868"/><rect x="1501.18" y="590.8" width="1.8" height="1.8" fill="#4646a6"/><rect x="1485.24" y="609.83" width="1.8" height="1.8" fill="#9898c0"/><rect x="1497.09" y="616.29" width="1.8" height="1.8" fill="#9898c0"/><rect x="1507.68" y="568.83" width="1.8" height="1.8" fill="#9898c0"/><rect x="1488.29" y="613.43" width="1.8" height="1.8" fill="#9898c0"/><rect x="1483.7" y="631.37" width="1.8" height="1.8" fill="#9898c0"/><rect x="1493.61" y="614.23" width="1.8" height="1.8" fill="#b4b4bc"/><rect x="1492.4" y="610.34" width="1.8" height="1.8" fill="#9898c0"/><rect x="1498.48" y="613.37" width="1.8" height="1.8" fill="#9898c0"/><rect x="1480.73" y="574.15" width="1.8" height="1.8" fill="#c89868"/><rect x="1493.64" y="617.41" width="1.8" height="1.8" fill="#9898c0"/><rect x="1492" y="602.06" width="1.8" height="1.8" fill="#9898c0"/><rect x="1505.17" y="615.19" width="1.8" height="1.8" fill="#9898c0"/><rect x="1485.02" y="607.37" width="1.8" height="1.8" fill="#9898c0"/><rect x="1492.38" y="605.72" width="1.8" height="1.8" fill="#9898c0"/><rect x="1493.72" y="614.08" width="1.8" height="1.8" fill="#4646a6"/><rect x="1494.37" y="610.17" width="1.8" height="1.8" fill="#9898c0"/><rect x="1494.83" y="601.45" width="1.8" height="1.8" fill="#9898c0"/><rect x="1488.82" y="609.13" width="1.8" height="1.8" fill="#9898c0"/><rect x="1498.97" y="629.96" width="1.8" height="1.8" fill="#9898c0"/><rect x="1519.27" y="594.06" width="1.8" height="1.8" fill="#9898c0"/><rect x="1488" y="621.54" width="1.8" height="1.8" fill="#9898c0"/><rect x="1490.39" y="606.82" width="1.8" height="1.8" fill="#4646a6"/><rect x="1481.93" y="614.34" width="1.8" height="1.8" fill="#c89868"/><rect x="1480" y="620.76" width="1.8" height="1.8" fill="#9898c0"/><rect x="1486.23" y="608.52" width="1.8" height="1.8" fill="#4646a6"/><rect x="1504.39" y="591.39" width="1.8" height="1.8" fill="#9898c0"/><rect x="1493.39" y="638.74" width="1.8" height="1.8" fill="#4646a6"/><rect x="1498.22" y="570.31" width="1.8" height="1.8" fill="#4646a6"/><rect x="1489.94" y="571.84" width="1.8" height="1.8" fill="#c89868"/><rect x="1515.36" y="561.58" width="1.8" height="1.8" fill="#9898c0"/><rect x="1501.14" y="578.12" width="1.8" height="1.8" fill="#9898c0"/><rect x="1527.02" y="560.99" width="1.8" height="1.8" fill="#4646a6"/><rect x="1529.06" y="562.95" width="1.8" height="1.8" fill="#9898c0"/><rect x="1506.58" y="572.21" width="1.8" height="1.8" fill="#9898c0"/><rect x="1516.13" y="573.11" width="1.8" height="1.8" fill="#9898c0"/><rect x="1532.82" y="564.98" width="1.8" height="1.8" fill="#9898c0"/><rect x="1525.39" y="571.5" width="1.8" height="1.8" fill="#9898c0"/><rect x="1494.57" y="574.92" width="1.8" height="1.8" fill="#9898c0"/><rect x="1531.71" y="559.81" width="1.8" height="1.8" fill="#4646a6"/><rect x="1513.18" y="576.22" width="1.8" height="1.8" fill="#9898c0"/><rect x="1530.22" y="566.85" width="1.8" height="1.8" fill="#9898c0"/><rect x="1514.45" y="567.28" width="1.8" height="1.8" fill="#4646a6"/><rect x="1500.6" y="570.15" width="1.8" height="1.8" fill="#4646a6"/><rect x="1547.11" y="559.5" width="1.8" height="1.8" fill="#b4b4bc"/><rect x="1517.29" y="562.81" width="1.8" height="1.8" fill="#9898c0"/><rect x="1538.73" y="557.91" width="1.8" height="1.8" fill="#9898c0"/><rect x="1530.17" y="572.49" width="1.8" height="1.8" fill="#b4b4bc"/><rect x="1505.77" y="567.21" width="1.8" height="1.8" fill="#4646a6"/><rect x="1518.53" y="581.35" width="1.8" height="1.8" fill="#4646a6"/><rect x="1521.58" y="577.7" width="1.8" height="1.8" fill="#4646a6"/><rect x="1532.56" y="570.07" width="1.8" height="1.8" fill="#9898c0"/><rect x="1518.28" y="568.97" width="1.8" height="1.8" fill="#4646a6"/><rect x="1540.57" y="578.51" width="1.8" height="1.8" fill="#9898c0"/><rect x="1531.38" y="564.84" width="1.8" height="1.8" fill="#9898c0"/><rect x="1513.81" y="574.76" width="1.8" height="1.8" fill="#9898c0"/><rect x="1515.2" y="559.92" width="1.8" height="1.8" fill="#9898c0"/><rect x="1496.84" y="572.64" width="1.8" height="1.8" fill="#4646a6"/><rect x="1528.38" y="573.16" width="1.8" height="1.8" fill="#9898c0"/><rect x="1539.39" y="558.41" width="1.8" height="1.8" fill="#9898c0"/><rect x="1492.75" y="570.19" width="1.8" height="1.8" fill="#9898c0"/><rect x="1529.82" y="563.46" width="1.8" height="1.8" fill="#9898c0"/><rect x="1521.19" y="571.67" width="1.8" height="1.8" fill="#9898c0"/><rect x="1511.02" y="563.47" width="1.8" height="1.8" fill="#b4b4bc"/><rect x="1513.05" y="568.76" width="1.8" height="1.8" fill="#b4b4bc"/><rect x="1527.79" y="567.27" width="1.8" height="1.8" fill="#9898c0"/><rect x="1504.11" y="561.8" width="1.8" height="1.8" fill="#9898c0"/><rect x="1511.18" y="572.87" width="1.8" height="1.8" fill="#c89868"/><rect x="1505.58" y="566.74" width="1.8" height="1.8" fill="#9898c0"/><rect x="1524.82" y="571.12" width="1.8" height="1.8" fill="#4646a6"/><rect x="1546.12" y="572.74" width="1.8" height="1.8" fill="#9898c0"/><rect x="1526.3" y="584.12" width="1.8" height="1.8" fill="#9898c0"/><rect x="1491.35" y="557.2" width="1.8" height="1.8" fill="#9898c0"/><rect x="1506.55" y="570.12" width="1.8" height="1.8" fill="#c89868"/><rect x="1533.93" y="574.03" width="1.8" height="1.8" fill="#9898c0"/><rect x="1509.97" y="559.16" width="1.8" height="1.8" fill="#4646a6"/><rect x="1522.48" y="567.39" width="1.8" height="1.8" fill="#b4b4bc"/><rect x="1503.76" y="560.46" width="1.8" height="1.8" fill="#4646a6"/><rect x="1527.02" y="567.19" width="1.8" height="1.8" fill="#4646a6"/><rect x="1520" y="568.43" width="1.8" height="1.8" fill="#9898c0"/><rect x="1506.52" y="565.79" width="1.8" height="1.8" fill="#4646a6"/><rect x="1508.5" y="568.59" width="1.8" height="1.8" fill="#9898c0"/><rect x="1507.39" y="573.4" width="1.8" height="1.8" fill="#4646a6"/><rect x="1503.2" y="570.72" width="1.8" height="1.8" fill="#9898c0"/><rect x="1518.78" y="573.27" width="1.8" height="1.8" fill="#9898c0"/><rect x="1474.84" y="573.47" width="1.8" height="1.8" fill="#9898c0"/><rect x="1521.72" y="565.85" width="1.8" height="1.8" fill="#9898c0"/><rect x="1511.86" y="566.16" width="1.8" height="1.8" fill="#9898c0"/><rect x="1524.04" y="608.47" width="1.8" height="1.8" fill="#4646a6"/><rect x="1536.64" y="583.04" width="1.8" height="1.8" fill="#b4b4bc"/><rect x="1526.78" y="574.09" width="1.8" height="1.8" fill="#4646a6"/><rect x="1514.88" y="577.47" width="1.8" height="1.8" fill="#9898c0"/><rect x="1529.61" y="578.34" width="1.8" height="1.8" fill="#4646a6"/><rect x="1542.5" y="591.85" width="1.8" height="1.8" fill="#9898c0"/><rect x="1538.66" y="567.28" width="1.8" height="1.8" fill="#9898c0"/><rect x="1533.22" y="583.93" width="1.8" height="1.8" fill="#9898c0"/><rect x="1525.55" y="571.07" width="1.8" height="1.8" fill="#b4b4bc"/><rect x="1536.45" y="584.33" width="1.8" height="1.8" fill="#9898c0"/><rect x="1552.08" y="583.94" width="1.8" height="1.8" fill="#9898c0"/><rect x="1552.39" y="571.49" width="1.8" height="1.8" fill="#9898c0"/><rect x="1529.88" y="561.57" width="1.8" height="1.8" fill="#4646a6"/><rect x="1530.09" y="584.65" width="1.8" height="1.8" fill="#9898c0"/><rect x="1537.87" y="597.92" width="1.8" height="1.8" fill="#9898c0"/><rect x="1534.63" y="567.77" width="1.8" height="1.8" fill="#9898c0"/><rect x="1543.11" y="557.39" width="1.8" height="1.8" fill="#9898c0"/><rect x="1545.85" y="581.1" width="1.8" height="1.8" fill="#9898c0"/><rect x="1523.6" y="582.3" width="1.8" height="1.8" fill="#9898c0"/><rect x="1539.66" y="589.9" width="1.8" height="1.8" fill="#9898c0"/><rect x="1490.07" y="657.46" width="1.8" height="1.8" fill="#4646a6"/><rect x="1514.83" y="657.54" width="1.8" height="1.8" fill="#9898c0"/><rect x="1487.43" y="657.42" width="1.8" height="1.8" fill="#9898c0"/><rect x="1484.61" y="657.28" width="1.8" height="1.8" fill="#c89868"/><rect x="1492.13" y="657.11" width="1.8" height="1.8" fill="#9898c0"/><rect x="1520.09" y="657.39" width="1.8" height="1.8" fill="#9898c0"/><rect x="1553.1" y="555.1" width="1.8" height="1.8" fill="#9898c0"/><rect x="1585.1" y="548.1" width="1.8" height="1.8" fill="#9898c0"/><rect x="1594.1" y="544.1" width="1.8" height="1.8" fill="#9898c0"/><rect x="1602.6" y="556.1" width="1.8" height="1.8" fill="#c89868"/><rect x="1556.7" y="549.1" width="1.8" height="1.8" fill="#9898c0"/><rect x="1563.1" y="584.1" width="1.8" height="1.8" fill="#c89868"/><rect x="1529.1" y="556.1" width="1.8" height="1.8" fill="#9898c0"/><rect x="1519.1" y="552.1" width="1.8" height="1.8" fill="#9898c0"/><rect x="1479.1" y="649.1" width="1.8" height="1.8" fill="#4646a6"/><rect x="1486.1" y="646.1" width="1.8" height="1.8" fill="#9898c0"/><rect x="1509.1" y="648.1" width="1.8" height="1.8" fill="#9898c0"/>
<rect x="1475.7" y="439" width="144" height="133" fill="none" stroke="#333" stroke-width="2.2"/>
<path d="M1710 652.66H1713M1710 647.48H1713M1710 643.25H1713M1710 639.68H1713M1710 636.58H1713M1710 633.84H1713M1707 631.4H1713M1710 615.32H1713M1710 605.91H1713M1710 599.23H1713M1710 594.06H1713M1710 589.83H1713M1710 586.25H1713M1710 583.15H1713M1710 580.42H1713M1707 577.98H1713M1710 561.89H1713M1710 552.48H1713M1710 545.81H1713M1710 540.63H1713M1710 536.4H1713M1710 532.83H1713M1710 529.73H1713M1710 526.99H1713M1707 524.55H1713M1710 508.47H1713M1710 499.06H1713M1710 492.38H1713M1710 487.21H1713M1710 482.98H1713M1710 479.4H1713M1710 476.3H1713M1710 473.57H1713M1707 471.12H1713M1710 455.04H1713M1710 445.63H1713M1710 438.96H1713M1710 433.78H1713M1710 429.55H1713M1710 425.98H1713M1710 422.88H1713M1710 420.14H1713M1707 417.7H1713M1710 401.62H1713" stroke="#333" stroke-width="1.3" fill="none"/>
<path d="M1706 417.7H1713M1706 470.8H1713M1706 524.8H1713M1706 577.4H1713M1706 631.4H1713" stroke="#111" stroke-width="2.4" fill="none"/>
<path d="M1715.21 660.2V663.2M1740.88 660.2V663.2M1753.91 660.2V663.2M1763.15 660.2V663.2M1770.32 660.2V663.2M1776.18 660.2V663.2M1781.14 660.2V663.2M1785.43 660.2V663.2M1789.21 660.2V663.2M1814.88 660.2V663.2M1827.91 660.2V663.2M1837.15 660.2V663.2M1844.32 660.2V663.2M1850.18 660.2V663.2M1855.14 660.2V663.2M1859.43 660.2V663.2M1863.21 660.2V663.2M1888.88 660.2V663.2M1901.91 660.2V663.2M1911.15 660.2V663.2M1918.32 660.2V663.2M1924.18 660.2V663.2M1929.14 660.2V663.2M1933.43 660.2V663.2M1937.21 660.2V663.2M1962.88 660.2V663.2" stroke="#333" stroke-width="1.3" fill="none"/>
<path d="M1718.6 660.2V667.2M1792.6 660.2V667.2M1866.8 660.2V667.2M1940.6 660.2V667.2" stroke="#111" stroke-width="2.4" fill="none"/>
<rect x="1713" y="394.3" width="258" height="265.9" fill="none" stroke="#b4b4b4" stroke-width="1.6"/>
<text transform="translate(1707.5 422.5) scale(1 1.06)" font-size="13.5" text-anchor="end" fill="#111">10<tspan font-size="8.5" dy="-5.8">5</tspan></text>
<text transform="translate(1707.5 475.6) scale(1 1.06)" font-size="13.5" text-anchor="end" fill="#111">10<tspan font-size="8.5" dy="-5.8">4</tspan></text>
<text transform="translate(1707.5 529.6) scale(1 1.06)" font-size="13.5" text-anchor="end" fill="#111">10<tspan font-size="8.5" dy="-5.8">3</tspan></text>
<text transform="translate(1707.5 582.2) scale(1 1.06)" font-size="13.5" text-anchor="end" fill="#111">10<tspan font-size="8.5" dy="-5.8">2</tspan></text>
<text transform="translate(1707.5 636.2) scale(1 1.06)" font-size="13.5" text-anchor="end" fill="#111">10<tspan font-size="8.5" dy="-5.8">1</tspan></text>
<text transform="translate(1719.6 681) scale(1 1.06)" font-size="14" text-anchor="middle" fill="#111">10<tspan font-size="8.5" dy="-5.8">1</tspan></text>
<text transform="translate(1793.6 681) scale(1 1.06)" font-size="14" text-anchor="middle" fill="#111">10<tspan font-size="8.5" dy="-5.8">2</tspan></text>
<text transform="translate(1867.8 681) scale(1 1.06)" font-size="14" text-anchor="middle" fill="#111">10<tspan font-size="8.5" dy="-5.8">3</tspan></text>
<text transform="translate(1941.6 681) scale(1 1.06)" font-size="14" text-anchor="middle" fill="#111">10<tspan font-size="8.5" dy="-5.8">4</tspan></text>
<rect x="1828.17" y="595.82" width="1.8" height="1.8" fill="#4646a6"/><rect x="1809.68" y="593.96" width="1.8" height="1.8" fill="#4646a6"/><rect x="1809.05" y="573.97" width="1.8" height="1.8" fill="#4646a6"/><rect x="1804.15" y="600.02" width="1.8" height="1.8" fill="#9898c0"/><rect x="1791.77" y="596.53" width="1.8" height="1.8" fill="#c89868"/><rect x="1818.42" y="591.43" width="1.8" height="1.8" fill="#9898c0"/><rect x="1821.83" y="582.18" width="1.8" height="1.8" fill="#9898c0"/><rect x="1809.45" y="603.32" width="1.8" height="1.8" fill="#9898c0"/><rect x="1805.7" y="583.33" width="1.8" height="1.8" fill="#9898c0"/><rect x="1791.49" y="582.89" width="1.8" height="1.8" fill="#4646a6"/><rect x="1821.46" y="598.35" width="1.8" height="1.8" fill="#9898c0"/><rect x="1820.19" y="592.8" width="1.8" height="1.8" fill="#4646a6"/><rect x="1819.3" y="590.14" width="1.8" height="1.8" fill="#9898c0"/><rect x="1825.2" y="585.84" width="1.8" height="1.8" fill="#9898c0"/><rect x="1826.12" y="586.52" width="1.8" height="1.8" fill="#9898c0"/><rect x="1808.47" y="583.06" width="1.8" height="1.8" fill="#b4b4bc"/><rect x="1794.29" y="580.33" width="1.8" height="1.8" fill="#9898c0"/><rect x="1813.72" y="590.74" width="1.8" height="1.8" fill="#b4b4bc"/><rect x="1822.97" y="579.45" width="1.8" height="1.8" fill="#9898c0"/><rect x="1816.41" y="596.37" width="1.8" height="1.8" fill="#9898c0"/><rect x="1816.07" y="602.88" width="1.8" height="1.8" fill="#9898c0"/><rect x="1804.59" y="587.09" width="1.8" height="1.8" fill="#9898c0"/><rect x="1813.62" y="583.55" width="1.8" height="1.8" fill="#b4b4bc"/><rect x="1810.46" y="589.21" width="1.8" height="1.8" fill="#c89868"/><rect x="1810.68" y="582.68" width="1.8" height="1.8" fill="#9898c0"/><rect x="1805" y="586.46" width="1.8" height="1.8" fill="#c89868"/><rect x="1789.97" y="588.78" width="1.8" height="1.8" fill="#9898c0"/><rect x="1796.04" y="584.95" width="1.8" height="1.8" fill="#b4b4bc"/><rect x="1796.16" y="588.02" width="1.8" height="1.8" fill="#b4b4bc"/><rect x="1805.94" y="584.83" width="1.8" height="1.8" fill="#9898c0"/><rect x="1800.95" y="588.15" width="1.8" height="1.8" fill="#4646a6"/><rect x="1818.22" y="589.13" width="1.8" height="1.8" fill="#b4b4bc"/><rect x="1805.85" y="575.88" width="1.8" height="1.8" fill="#9898c0"/><rect x="1832.82" y="588.78" width="1.8" height="1.8" fill="#9898c0"/><rect x="1824.88" y="583.84" width="1.8" height="1.8" fill="#c89868"/><rect x="1800.65" y="596.66" width="1.8" height="1.8" fill="#4646a6"/><rect x="1821.26" y="584.47" width="1.8" height="1.8" fill="#9898c0"/><rect x="1808.18" y="592.61" width="1.8" height="1.8" fill="#9898c0"/><rect x="1800.2" y="579.78" width="1.8" height="1.8" fill="#b4b4bc"/><rect x="1810.57" y="596.01" width="1.8" height="1.8" fill="#4646a6"/><rect x="1822.93" y="588.79" width="1.8" height="1.8" fill="#4646a6"/><rect x="1829.59" y="585.82" width="1.8" height="1.8" fill="#9898c0"/><rect x="1804.42" y="607.77" width="1.8" height="1.8" fill="#9898c0"/><rect x="1804.4" y="592.43" width="1.8" height="1.8" fill="#9898c0"/><rect x="1818.78" y="588.21" width="1.8" height="1.8" fill="#9898c0"/><rect x="1814.29" y="593.28" width="1.8" height="1.8" fill="#9898c0"/><rect x="1818.76" y="582.05" width="1.8" height="1.8" fill="#9898c0"/><rect x="1811.27" y="599.35" width="1.8" height="1.8" fill="#9898c0"/><rect x="1821.18" y="583.38" width="1.8" height="1.8" fill="#4646a6"/><rect x="1812.08" y="578.49" width="1.8" height="1.8" fill="#9898c0"/><rect x="1793.63" y="582.56" width="1.8" height="1.8" fill="#9898c0"/><rect x="1833.13" y="581.73" width="1.8" height="1.8" fill="#9898c0"/><rect x="1801.89" y="593.69" width="1.8" height="1.8" fill="#9898c0"/><rect x="1828.14" y="584.29" width="1.8" height="1.8" fill="#9898c0"/><rect x="1812.89" y="579.36" width="1.8" height="1.8" fill="#4646a6"/><rect x="1827.72" y="580.81" width="1.8" height="1.8" fill="#9898c0"/><rect x="1811.65" y="608.06" width="1.8" height="1.8" fill="#9898c0"/><rect x="1798.59" y="588.69" width="1.8" height="1.8" fill="#4646a6"/><rect x="1810.58" y="591.29" width="1.8" height="1.8" fill="#9898c0"/><rect x="1817.66" y="600.26" width="1.8" height="1.8" fill="#b4b4bc"/><rect x="1817.97" y="592.48" width="1.8" height="1.8" fill="#9898c0"/><rect x="1794.49" y="590.77" width="1.8" height="1.8" fill="#9898c0"/><rect x="1793.15" y="597.87" width="1.8" height="1.8" fill="#9898c0"/><rect x="1810.53" y="595.72" width="1.8" height="1.8" fill="#4646a6"/><rect x="1804.55" y="589.25" width="1.8" height="1.8" fill="#9898c0"/><rect x="1812.46" y="592.09" width="1.8" height="1.8" fill="#9898c0"/><rect x="1809.89" y="582.09" width="1.8" height="1.8" fill="#9898c0"/><rect x="1806.22" y="581.55" width="1.8" height="1.8" fill="#4646a6"/><rect x="1798.75" y="576.61" width="1.8" height="1.8" fill="#4646a6"/><rect x="1791.39" y="603.76" width="1.8" height="1.8" fill="#9898c0"/><rect x="1801.22" y="577.53" width="1.8" height="1.8" fill="#b4b4bc"/><rect x="1824.8" y="589.74" width="1.8" height="1.8" fill="#4646a6"/><rect x="1809.51" y="597.19" width="1.8" height="1.8" fill="#9898c0"/><rect x="1836.65" y="579.79" width="1.8" height="1.8" fill="#9898c0"/><rect x="1830.66" y="592.25" width="1.8" height="1.8" fill="#9898c0"/><rect x="1827.13" y="582.58" width="1.8" height="1.8" fill="#9898c0"/><rect x="1834.17" y="597.42" width="1.8" height="1.8" fill="#9898c0"/><rect x="1829.64" y="575.1" width="1.8" height="1.8" fill="#4646a6"/><rect x="1815.88" y="585.68" width="1.8" height="1.8" fill="#9898c0"/><rect x="1814.34" y="579.71" width="1.8" height="1.8" fill="#9898c0"/><rect x="1820.13" y="593.7" width="1.8" height="1.8" fill="#4646a6"/><rect x="1809.93" y="586.63" width="1.8" height="1.8" fill="#9898c0"/><rect x="1793.95" y="587.43" width="1.8" height="1.8" fill="#4646a6"/><rect x="1800.39" y="610.09" width="1.8" height="1.8" fill="#9898c0"/><rect x="1811.34" y="600.71" width="1.8" height="1.8" fill="#4646a6"/><rect x="1810.81" y="586.86" width="1.8" height="1.8" fill="#9898c0"/><rect x="1821.36" y="586.95" width="1.8" height="1.8" fill="#9898c0"/><rect x="1843.16" y="585.65" width="1.8" height="1.8" fill="#b4b4bc"/><rect x="1833.47" y="576.79" width="1.8" height="1.8" fill="#b4b4bc"/><rect x="1798.93" y="592.96" width="1.8" height="1.8" fill="#9898c0"/><rect x="1792.52" y="604.5" width="1.8" height="1.8" fill="#9898c0"/><rect x="1818.57" y="587.99" width="1.8" height="1.8" fill="#9898c0"/><rect x="1835.53" y="582.69" width="1.8" height="1.8" fill="#9898c0"/><rect x="1824.72" y="591.2" width="1.8" height="1.8" fill="#9898c0"/><rect x="1792.41" y="593.46" width="1.8" height="1.8" fill="#9898c0"/><rect x="1825.39" y="585.22" width="1.8" height="1.8" fill="#9898c0"/><rect x="1812.18" y="589.22" width="1.8" height="1.8" fill="#c89868"/><rect x="1821.38" y="579.29" width="1.8" height="1.8" fill="#9898c0"/><rect x="1798.17" y="594.15" width="1.8" height="1.8" fill="#9898c0"/><rect x="1818.31" y="591.48" width="1.8" height="1.8" fill="#4646a6"/><rect x="1812.06" y="593.98" width="1.8" height="1.8" fill="#9898c0"/><rect x="1817.79" y="581.87" width="1.8" height="1.8" fill="#4646a6"/><rect x="1834.79" y="596.83" width="1.8" height="1.8" fill="#9898c0"/><rect x="1807.98" y="586.33" width="1.8" height="1.8" fill="#9898c0"/><rect x="1801.44" y="574.88" width="1.8" height="1.8" fill="#9898c0"/><rect x="1796.85" y="574.55" width="1.8" height="1.8" fill="#9898c0"/><rect x="1802.23" y="590.05" width="1.8" height="1.8" fill="#9898c0"/><rect x="1810.39" y="574.5" width="1.8" height="1.8" fill="#b4b4bc"/><rect x="1808.55" y="581.61" width="1.8" height="1.8" fill="#4646a6"/><rect x="1796.15" y="597" width="1.8" height="1.8" fill="#9898c0"/><rect x="1796.87" y="595.21" width="1.8" height="1.8" fill="#4646a6"/><rect x="1801.58" y="595.71" width="1.8" height="1.8" fill="#4646a6"/><rect x="1816.82" y="580.26" width="1.8" height="1.8" fill="#4646a6"/><rect x="1820.06" y="598.54" width="1.8" height="1.8" fill="#c89868"/><rect x="1829.6" y="600.28" width="1.8" height="1.8" fill="#4646a6"/><rect x="1806.36" y="606.35" width="1.8" height="1.8" fill="#9898c0"/><rect x="1803.18" y="586" width="1.8" height="1.8" fill="#9898c0"/><rect x="1790.08" y="585.3" width="1.8" height="1.8" fill="#9898c0"/><rect x="1791.29" y="588.21" width="1.8" height="1.8" fill="#b4b4bc"/><rect x="1822.54" y="601.41" width="1.8" height="1.8" fill="#4646a6"/><rect x="1827.57" y="588.69" width="1.8" height="1.8" fill="#b4b4bc"/><rect x="1817.9" y="589.04" width="1.8" height="1.8" fill="#4646a6"/><rect x="1805.93" y="595.61" width="1.8" height="1.8" fill="#4646a6"/><rect x="1792.23" y="588.94" width="1.8" height="1.8" fill="#9898c0"/><rect x="1803.42" y="593.87" width="1.8" height="1.8" fill="#9898c0"/><rect x="1821.89" y="577.98" width="1.8" height="1.8" fill="#9898c0"/><rect x="1795.59" y="600.39" width="1.8" height="1.8" fill="#9898c0"/><rect x="1826" y="587.04" width="1.8" height="1.8" fill="#4646a6"/><rect x="1823" y="587.83" width="1.8" height="1.8" fill="#9898c0"/><rect x="1817.99" y="583.8" width="1.8" height="1.8" fill="#9898c0"/><rect x="1818.96" y="602.24" width="1.8" height="1.8" fill="#c89868"/><rect x="1831.61" y="598.63" width="1.8" height="1.8" fill="#9898c0"/><rect x="1813.16" y="595.92" width="1.8" height="1.8" fill="#9898c0"/><rect x="1805.44" y="584.65" width="1.8" height="1.8" fill="#9898c0"/><rect x="1813.45" y="577.55" width="1.8" height="1.8" fill="#4646a6"/><rect x="1834.16" y="594.86" width="1.8" height="1.8" fill="#4646a6"/><rect x="1815.58" y="581.06" width="1.8" height="1.8" fill="#9898c0"/><rect x="1803.12" y="583.79" width="1.8" height="1.8" fill="#9898c0"/><rect x="1798.74" y="594.86" width="1.8" height="1.8" fill="#4646a6"/><rect x="1830.03" y="600.29" width="1.8" height="1.8" fill="#9898c0"/><rect x="1792.61" y="575.01" width="1.8" height="1.8" fill="#9898c0"/><rect x="1831.34" y="594.33" width="1.8" height="1.8" fill="#4646a6"/><rect x="1826.15" y="593.28" width="1.8" height="1.8" fill="#9898c0"/><rect x="1814.74" y="606.34" width="1.8" height="1.8" fill="#9898c0"/><rect x="1823.55" y="593.41" width="1.8" height="1.8" fill="#b4b4bc"/><rect x="1797.51" y="588.72" width="1.8" height="1.8" fill="#9898c0"/><rect x="1830.15" y="592.36" width="1.8" height="1.8" fill="#9898c0"/><rect x="1824.14" y="585.61" width="1.8" height="1.8" fill="#9898c0"/><rect x="1821.35" y="582.24" width="1.8" height="1.8" fill="#9898c0"/><rect x="1808.86" y="596.91" width="1.8" height="1.8" fill="#9898c0"/><rect x="1835.09" y="584.44" width="1.8" height="1.8" fill="#9898c0"/><rect x="1808.42" y="585.21" width="1.8" height="1.8" fill="#c89868"/><rect x="1808.79" y="587.57" width="1.8" height="1.8" fill="#4646a6"/><rect x="1823.69" y="590.42" width="1.8" height="1.8" fill="#4646a6"/><rect x="1811.35" y="591.32" width="1.8" height="1.8" fill="#9898c0"/><rect x="1838.93" y="578.08" width="1.8" height="1.8" fill="#9898c0"/><rect x="1803.25" y="589.63" width="1.8" height="1.8" fill="#4646a6"/><rect x="1825.41" y="584.96" width="1.8" height="1.8" fill="#4646a6"/><rect x="1796.7" y="601.1" width="1.8" height="1.8" fill="#9898c0"/><rect x="1830.27" y="604.79" width="1.8" height="1.8" fill="#4646a6"/><rect x="1790.21" y="583.51" width="1.8" height="1.8" fill="#9898c0"/><rect x="1807.8" y="593.49" width="1.8" height="1.8" fill="#9898c0"/><rect x="1808.63" y="592.36" width="1.8" height="1.8" fill="#9898c0"/><rect x="1817.94" y="585.99" width="1.8" height="1.8" fill="#c89868"/><rect x="1812.01" y="599.84" width="1.8" height="1.8" fill="#9898c0"/><rect x="1813.83" y="593.09" width="1.8" height="1.8" fill="#c89868"/><rect x="1810.91" y="593.67" width="1.8" height="1.8" fill="#4646a6"/><rect x="1834.03" y="588.05" width="1.8" height="1.8" fill="#4646a6"/><rect x="1804.58" y="580.57" width="1.8" height="1.8" fill="#9898c0"/><rect x="1825.55" y="580.28" width="1.8" height="1.8" fill="#9898c0"/><rect x="1828.27" y="624.39" width="1.8" height="1.8" fill="#9898c0"/><rect x="1824.66" y="598.12" width="1.8" height="1.8" fill="#4646a6"/><rect x="1834.87" y="587.11" width="1.8" height="1.8" fill="#9898c0"/><rect x="1811.33" y="602.22" width="1.8" height="1.8" fill="#9898c0"/><rect x="1859.78" y="608.02" width="1.8" height="1.8" fill="#c89868"/><rect x="1796.86" y="605.27" width="1.8" height="1.8" fill="#9898c0"/><rect x="1862.94" y="586.3" width="1.8" height="1.8" fill="#9898c0"/><rect x="1820.87" y="605.86" width="1.8" height="1.8" fill="#4646a6"/><rect x="1821.33" y="596.51" width="1.8" height="1.8" fill="#4646a6"/><rect x="1839.82" y="596.95" width="1.8" height="1.8" fill="#4646a6"/><rect x="1810.84" y="604.42" width="1.8" height="1.8" fill="#9898c0"/><rect x="1814.21" y="614.69" width="1.8" height="1.8" fill="#4646a6"/><rect x="1825.07" y="596.84" width="1.8" height="1.8" fill="#4646a6"/><rect x="1816.62" y="607.88" width="1.8" height="1.8" fill="#4646a6"/><rect x="1842.8" y="595.22" width="1.8" height="1.8" fill="#c89868"/><rect x="1810.65" y="608.09" width="1.8" height="1.8" fill="#9898c0"/><rect x="1813.43" y="605.19" width="1.8" height="1.8" fill="#9898c0"/><rect x="1819.88" y="588.07" width="1.8" height="1.8" fill="#4646a6"/><rect x="1800.7" y="598.02" width="1.8" height="1.8" fill="#9898c0"/><rect x="1827.19" y="576.25" width="1.8" height="1.8" fill="#4646a6"/><rect x="1864.08" y="588.06" width="1.8" height="1.8" fill="#9898c0"/><rect x="1819.68" y="584.08" width="1.8" height="1.8" fill="#b4b4bc"/><rect x="1801.35" y="620.51" width="1.8" height="1.8" fill="#9898c0"/><rect x="1794.62" y="602.93" width="1.8" height="1.8" fill="#4646a6"/><rect x="1811.04" y="607.77" width="1.8" height="1.8" fill="#9898c0"/><rect x="1853.05" y="601.66" width="1.8" height="1.8" fill="#b4b4bc"/><rect x="1818.9" y="614.93" width="1.8" height="1.8" fill="#9898c0"/><rect x="1849.08" y="592.07" width="1.8" height="1.8" fill="#9898c0"/><rect x="1841.59" y="603.94" width="1.8" height="1.8" fill="#4646a6"/><rect x="1855.09" y="586.82" width="1.8" height="1.8" fill="#9898c0"/><rect x="1794.07" y="583.31" width="1.8" height="1.8" fill="#9898c0"/><rect x="1826.36" y="602.66" width="1.8" height="1.8" fill="#9898c0"/><rect x="1839.58" y="602.17" width="1.8" height="1.8" fill="#4646a6"/><rect x="1811.89" y="598.62" width="1.8" height="1.8" fill="#c89868"/><rect x="1830" y="594.29" width="1.8" height="1.8" fill="#9898c0"/><rect x="1877.59" y="623.86" width="1.8" height="1.8" fill="#9898c0"/><rect x="1836.84" y="599.86" width="1.8" height="1.8" fill="#9898c0"/><rect x="1792.99" y="614.81" width="1.8" height="1.8" fill="#4646a6"/><rect x="1812.11" y="614.72" width="1.8" height="1.8" fill="#9898c0"/><rect x="1832.49" y="580.8" width="1.8" height="1.8" fill="#9898c0"/><rect x="1850.16" y="582.51" width="1.8" height="1.8" fill="#9898c0"/><rect x="1846.72" y="583.57" width="1.8" height="1.8" fill="#9898c0"/><rect x="1850.73" y="582.29" width="1.8" height="1.8" fill="#9898c0"/><rect x="1859.63" y="590.03" width="1.8" height="1.8" fill="#9898c0"/><rect x="1847.64" y="582.95" width="1.8" height="1.8" fill="#4646a6"/><rect x="1845.53" y="580.51" width="1.8" height="1.8" fill="#4646a6"/><rect x="1847.54" y="586.72" width="1.8" height="1.8" fill="#4646a6"/><rect x="1850.42" y="575.35" width="1.8" height="1.8" fill="#9898c0"/><rect x="1827.85" y="594.58" width="1.8" height="1.8" fill="#4646a6"/><rect x="1828.15" y="582.76" width="1.8" height="1.8" fill="#c89868"/><rect x="1839.52" y="584.17" width="1.8" height="1.8" fill="#9898c0"/><rect x="1845.66" y="584.51" width="1.8" height="1.8" fill="#4646a6"/><rect x="1844.1" y="576.09" width="1.8" height="1.8" fill="#c89868"/><rect x="1858.09" y="600.18" width="1.8" height="1.8" fill="#c89868"/><rect x="1838.78" y="582.69" width="1.8" height="1.8" fill="#9898c0"/><rect x="1874.12" y="573.14" width="1.8" height="1.8" fill="#9898c0"/><rect x="1835.65" y="589.81" width="1.8" height="1.8" fill="#9898c0"/><rect x="1860.37" y="584.11" width="1.8" height="1.8" fill="#4646a6"/><rect x="1863.4" y="583.17" width="1.8" height="1.8" fill="#4646a6"/><rect x="1852" y="584.01" width="1.8" height="1.8" fill="#b4b4bc"/><rect x="1790.1" y="633.1" width="1.8" height="1.8" fill="#9898c0"/><rect x="1804.1" y="645.8" width="1.8" height="1.8" fill="#4646a6"/><rect x="1835.1" y="638.1" width="1.8" height="1.8" fill="#4646a6"/><rect x="1841.1" y="635.1" width="1.8" height="1.8" fill="#9898c0"/><rect x="1870.7" y="470.8" width="1.8" height="1.8" fill="#c89868"/><rect x="1862.1" y="505.9" width="1.8" height="1.8" fill="#4646a6"/><rect x="1861.7" y="517.6" width="1.8" height="1.8" fill="#4646a6"/><rect x="1820.1" y="527.1" width="1.8" height="1.8" fill="#4646a6"/><rect x="1820.1" y="537.1" width="1.8" height="1.8" fill="#9898c0"/><rect x="1824.5" y="534.7" width="1.8" height="1.8" fill="#4646a6"/><rect x="1857.1" y="541.9" width="1.8" height="1.8" fill="#9898c0"/><rect x="1812.8" y="547.1" width="1.8" height="1.8" fill="#c89868"/><rect x="1846.1" y="549.1" width="1.8" height="1.8" fill="#9898c0"/><rect x="1854.1" y="550.9" width="1.8" height="1.8" fill="#9898c0"/><rect x="1894.7" y="551.8" width="1.8" height="1.8" fill="#9898c0"/><rect x="1919.9" y="543.7" width="1.8" height="1.8" fill="#9898c0"/><rect x="1928.9" y="536.5" width="1.8" height="1.8" fill="#9898c0"/><rect x="1929.8" y="549.1" width="1.8" height="1.8" fill="#b4b4bc"/><rect x="1916.1" y="557.1" width="1.8" height="1.8" fill="#c89868"/><rect x="1900.1" y="559.9" width="1.8" height="1.8" fill="#9898c0"/><rect x="1902.8" y="565.1" width="1.8" height="1.8" fill="#9898c0"/><rect x="1864.1" y="559.1" width="1.8" height="1.8" fill="#4646a6"/><rect x="1846.1" y="558.1" width="1.8" height="1.8" fill="#9898c0"/><rect x="1803.8" y="556.1" width="1.8" height="1.8" fill="#9898c0"/><rect x="1813.7" y="560.8" width="1.8" height="1.8" fill="#c89868"/><rect x="1820.1" y="561.1" width="1.8" height="1.8" fill="#4646a6"/><rect x="1800.1" y="564.1" width="1.8" height="1.8" fill="#4646a6"/><rect x="1812.8" y="566.1" width="1.8" height="1.8" fill="#9898c0"/><rect x="1932.1" y="561.1" width="1.8" height="1.8" fill="#9898c0"/><rect x="1927.1" y="567.1" width="1.8" height="1.8" fill="#9898c0"/><rect x="1897.1" y="554.1" width="1.8" height="1.8" fill="#4646a6"/><rect x="1860.1" y="565.1" width="1.8" height="1.8" fill="#4646a6"/>
<rect x="1792.6" y="439.8" width="144.4" height="133.2" fill="none" stroke="#333" stroke-width="2.2"/>
<rect x="1447.3" y="991" width="54.3" height="73.6" fill="#d0d0d0" stroke="#000" stroke-width="3"/>
<rect x="1533.5" y="902" width="54.2" height="162.6" fill="#74acfb" stroke="#000" stroke-width="3"/>
<path d="M1474.5 968.6V1011.2M1459.9 968.6H1489.1M1459.9 1011.2H1489.1" stroke="#222" stroke-width="1.8" fill="none"/>
<path d="M1560.8 830.3V971.3M1546.3 830.3H1575.3M1546.3 971.3H1575.3" stroke="#222" stroke-width="1.8" fill="none"/>
<circle cx="1474.5" cy="965" r="4.1" fill="#000"/>
<circle cx="1456.4" cy="981.2" r="4.1" fill="#000"/>
<circle cx="1474.5" cy="980.5" r="4.1" fill="#000"/>
<circle cx="1492.8" cy="981.8" r="4.1" fill="#000"/>
<circle cx="1483.7" cy="1011.5" r="4.1" fill="#000"/>
<circle cx="1465.7" cy="1020.5" r="4.1" fill="#000"/>
<circle cx="1560.8" cy="806.3" r="4.1" fill="#000"/>
<circle cx="1560.8" cy="826.8" r="4.1" fill="#000"/>
<circle cx="1569.9" cy="915.2" r="4.1" fill="#000"/>
<circle cx="1552" cy="921.4" r="4.1" fill="#000"/>
<circle cx="1560.8" cy="948.5" r="4.1" fill="#000"/>
<circle cx="1560.8" cy="987.9" r="4.1" fill="#000"/>
<path d="M1416.7 762V1064.6H1618.6" stroke="#000" stroke-width="3.2" fill="none" stroke-linecap="square"/>
<path d="M1411 1064.6H1416.7" stroke="#000" stroke-width="3.2"/>
<line x1="1411" y1="762" x2="1416.7" y2="762" stroke="#000" stroke-width="3.2" />
<text transform="translate(1402.2 771.25) scale(1 1.06)" font-size="25.7" text-anchor="end" fill="#000">16</text>
<line x1="1411" y1="837.8" x2="1416.7" y2="837.8" stroke="#000" stroke-width="3.2" />
<text transform="translate(1402.2 847.05) scale(1 1.06)" font-size="25.7" text-anchor="end" fill="#000">12</text>
<line x1="1411" y1="913.5" x2="1416.7" y2="913.5" stroke="#000" stroke-width="3.2" />
<text transform="translate(1402.2 922.75) scale(1 1.06)" font-size="25.7" text-anchor="end" fill="#000">8</text>
<line x1="1411" y1="989.3" x2="1416.7" y2="989.3" stroke="#000" stroke-width="3.2" />
<text transform="translate(1402.2 998.55) scale(1 1.06)" font-size="25.7" text-anchor="end" fill="#000">4</text>
<line x1="1411" y1="1064.6" x2="1416.7" y2="1064.6" stroke="#000" stroke-width="3.2" />
<text transform="translate(1402.2 1073.85) scale(1 1.06)" font-size="25.7" text-anchor="end" fill="#000">0</text>
<line x1="1474.5" y1="1064.6" x2="1474.5" y2="1069.8" stroke="#000" stroke-width="3.2" />
<line x1="1560.8" y1="1064.6" x2="1560.8" y2="1069.8" stroke="#000" stroke-width="3.2" />
<path d="M1473.2 770V753.6H1560V770" stroke="#000" stroke-width="2.6" fill="none"/>
<text transform="translate(1515.6 752.4) scale(1 1.06)" font-size="28" text-anchor="middle" fill="#000">*</text>
<text transform="translate(1370 919.6) rotate(-90) scale(1 1.09)" font-size="24.8" text-anchor="middle">CD4 T cell (%)</text>
<text transform="translate(1484.5 1082.8) rotate(-45) scale(1 1.06)" font-size="25" text-anchor="end">Vector</text>
<text transform="translate(1573.8 1086.8) rotate(-45) scale(1 1.06)" font-size="25" text-anchor="end">Lect2</text>
<rect x="1809.3" y="966.4" width="53.6" height="97.6" fill="#d0d0d0" stroke="#000" stroke-width="3"/>
<rect x="1895.2" y="857.3" width="54.1" height="206.7" fill="#74acfb" stroke="#000" stroke-width="3"/>
<path d="M1836 937.6V993.1M1821.5 937.6H1850.5M1821.5 993.1H1850.5" stroke="#222" stroke-width="1.8" fill="none"/>
<path d="M1922.4 811.7V900M1907.6 811.7H1937.2M1907.6 900H1937.2" stroke="#222" stroke-width="1.8" fill="none"/>
<circle cx="1836" cy="916" r="4.1" fill="#000"/>
<circle cx="1836" cy="950.9" r="4.1" fill="#000"/>
<circle cx="1826.9" cy="976" r="4.1" fill="#000"/>
<circle cx="1844.8" cy="974.4" r="4.1" fill="#000"/>
<circle cx="1844.8" cy="983.5" r="4.1" fill="#000"/>
<circle cx="1826.9" cy="992.5" r="4.1" fill="#000"/>
<circle cx="1922.4" cy="805.6" r="4.1" fill="#000"/>
<circle cx="1922.4" cy="824.8" r="4.1" fill="#000"/>
<circle cx="1912.8" cy="845.6" r="4.1" fill="#000"/>
<circle cx="1931.2" cy="843.2" r="4.1" fill="#000"/>
<circle cx="1922.4" cy="888" r="4.1" fill="#000"/>
<circle cx="1922.4" cy="927.2" r="4.1" fill="#000"/>
<path d="M1778.7 760.8V1064H1980" stroke="#000" stroke-width="3.2" fill="none" stroke-linecap="square"/>
<path d="M1774 1064H1778.7" stroke="#000" stroke-width="3.2"/>
<line x1="1774" y1="760.8" x2="1778.7" y2="760.8" stroke="#000" stroke-width="3.2" />
<text transform="translate(1765.2 770.05) scale(1 1.06)" font-size="25.7" text-anchor="end" fill="#000">28</text>
<line x1="1774" y1="836.8" x2="1778.7" y2="836.8" stroke="#000" stroke-width="3.2" />
<text transform="translate(1765.2 846.05) scale(1 1.06)" font-size="25.7" text-anchor="end" fill="#000">21</text>
<line x1="1774" y1="912.8" x2="1778.7" y2="912.8" stroke="#000" stroke-width="3.2" />
<text transform="translate(1765.2 922.05) scale(1 1.06)" font-size="25.7" text-anchor="end" fill="#000">14</text>
<line x1="1774" y1="988.8" x2="1778.7" y2="988.8" stroke="#000" stroke-width="3.2" />
<text transform="translate(1765.2 998.05) scale(1 1.06)" font-size="25.7" text-anchor="end" fill="#000">7</text>
<line x1="1774" y1="1064" x2="1778.7" y2="1064" stroke="#000" stroke-width="3.2" />
<text transform="translate(1765.2 1073.25) scale(1 1.06)" font-size="25.7" text-anchor="end" fill="#000">0</text>
<line x1="1836" y1="1064" x2="1836" y2="1069.6" stroke="#000" stroke-width="3.2" />
<line x1="1922.4" y1="1064" x2="1922.4" y2="1069.6" stroke="#000" stroke-width="3.2" />
<path d="M1832.8 780V763.5H1922.4V780" stroke="#000" stroke-width="2.6" fill="none"/>
<text transform="translate(1879.6 760.5) scale(1 1.06)" font-size="28" text-anchor="middle" fill="#000" letter-spacing="1.85">***</text>
<text transform="translate(1730 919) rotate(-90) scale(1 1.09)" font-size="24.8" text-anchor="middle">CD8 T cell (%)</text>
<text transform="translate(1847.5 1083.6) rotate(-45) scale(1 1.06)" font-size="25" text-anchor="end">Vector</text>
<text transform="translate(1936.4 1087.6) rotate(-45) scale(1 1.06)" font-size="25" text-anchor="end">Lect2</text>
<text transform="translate(84.5 618) scale(1 1.06)" font-size="32" fill="#000">ID8<tspan font-size="19.5" dy="-11.5">Vec</tspan></text>
<text transform="translate(273.5 618) scale(1 1.06)" font-size="32" fill="#000">ID8<tspan font-size="19.5" dy="-11.5"><tspan font-style="italic">Lect2</tspan></tspan></text>
<text transform="translate(166 965.6) scale(1 1.06)" font-size="32" fill="#000"><tspan font-style="italic">Lect2</tspan><tspan font-size="19.5" dy="-12">-/-</tspan></text>
<clipPath id="cp1"><rect x="34.5" y="634.0" width="183.3" height="291.0"/></clipPath><g clip-path="url(#cp1)"><rect x="34.5" y="634.0" width="183.3" height="291.0" fill="#3f3f3f" /><g filter="url(#bl10)"><ellipse cx="134.5" cy="654.0" rx="60.0" ry="32.0" fill="#565656" /><rect x="188.5" y="624.0" width="45.0" height="230.0" fill="#727272" /><rect x="46.5" y="714.0" width="22.0" height="210.0" fill="#2e2e2e" /><rect x="172.5" y="744.0" width="14.0" height="130.0" fill="#333333" /><ellipse cx="134.5" cy="784.0" rx="30.0" ry="30.0" fill="#4e4e4e" /><ellipse cx="132.5" cy="839.0" rx="40.0" ry="22.0" fill="#5a5a5a" /><ellipse cx="82.5" cy="906.0" rx="22.0" ry="22.0" fill="#1e1e1e" /><ellipse cx="164.5" cy="906.0" rx="20.0" ry="24.0" fill="#242424" /></g><g filter="url(#bl1)"><polygon points="30.5,630.0 44.5,630.0 43.5,694.0 42.5,754.0 41.5,810.0 30.5,810.0" fill="#cacac4" /><polygon points="30.5,810.0 41.5,810.0 39.5,864.0 38.5,930.0 30.5,930.0" fill="#8a8a86" /></g><g filter="url(#bl3)"><polygon points="75.9,862.8 94.3,867.4 89.7,876.6 75.9,885.8 57.5,890.4 49.5,888.1 50.6,878.9 62.1,874.3" fill="#e6e6e6" /><polygon points="167.9,832.9 181.7,835.2 190.9,858.2 207.0,878.9 216.2,888.1 213.9,901.9 202.4,899.6 190.9,881.2 174.8,855.9" fill="#e6e6e6" /><polygon points="117.3,856.0 147.2,853.6 144.5,878.9 140.3,880.0 125.3,880.0 118.5,874.0" fill="#cfcfcf" /></g><polygon points="125.5,878.0 140.0,878.0 139.0,929.0 126.5,929.0" fill="#f2f2f2" filter="url(#bl1)"/><rect x="34.5" y="634.0" width="183.3" height="291.0" filter="url(#fur)" style="mix-blend-mode:overlay" opacity="0.3"/><rect x="34.5" y="634.0" width="183.3" height="291.0" filter="url(#fur2)" style="mix-blend-mode:overlay" opacity="0.22"/><g filter="url(#bl1)"><polygon points="73.5,673.5 90.5,675.0 106.5,681.0 110.5,704.0 119.9,690.5 137.5,704.0 146.9,694.5 161.5,681.0 166.5,680.0 181.0,688.0 181.0,718.0 177.0,728.0 167.0,751.0 154.5,751.0 134.5,745.5 132.5,758.5 115.0,758.5 115.5,776.0 115.5,795.0 106.5,804.5 80.5,802.5 76.3,781.0 76.3,754.0 67.0,754.0 67.0,721.0 73.5,714.0" fill="#b050f0" /><polygon points="75.5,675.5 90.5,677.0 105.0,683.0 109.5,706.5 119.9,693.0 137.5,706.5 146.9,697.0 161.5,683.5 166.5,682.5 179.0,690.0 179.0,718.0 175.0,727.0 165.5,748.5 154.5,748.5 133.5,742.5 130.5,756.0 113.0,756.0 113.5,776.0 113.5,794.0 105.0,802.0 82.0,800.0 78.5,780.0 78.5,751.5 69.5,751.5 69.5,722.5 75.5,715.5" fill="#1230ff" /><polygon points="81.2,689.0 88.5,687.0 98.5,689.0 99.5,700.0 92.5,704.0 81.5,703.0" fill="#10f0ff" /><polygon points="72.5,729.0 84.5,726.0 96.5,724.0 106.5,718.0 114.1,706.5 126.5,704.0 133.5,714.0 133.5,738.0 130.5,752.0 122.5,755.0 114.5,752.0 104.5,755.0 92.5,755.0 80.5,752.0 73.5,744.0" fill="#10f0ff" /><polygon points="139.5,706.0 148.5,696.0 158.5,692.0 170.5,692.0 176.5,700.0 175.5,718.0 170.5,734.0 164.5,746.0 152.5,747.0 142.5,742.0 138.5,729.0" fill="#10f0ff" /><polygon points="83.5,771.0 92.5,766.0 104.5,767.0 109.5,776.0 108.5,790.0 100.5,797.0 86.5,796.0 82.5,784.0" fill="#10f0ff" /><polygon points="133.5,718.0 140.5,714.0 144.5,730.0 138.5,742.0 132.5,738.0" fill="#1230ff" /><polygon points="78.5,758.0 94.5,756.0 96.5,764.0 84.5,768.0" fill="#1230ff" /><ellipse cx="122.0" cy="728.0" rx="8.5" ry="17.0" fill="#20e060" /><ellipse cx="122.3" cy="728.0" rx="5.0" ry="12.5" fill="#f4f020" /><ellipse cx="122.3" cy="728.0" rx="3.6" ry="10.0" fill="#f02a10" /><ellipse cx="161.5" cy="706.0" rx="10.0" ry="6.5" fill="#20e040" /><ellipse cx="162.5" cy="706.0" rx="6.5" ry="3.8" fill="#f4f020" /><ellipse cx="156.5" cy="732.0" rx="4.5" ry="4.5" fill="#20e040" /><ellipse cx="93.3" cy="740.6" rx="3.0" ry="3.3" fill="#30e070" /><ellipse cx="166.5" cy="775.0" rx="6.0" ry="6.0" fill="#b050f0" /><ellipse cx="166.5" cy="775.0" rx="3.5" ry="3.5" fill="#6030f0" /><ellipse cx="114.5" cy="821.0" rx="6.0" ry="7.0" fill="#a040f0" /><ellipse cx="114.5" cy="821.0" rx="4.0" ry="5.0" fill="#1020ff" /><ellipse cx="148.5" cy="818.0" rx="6.0" ry="6.5" fill="#a040f0" /><ellipse cx="148.5" cy="818.0" rx="4.0" ry="4.5" fill="#1020ff" /></g></g>
<clipPath id="cp2"><rect x="229.0" y="634.0" width="183.5" height="291.0"/></clipPath><g clip-path="url(#cp2)"><rect x="229.0" y="634.0" width="183.5" height="291.0" fill="#4c4c4c" /><g filter="url(#bl10)"><ellipse cx="279.0" cy="674.0" rx="70.0" ry="50.0" fill="#727272" /><ellipse cx="349.0" cy="664.0" rx="40.0" ry="35.0" fill="#666666" /><rect x="381.0" y="694.0" width="12.0" height="120.0" fill="#303030" /><ellipse cx="241.0" cy="799.0" rx="16.0" ry="60.0" fill="#242424" /><ellipse cx="329.0" cy="784.0" rx="45.0" ry="60.0" fill="#585858" /><ellipse cx="329.0" cy="860.0" rx="34.0" ry="20.0" fill="#9a9a9a" /><ellipse cx="274.0" cy="906.0" rx="58.0" ry="28.0" fill="#161616" /><ellipse cx="394.0" cy="902.0" rx="22.0" ry="28.0" fill="#363636" /></g><g filter="url(#bl3)"><rect x="393.0" y="630.0" width="24.0" height="182.0" fill="#b4b4b4" /><polygon points="372.0,656.0 385.0,658.0 387.0,682.0 379.0,690.0 370.0,680.0" fill="#dedede" /><polygon points="241.6,851.0 257.0,848.0 277.0,856.0 291.0,858.0 290.0,872.0 269.0,870.0 255.0,875.0 243.0,872.0 248.0,862.0" fill="#e4e4e4" /><polygon points="368.0,848.0 381.0,842.0 399.0,836.0 415.0,833.0 415.0,849.0 397.0,853.0 379.0,859.0 369.0,862.0" fill="#e0e0e0" /><polygon points="327.0,872.0 340.0,870.0 371.0,916.0 375.0,930.0 361.0,930.0 333.0,890.0" fill="#dcdcdc" /></g><rect x="229.0" y="634.0" width="183.5" height="291.0" filter="url(#fur)" style="mix-blend-mode:overlay" opacity="0.3"/><rect x="229.0" y="634.0" width="183.5" height="291.0" filter="url(#fur2)" style="mix-blend-mode:overlay" opacity="0.22"/><g filter="url(#bl1)"><ellipse cx="318.0" cy="725.5" rx="10.0" ry="11.5" fill="#b070f0" opacity="0.8"/><ellipse cx="340.5" cy="718.0" rx="3.0" ry="2.8" fill="#b070f0" opacity="0.8"/><ellipse cx="352.5" cy="735.0" rx="13.5" ry="19.5" fill="#b070f0" opacity="0.85"/><ellipse cx="363.0" cy="776.5" rx="26.5" ry="22.5" fill="#b070f0" opacity="0.85"/><ellipse cx="375.0" cy="736.0" rx="6.0" ry="13.0" fill="#b070f0" opacity="0.65"/><ellipse cx="383.0" cy="751.0" rx="5.0" ry="9.0" fill="#b070f0" opacity="0.65"/><ellipse cx="322.0" cy="763.0" rx="15.0" ry="10.5" fill="#b070f0" opacity="0.8"/><ellipse cx="294.0" cy="778.0" rx="10.0" ry="18.5" fill="#b070f0" opacity="0.8"/><polygon points="345.0,792.0 360.0,792.0 356.0,830.0 346.0,830.0" fill="#b070f0" opacity="0.7"/><ellipse cx="315.0" cy="831.0" rx="13.0" ry="12.5" fill="#b070f0" opacity="0.8"/><ellipse cx="328.0" cy="651.0" rx="2.5" ry="3.0" fill="#b070f0" /><ellipse cx="316.5" cy="724.5" rx="6.0" ry="6.0" fill="#1a30ff" /><ellipse cx="352.5" cy="735.0" rx="11.0" ry="17.0" fill="#1a30ff" /><ellipse cx="360.0" cy="754.0" rx="17.0" ry="8.0" fill="#1a30ff" /><ellipse cx="363.0" cy="776.5" rx="24.0" ry="20.5" fill="#1a30ff" /><ellipse cx="380.0" cy="730.0" rx="3.0" ry="7.0" fill="#1a30ff" /><ellipse cx="326.0" cy="765.0" rx="9.5" ry="7.0" fill="#3a30f8" /><ellipse cx="293.7" cy="785.0" rx="6.0" ry="9.0" fill="#1a30ff" /><polygon points="349.0,794.0 356.0,794.0 353.0,826.0 348.0,826.0" fill="#1a30ff" /><ellipse cx="315.0" cy="830.5" rx="9.0" ry="8.0" fill="#1a30ff" /><ellipse cx="354.0" cy="733.0" rx="7.8" ry="9.5" fill="#10f0ff" /><ellipse cx="363.0" cy="775.5" rx="17.0" ry="14.5" fill="#10f0ff" /><ellipse cx="365.0" cy="773.5" rx="6.5" ry="7.0" fill="#20e040" /></g></g>
<rect x="435" y="646" width="7.3" height="260.5" fill="url(#cbar)"/>
<path d="M442.3 674.4H445M442.3 688.9H445M442.3 702.5H445M442.3 717.9H445M442.3 760.4H445M442.3 775.8H445M442.3 789.4H445M442.3 804.8H445M442.3 819.3H445M442.3 848.3H445M442.3 862.8H445M442.3 891.8H445" stroke="#555" stroke-width="0.8"/>
<path d="M433 644H444M446 644H452M454 644H465" stroke="#c8c8d8" stroke-width="0.8"/>
<g font-size="3.5" fill="#666"><text x="446" y="651">3.0</text><text x="446" y="719">1.0</text><text x="446" y="777">1.0</text><text x="446" y="864">5.0</text><text x="434" y="919" font-size="4" font-weight="bold" fill="#777">Radiance</text><text x="434" y="924" font-size="3.5" fill="#888">(p/sec/cm2/sr)</text></g>
<rect x="600.9" y="801.6" width="50.3" height="100.3" fill="#d0d0d0" stroke="#000" stroke-width="2.6"/>
<rect x="680.7" y="877.1" width="50.2" height="24.8" fill="#74acfb" stroke="#000" stroke-width="2.6"/>
<path d="M626.2 706.8V894.9M613.2 706.8H639.2M613.2 894.9H639.2" stroke="#222" stroke-width="1.6" fill="none"/>
<path d="M705.5 857.3V894.9M692.5 857.3H718.5M692.5 894.9H718.5" stroke="#222" stroke-width="1.6" fill="none"/>
<circle cx="626.2" cy="661.2" r="3.8" fill="#000"/>
<circle cx="626.2" cy="753.3" r="3.8" fill="#000"/>
<circle cx="626.2" cy="827.6" r="3.8" fill="#000"/>
<circle cx="626.2" cy="873.4" r="3.8" fill="#000"/>
<circle cx="626.2" cy="889.5" r="3.8" fill="#000"/>
<circle cx="705.4" cy="849.1" r="3.8" fill="#000"/>
<circle cx="705.4" cy="865.5" r="3.8" fill="#000"/>
<circle cx="697.5" cy="882" r="3.8" fill="#000"/>
<circle cx="713.6" cy="889" r="3.8" fill="#000"/>
<circle cx="697.5" cy="895.7" r="3.8" fill="#000"/>
<path d="M573.7 624.6V901.9H758.1" stroke="#000" stroke-width="2.8" fill="none" stroke-linecap="square"/>
<path d="M561.3 901.9H573.7" stroke="#000" stroke-width="2.8"/>
<line x1="561.3" y1="624.6" x2="573.7" y2="624.6" stroke="#000" stroke-width="2.8" />
<text transform="translate(556.5 632.27) scale(1 1.06)" font-size="21.3" text-anchor="end" fill="#151515">120</text>
<line x1="561.3" y1="694.1" x2="573.7" y2="694.1" stroke="#000" stroke-width="2.8" />
<text transform="translate(556.5 701.77) scale(1 1.06)" font-size="21.3" text-anchor="end" fill="#151515">90</text>
<line x1="561.3" y1="763.2" x2="573.7" y2="763.2" stroke="#000" stroke-width="2.8" />
<text transform="translate(556.5 770.87) scale(1 1.06)" font-size="21.3" text-anchor="end" fill="#151515">60</text>
<line x1="561.3" y1="832.8" x2="573.7" y2="832.8" stroke="#000" stroke-width="2.8" />
<text transform="translate(556.5 840.47) scale(1 1.06)" font-size="21.3" text-anchor="end" fill="#151515">30</text>
<line x1="561.3" y1="901.9" x2="573.7" y2="901.9" stroke="#000" stroke-width="2.8" />
<text transform="translate(556.5 909.57) scale(1 1.06)" font-size="21.3" text-anchor="end" fill="#151515">0</text>
<line x1="625.7" y1="901.9" x2="625.7" y2="913" stroke="#000" stroke-width="2.8" />
<line x1="705.4" y1="901.9" x2="705.4" y2="913" stroke="#000" stroke-width="2.8" />
<path d="M623.7 637.4V622.6H702.4V637.4" stroke="#000" stroke-width="2.6" fill="none"/>
<text transform="translate(662 622) scale(1 1.06)" font-size="26" text-anchor="middle" fill="#000">**</text>
<text transform="translate(517.8 760.7) rotate(-90) scale(1 1.09)" font-size="24.5" text-anchor="middle">IVIS (1x10<tspan font-size="14.5" dy="-8.5">6</tspan><tspan dy="8.5"> p/s/cm</tspan><tspan font-size="14.5" dy="-8.5">2</tspan><tspan dy="8.5">/sr)</tspan></text>
<text transform="translate(621.7 927) rotate(-45) scale(1 1.06)" font-size="24.6" text-anchor="end">Vector</text>
<text transform="translate(713.4 928) rotate(-45) scale(1 1.06)" font-size="24.6" text-anchor="end"><tspan font-style="italic">Lect2</tspan></text>
<rect x="937.3" y="864.3" width="40.1" height="38.5" fill="#d0d0d0" stroke="#000" stroke-width="2.6"/>
<rect x="1000.8" y="885.3" width="40.1" height="17.5" fill="#7b7b7b" stroke="#000" stroke-width="2.6"/>
<rect x="1064" y="871.3" width="39.7" height="31.5" fill="#f50000" stroke="#000" stroke-width="2.6"/>
<rect x="1127.7" y="837.8" width="39.5" height="65" fill="#74acfb" stroke="#000" stroke-width="2.6"/>
<path d="M956.7 833.6V892.7M946.1 833.6H967.3M946.1 892.7H967.3" stroke="#222" stroke-width="1.6" fill="none"/>
<path d="M1020.5 876V896M1010 876H1031M1010 896H1031" stroke="#222" stroke-width="1.6" fill="none"/>
<path d="M1084 844.2V897.3M1073.5 844.2H1094.5M1073.5 897.3H1094.5" stroke="#222" stroke-width="1.6" fill="none"/>
<path d="M1147.5 779.6V894M1136.7 779.6H1158.3M1136.7 894H1158.3" stroke="#222" stroke-width="1.6" fill="none"/>
<circle cx="956.7" cy="807.5" r="3.8" fill="#000"/>
<circle cx="945.7" cy="823.8" r="3.8" fill="#000"/>
<circle cx="956.7" cy="821.8" r="3.8" fill="#000"/>
<circle cx="968" cy="820.2" r="3.8" fill="#000"/>
<circle cx="939.9" cy="871.3" r="3.8" fill="#000"/>
<circle cx="951.3" cy="867.3" r="3.8" fill="#000"/>
<circle cx="962.3" cy="867.3" r="3.8" fill="#000"/>
<circle cx="974" cy="868.3" r="3.8" fill="#000"/>
<circle cx="939.9" cy="881.3" r="3.8" fill="#000"/>
<circle cx="951.3" cy="875.9" r="3.8" fill="#000"/>
<circle cx="962.3" cy="879.9" r="3.8" fill="#000"/>
<circle cx="974" cy="877.9" r="3.8" fill="#000"/>
<circle cx="951.3" cy="885.9" r="3.8" fill="#000"/>
<circle cx="962.3" cy="894.7" r="3.8" fill="#000"/>
<circle cx="951.3" cy="902" r="3.8" fill="#000"/>
<circle cx="1012" cy="863.9" r="3.8" fill="#000"/>
<circle cx="1004" cy="869.9" r="3.8" fill="#000"/>
<circle cx="1020.5" cy="869.3" r="3.8" fill="#000"/>
<circle cx="1029.1" cy="869.9" r="3.8" fill="#000"/>
<circle cx="1037.9" cy="867.3" r="3.8" fill="#000"/>
<circle cx="1012" cy="884.3" r="3.8" fill="#000"/>
<circle cx="1020.5" cy="878.3" r="3.8" fill="#000"/>
<circle cx="1029.1" cy="889.3" r="3.8" fill="#000"/>
<circle cx="1020.5" cy="891.3" r="3.8" fill="#000"/>
<circle cx="1004" cy="903.4" r="3.8" fill="#000"/>
<circle cx="1012" cy="899.3" r="3.8" fill="#000"/>
<circle cx="1029.1" cy="902.8" r="3.8" fill="#000"/>
<circle cx="1037.9" cy="903.4" r="3.8" fill="#000"/>
<circle cx="1020.5" cy="903.4" r="3.8" fill="#000"/>
<circle cx="1084.2" cy="812.5" r="3.8" fill="#000"/>
<circle cx="1084.2" cy="824.2" r="3.8" fill="#000"/>
<circle cx="1084.2" cy="846.6" r="3.8" fill="#000"/>
<circle cx="1084.2" cy="863.3" r="3.8" fill="#000"/>
<circle cx="1092.3" cy="859.2" r="3.8" fill="#000"/>
<circle cx="1075.6" cy="871.3" r="3.8" fill="#000"/>
<circle cx="1100.7" cy="871.3" r="3.8" fill="#000"/>
<circle cx="1067.6" cy="878.3" r="3.8" fill="#000"/>
<circle cx="1084.2" cy="878.7" r="3.8" fill="#000"/>
<circle cx="1100.7" cy="879.9" r="3.8" fill="#000"/>
<circle cx="1075" cy="883.3" r="3.8" fill="#000"/>
<circle cx="1092.3" cy="882.7" r="3.8" fill="#000"/>
<circle cx="1075.6" cy="903.4" r="3.8" fill="#000"/>
<circle cx="1092.3" cy="902.8" r="3.8" fill="#000"/>
<circle cx="1147.4" cy="791.5" r="3.8" fill="#000"/>
<circle cx="1147.4" cy="801.7" r="3.8" fill="#000"/>
<circle cx="1130.4" cy="816.1" r="3.8" fill="#000"/>
<circle cx="1147.4" cy="825.2" r="3.8" fill="#000"/>
<circle cx="1164.4" cy="823.8" r="3.8" fill="#000"/>
<circle cx="1130.4" cy="844.2" r="3.8" fill="#000"/>
<circle cx="1164.4" cy="842.2" r="3.8" fill="#000"/>
<circle cx="1147.4" cy="850.6" r="3.8" fill="#000"/>
<circle cx="1147.4" cy="858.6" r="3.8" fill="#000"/>
<circle cx="1138.8" cy="873.9" r="3.8" fill="#000"/>
<circle cx="1155.8" cy="873.9" r="3.8" fill="#000"/>
<circle cx="1147.4" cy="882.7" r="3.8" fill="#000"/>
<circle cx="1155.8" cy="897.9" r="3.8" fill="#000"/>
<circle cx="1138.8" cy="902.8" r="3.8" fill="#000"/>
<circle cx="1147.1" cy="669" r="3.8" fill="#000"/>
<path d="M914.9 628.4V902.8H1188.9" stroke="#000" stroke-width="2.8" fill="none" stroke-linecap="square"/>
<path d="M903.9 902.8H914.9" stroke="#000" stroke-width="2.8"/>
<line x1="903.9" y1="628.4" x2="914.9" y2="628.4" stroke="#000" stroke-width="2.8" />
<text transform="translate(899.1 636.07) scale(1 1.06)" font-size="21.3" text-anchor="end" fill="#151515">5</text>
<line x1="903.9" y1="683.6" x2="914.9" y2="683.6" stroke="#000" stroke-width="2.8" />
<text transform="translate(899.1 691.27) scale(1 1.06)" font-size="21.3" text-anchor="end" fill="#151515">4</text>
<line x1="903.9" y1="738" x2="914.9" y2="738" stroke="#000" stroke-width="2.8" />
<text transform="translate(899.1 745.67) scale(1 1.06)" font-size="21.3" text-anchor="end" fill="#151515">3</text>
<line x1="903.9" y1="793.1" x2="914.9" y2="793.1" stroke="#000" stroke-width="2.8" />
<text transform="translate(899.1 800.77) scale(1 1.06)" font-size="21.3" text-anchor="end" fill="#151515">2</text>
<line x1="903.9" y1="847.6" x2="914.9" y2="847.6" stroke="#000" stroke-width="2.8" />
<text transform="translate(899.1 855.27) scale(1 1.06)" font-size="21.3" text-anchor="end" fill="#151515">1</text>
<line x1="903.9" y1="902.8" x2="914.9" y2="902.8" stroke="#000" stroke-width="2.8" />
<text transform="translate(899.1 910.47) scale(1 1.06)" font-size="21.3" text-anchor="end" fill="#151515">0</text>
<line x1="956.7" y1="902.8" x2="956.7" y2="914.4" stroke="#000" stroke-width="2.8" />
<line x1="1020.1" y1="902.8" x2="1020.1" y2="914.4" stroke="#000" stroke-width="2.8" />
<line x1="1083.6" y1="902.8" x2="1083.6" y2="914.4" stroke="#000" stroke-width="2.8" />
<line x1="1146.8" y1="902.8" x2="1146.8" y2="914.4" stroke="#000" stroke-width="2.8" />
<path d="M957 641V626.2H1018.5V641" stroke="#000" stroke-width="2.6" fill="none"/>
<text transform="translate(987.2 626) scale(1 1.06)" font-size="26" text-anchor="middle" fill="#000">*</text>
<path d="M1086.9 641V626.2H1148.2V641" stroke="#000" stroke-width="2.6" fill="none"/>
<text transform="translate(1116.2 626) scale(1 1.06)" font-size="26" text-anchor="middle" fill="#000">*</text>
<path d="M1019.2 594.7V583.7H1147V594.7" stroke="#000" stroke-width="2.6" fill="none"/>
<text transform="translate(1085.3 580) scale(1 1.06)" font-size="26" text-anchor="middle" fill="#000">**</text>
<text transform="translate(858 763) rotate(-90) scale(1 1.09)" font-size="25" text-anchor="middle">IVIS (1x10<tspan font-size="14.8" dy="-8.6">6</tspan><tspan dy="8.6"> p/s/cm</tspan><tspan font-size="14.8" dy="-8.6">2</tspan><tspan dy="8.6">/sr)</tspan></text>
<text transform="translate(960.7 935.4) rotate(-45) scale(1 1.06)" font-size="24.2" text-anchor="end"><tspan font-style="italic">Ctrl</tspan></text>
<text transform="translate(1035.1 922.4) rotate(-45) scale(1 1.06)" font-size="24.2" text-anchor="end">αPD-L1</text>
<text transform="translate(1094.6 940.4) rotate(-45) scale(1 1.06)" font-size="24.2" text-anchor="end">Ctrl</text>
<text transform="translate(1163.8 922.4) rotate(-45) scale(1 1.06)" font-size="24.2" text-anchor="end">αPD-L1</text>
<line x1="937.3" y1="1010.6" x2="1037.5" y2="1010.6" stroke="#000" stroke-width="4.2" />
<line x1="1071.2" y1="1010.6" x2="1171.9" y2="1010.6" stroke="#000" stroke-width="4.2" />
<text transform="translate(922.5 1052) scale(1 1.06)" font-size="24.2" fill="#000">ID8/<tspan font-style="italic">Lect2</tspan><tspan font-size="15.5" dy="-9">+/+</tspan></text>
<text transform="translate(1071 1052) scale(1 1.06)" font-size="24.2" fill="#000">ID8/<tspan font-style="italic">Lect2</tspan><tspan font-size="15.5" dy="-9">-/-</tspan></text>
<path d="M128 1210V1559.75" stroke="#000" stroke-width="3.5" fill="none"/>
<path d="M113.75 1558H651.75" stroke="#000" stroke-width="3.5" fill="none"/>
<path d="M113.75 1558H128M120.25 1526.4H128M120.25 1494.8H128M120.25 1463.2H128M120.25 1431.6H128M113.75 1400H128M120.25 1368.4H128M120.25 1336.8H128M120.25 1305.2H128M120.25 1273.6H128M113.75 1242H128M128 1558V1572.5M232.25 1558V1572.5M336.5 1558V1572.5M440.75 1558V1572.5M545 1558V1572.5M649.25 1558V1572.5" stroke="#000" stroke-width="3.5" fill="none"/>
<text transform="translate(105 1250.3) scale(1 1.06)" font-size="23.2" text-anchor="end" fill="#000">100</text>
<text transform="translate(105 1408.3) scale(1 1.06)" font-size="23.2" text-anchor="end" fill="#000">50</text>
<text transform="translate(105 1566.3) scale(1 1.06)" font-size="23.2" text-anchor="end" fill="#000">0</text>
<text transform="translate(128 1601.5) scale(1 1.06)" font-size="24" text-anchor="middle" fill="#000">0</text>
<text transform="translate(232.25 1601.5) scale(1 1.06)" font-size="24" text-anchor="middle" fill="#000">20</text>
<text transform="translate(336.5 1601.5) scale(1 1.06)" font-size="24" text-anchor="middle" fill="#000">40</text>
<text transform="translate(440.75 1601.5) scale(1 1.06)" font-size="24" text-anchor="middle" fill="#000">60</text>
<text transform="translate(545 1601.5) scale(1 1.06)" font-size="24" text-anchor="middle" fill="#000">80</text>
<text transform="translate(649.25 1601.5) scale(1 1.06)" font-size="24" text-anchor="middle" fill="#000">100</text>
<path d="M370.5 1242H372.5V1263H425V1283.75H451.25V1305H461.25V1368H482.5V1410.5H492.5V1431.25H508.75V1452.5H518.75V1473.75H535V1494.5H603.75" stroke="#ff2a00" stroke-width="3.6" fill="none" stroke-dasharray="10 5.5"/>
<line x1="603.75" y1="1488" x2="603.75" y2="1494.5" stroke="#000" stroke-width="1" />
<line x1="133" y1="1234.5" x2="133" y2="1240.5" stroke="#888" stroke-width="1.2" />
<path d="M128 1242H388.75V1263H410V1283.75H436V1347.5H451.25V1389.5H456.5V1410.5H461.25V1494.5H482.5V1537H592.5V1558" stroke="#000" stroke-width="3.6" fill="none" />
<text transform="translate(315 1518) scale(1 1.06)" font-size="32.7" fill="#000"><tspan font-style="italic">P</tspan> &lt; 0.05</text>
<text transform="translate(389 1643.5) scale(1 1.06)" font-size="32" text-anchor="middle" fill="#000">Days elapsed</text>
<text transform="translate(59.5 1386.3) rotate(-90) scale(1 1.09)" font-size="32" text-anchor="middle">Survival rate %</text>
<line x1="582.5" y1="1221.25" x2="618" y2="1221.25" stroke="#000" stroke-width="9.5" stroke-linecap="round"/>
<line x1="582.5" y1="1270" x2="618" y2="1270" stroke="#ff2a00" stroke-width="9.5" stroke-linecap="round"/>
<text transform="translate(638.5 1232) scale(1 1.06)" font-size="32" fill="#000">ID8/<tspan font-style="italic">Lect2</tspan><tspan font-size="20" dy="-12">+/+</tspan><tspan dy="12"> + PBS</tspan></text>
<text transform="translate(638.5 1280.75) scale(1 1.06)" font-size="32" fill="#000">ID8/<tspan font-style="italic">Lect2</tspan><tspan font-size="20" dy="-12">+/+</tspan><tspan dy="12"> + αPD-L1</tspan></text>
<path d="M1163 1215.5V1561.75" stroke="#000" stroke-width="3.5" fill="none"/>
<path d="M1147.5 1560H1682.75" stroke="#000" stroke-width="3.5" fill="none"/>
<path d="M1147.5 1560H1163M1154 1528.62H1163M1154 1497.25H1163M1154 1465.88H1163M1154 1434.5H1163M1147.5 1403.12H1163M1154 1371.75H1163M1154 1340.38H1163M1154 1309H1163M1154 1277.62H1163M1147.5 1246.25H1163M1162.5 1560V1575M1266.2 1560V1575M1369.9 1560V1575M1473.6 1560V1575M1577.3 1560V1575M1681 1560V1575" stroke="#000" stroke-width="3.5" fill="none"/>
<text transform="translate(1137.5 1254.55) scale(1 1.06)" font-size="23.2" text-anchor="end" fill="#000">100</text>
<text transform="translate(1137.5 1411.42) scale(1 1.06)" font-size="23.2" text-anchor="end" fill="#000">50</text>
<text transform="translate(1137.5 1568.3) scale(1 1.06)" font-size="23.2" text-anchor="end" fill="#000">0</text>
<text transform="translate(1162.5 1603.5) scale(1 1.06)" font-size="24" text-anchor="middle" fill="#000">0</text>
<text transform="translate(1266.2 1603.5) scale(1 1.06)" font-size="24" text-anchor="middle" fill="#000">20</text>
<text transform="translate(1369.9 1603.5) scale(1 1.06)" font-size="24" text-anchor="middle" fill="#000">40</text>
<text transform="translate(1473.6 1603.5) scale(1 1.06)" font-size="24" text-anchor="middle" fill="#000">60</text>
<text transform="translate(1577.3 1603.5) scale(1 1.06)" font-size="24" text-anchor="middle" fill="#000">80</text>
<text transform="translate(1681 1603.5) scale(1 1.06)" font-size="24" text-anchor="middle" fill="#000">100</text>
<path d="M1162.5 1246.5H1483.5V1288H1493V1393.5H1514.6V1497H1520V1540H1634" stroke="#d683f5" stroke-width="3.6" fill="none" stroke-dasharray="10 5.5"/>
<path d="M1162.5 1246.5H1483.5V1288H1488.5V1393.5H1493.6V1456H1514V1540H1629V1560" stroke="#1a3dff" stroke-width="3.6" fill="none" />
<line x1="1634" y1="1533.6" x2="1634" y2="1541" stroke="#000" stroke-width="3" />
<line x1="1166" y1="1240" x2="1166" y2="1247" stroke="#000" stroke-width="3" />
<text transform="translate(1363 1530) scale(1 1.06)" font-size="32.7" fill="#000"><tspan font-style="italic">P</tspan> = 0.15</text>
<text transform="translate(1428.75 1644) scale(1 1.06)" font-size="32" text-anchor="middle" fill="#000">Days elapsed</text>
<text transform="translate(1101 1387.5) rotate(-90) scale(1 1.09)" font-size="32" text-anchor="middle">Survival rate %</text>
<line x1="1627" y1="1230" x2="1661" y2="1230" stroke="#1a3dff" stroke-width="9" stroke-linecap="round"/>
<line x1="1627" y1="1278" x2="1661" y2="1278" stroke="#d683f5" stroke-width="9" stroke-linecap="round"/>
<text transform="translate(1688 1240.5) scale(1 1.06)" font-size="32" fill="#000">ID8/<tspan font-style="italic">Lect2</tspan> <tspan font-size="20" dy="-12">-/-</tspan><tspan dy="12"> + PBS</tspan></text>
<text transform="translate(1688 1287.6) scale(1 1.06)" font-size="32" fill="#000">ID8/<tspan font-style="italic">Lect2</tspan> <tspan font-size="20" dy="-12">-/-</tspan><tspan dy="12"> + αPD-L1</tspan></text>
</g></svg>
</body></html>
